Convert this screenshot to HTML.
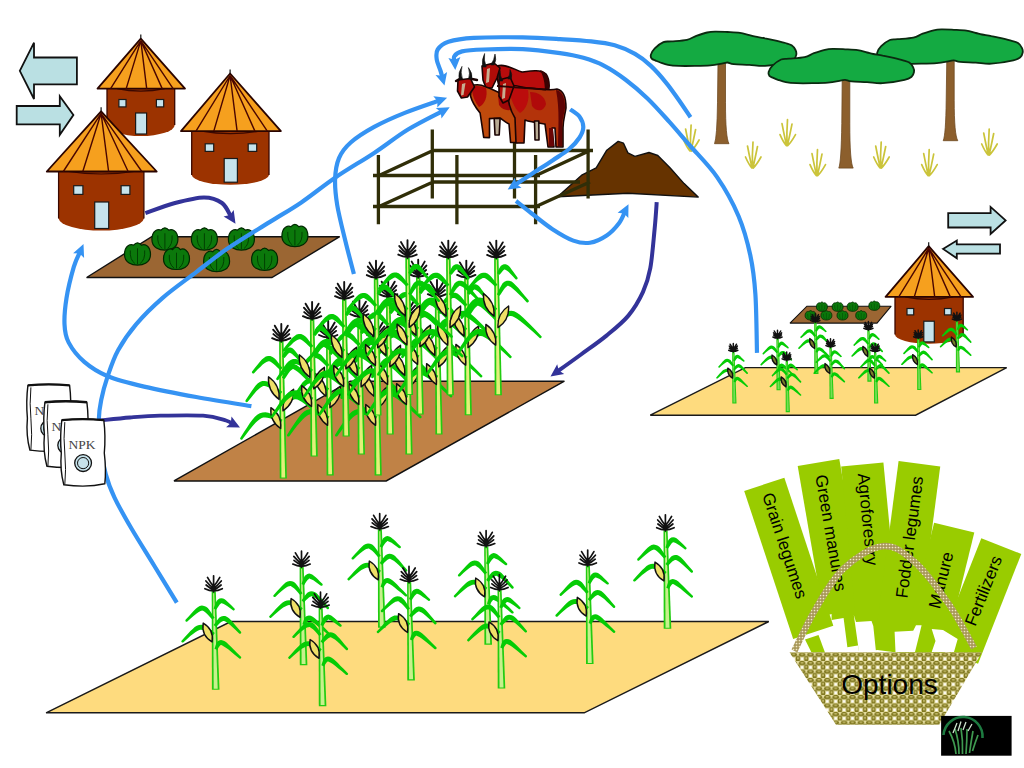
<!DOCTYPE html>
<html><head><meta charset="utf-8"><style>html,body{margin:0;padding:0;background:#fff;overflow:hidden}svg{display:block}</style></head><body>
<svg width="1024" height="768" viewBox="0 0 1024 768">
<defs><pattern id="weave" x="789.5" y="652.5" width="8.4" height="8.5" patternUnits="userSpaceOnUse"><rect width="8.4" height="8.5" fill="#e4dc9e"/><rect x="3" y="5.1" width="2.4" height="2.4" fill="#ffffff"/><ellipse cx="4.2" cy="2.1" rx="3.3" ry="2.2" fill="#807820"/><ellipse cx="4.2" cy="1.7" rx="1.7" ry="0.8" fill="#c4ba6a"/><ellipse cx="0" cy="6.35" rx="2.2" ry="3.0" fill="#807820"/><ellipse cx="8.4" cy="6.35" rx="2.2" ry="3.0" fill="#807820"/><ellipse cx="0" cy="5.8" rx="0.9" ry="1.4" fill="#c4ba6a"/><ellipse cx="8.4" cy="5.8" rx="0.9" ry="1.4" fill="#c4ba6a"/></pattern><pattern id="weave2" width="3" height="3" patternUnits="userSpaceOnUse"><rect width="3" height="3" fill="#a8985a"/><circle cx="1.5" cy="1.5" r="0.85" fill="#f0e8c4"/></pattern></defs>
<rect width="1024" height="768" fill="#ffffff"/>
<polygon points="19.8,70.8 34,42.7 34,57.5 76.9,57.5 76.9,84.4 34,84.4 34,99" fill="#bae0e3" stroke="#111" stroke-width="1.8" stroke-linejoin="miter"/>
<polygon points="73.4,115 59.8,96.2 59.8,106 16.7,106 16.7,124.4 59.8,124.4 59.8,134.8" fill="#bae0e3" stroke="#111" stroke-width="1.8" stroke-linejoin="miter"/>
<polygon points="1005.6,220.4 990.6,206.9 990.6,213.2 948.2,213.2 948.2,227.5 990.6,227.5 990.6,233.9" fill="#bae0e3" stroke="#111" stroke-width="1.8" stroke-linejoin="miter"/>
<polygon points="943,248.9 956.8,240.6 956.8,244.4 1000,244.4 1000,253.7 956.8,253.7 956.8,258.2" fill="#bae0e3" stroke="#111" stroke-width="1.8" stroke-linejoin="miter"/>
<path d="M107,86.6 L107,125 A33.8,11 0 0 0 174.7,125 L174.7,86.6 Z" fill="#9c3300"/>
<path d="M107,88.6 L107,125 M174.7,88.6 L174.7,125" stroke="#3a0800" stroke-width="1.3" fill="none"/>
<path d="M117,88.6 Q140.8,93.6 164.7,88.6" stroke="#3a0800" stroke-width="1.2" fill="none"/>
<rect x="118.9" y="99.5" width="7.1" height="7.4" fill="#c6e3ec" stroke="#1a1a1a" stroke-width="1.2"/>
<rect x="156.4" y="99.5" width="7.3" height="7.4" fill="#c6e3ec" stroke="#1a1a1a" stroke-width="1.2"/>
<rect x="135.6" y="113" width="11" height="21" fill="#c6e3ec" stroke="#1a1a1a" stroke-width="1.2"/>
<polygon points="140.8,38.6 97.5,88.6 185,88.6" fill="#f6a01e" stroke="#2a0400" stroke-width="1.8" stroke-linejoin="round"/>
<path d="M140.8,40.6 L110.6,88.6 M140.8,40.6 L126.2,88.6 M140.8,40.6 L146.7,88.6 M140.8,40.6 L162.2,88.6 M140.8,40.6 L173.1,88.6 " stroke="#4a0600" stroke-width="1.4" fill="none"/>
<path d="M140.8,38.6 L140.8,34.6" stroke="#111" stroke-width="1.2"/>
<path d="M191.7,129.1 L191.7,175 A38.7,10.3 0 0 0 269,175 L269,129.1 Z" fill="#9c3300"/>
<path d="M191.7,131.1 L191.7,175 M269,131.1 L269,175" stroke="#3a0800" stroke-width="1.3" fill="none"/>
<path d="M201.7,131.1 Q230.3,136.1 259,131.1" stroke="#3a0800" stroke-width="1.2" fill="none"/>
<rect x="205.2" y="143.8" width="8.5" height="7.6" fill="#c6e3ec" stroke="#1a1a1a" stroke-width="1.2"/>
<rect x="248.2" y="143.8" width="8.5" height="7.6" fill="#c6e3ec" stroke="#1a1a1a" stroke-width="1.2"/>
<rect x="224.2" y="158.5" width="13.2" height="23.7" fill="#c6e3ec" stroke="#1a1a1a" stroke-width="1.2"/>
<polygon points="230.1,73.5 181,131.1 280.9,131.1" fill="#f6a01e" stroke="#2a0400" stroke-width="1.8" stroke-linejoin="round"/>
<path d="M230.1,75.5 L196,131.1 M230.1,75.5 L213.8,131.1 M230.1,75.5 L237.1,131.1 M230.1,75.5 L254.9,131.1 M230.1,75.5 L267.3,131.1 " stroke="#4a0600" stroke-width="1.4" fill="none"/>
<path d="M230.1,73.5 L230.1,69.5" stroke="#111" stroke-width="1.2"/>
<path d="M58.6,169.5 L58.6,218.5 A42.7,12.7 0 0 0 143.9,218.5 L143.9,169.5 Z" fill="#9c3300"/>
<path d="M58.6,171.5 L58.6,218.5 M143.9,171.5 L143.9,218.5" stroke="#3a0800" stroke-width="1.3" fill="none"/>
<path d="M68.6,171.5 Q101.2,176.5 133.9,171.5" stroke="#3a0800" stroke-width="1.2" fill="none"/>
<rect x="73.7" y="185.7" width="9.2" height="8.7" fill="#c6e3ec" stroke="#1a1a1a" stroke-width="1.2"/>
<rect x="121.1" y="185.7" width="8.8" height="8.7" fill="#c6e3ec" stroke="#1a1a1a" stroke-width="1.2"/>
<rect x="94.7" y="202" width="14" height="26.5" fill="#c6e3ec" stroke="#1a1a1a" stroke-width="1.2"/>
<polygon points="101.1,111.3 46.8,171.5 156.7,171.5" fill="#f6a01e" stroke="#2a0400" stroke-width="1.8" stroke-linejoin="round"/>
<path d="M101.1,113.3 L63.3,171.5 M101.1,113.3 L82.8,171.5 M101.1,113.3 L108.6,171.5 M101.1,113.3 L128.1,171.5 M101.1,113.3 L141.8,171.5 " stroke="#4a0600" stroke-width="1.4" fill="none"/>
<path d="M101.1,111.3 L101.1,107.3" stroke="#111" stroke-width="1.2"/>
<polygon points="151.7,236.7 339.7,236.7 271.9,277.5 86.6,277.5" fill="#9b6633" stroke-miterlimit="1.5" stroke="#111" stroke-width="1.4"/>
<path d="M151.9,239.6 C151.9,230.2 158.4,228.6 161,230.2 C163.6,227 166.2,227 168.8,230.2 C171.4,228.6 177.9,230.2 177.9,239.6 C177.9,248 170.1,250.1 164.9,250.1 C159.7,250.1 151.9,248 151.9,239.6 Z" fill="#0b780b" stroke="#002800" stroke-width="1.2"/>
<path d="M164.9,233.3 L164.9,249 M157.8,235.4 Q157.1,244.8 162.3,248.5 M172.1,235.4 Q172.7,244.8 167.5,248.5" fill="none" stroke="#003a00" stroke-width="0.9"/>
<path d="M191.4,239.6 C191.4,230.2 197.9,228.6 200.5,230.2 C203.1,227 205.7,227 208.3,230.2 C210.9,228.6 217.4,230.2 217.4,239.6 C217.4,248 209.6,250.1 204.4,250.1 C199.2,250.1 191.4,248 191.4,239.6 Z" fill="#0b780b" stroke="#002800" stroke-width="1.2"/>
<path d="M204.4,233.3 L204.4,249 M197.2,235.4 Q196.6,244.8 201.8,248.5 M211.6,235.4 Q212.2,244.8 207,248.5" fill="none" stroke="#003a00" stroke-width="0.9"/>
<path d="M228.4,239.6 C228.4,230.2 234.9,228.6 237.5,230.2 C240.1,227 242.7,227 245.3,230.2 C247.9,228.6 254.4,230.2 254.4,239.6 C254.4,248 246.6,250.1 241.4,250.1 C236.2,250.1 228.4,248 228.4,239.6 Z" fill="#0b780b" stroke="#002800" stroke-width="1.2"/>
<path d="M241.4,233.3 L241.4,249 M234.2,235.4 Q233.6,244.8 238.8,248.5 M248.6,235.4 Q249.2,244.8 244,248.5" fill="none" stroke="#003a00" stroke-width="0.9"/>
<path d="M281.9,236.1 C281.9,226.7 288.4,225.1 291,226.7 C293.6,223.5 296.2,223.5 298.8,226.7 C301.4,225.1 307.9,226.7 307.9,236.1 C307.9,244.5 300.1,246.6 294.9,246.6 C289.7,246.6 281.9,244.5 281.9,236.1 Z" fill="#0b780b" stroke="#002800" stroke-width="1.2"/>
<path d="M294.9,229.8 L294.9,245.5 M287.8,231.9 Q287.1,241.3 292.3,245 M302,231.9 Q302.7,241.3 297.5,245" fill="none" stroke="#003a00" stroke-width="0.9"/>
<path d="M124.5,254.6 C124.5,245.2 131,243.6 133.6,245.2 C136.2,242 138.8,242 141.4,245.2 C144,243.6 150.5,245.2 150.5,254.6 C150.5,263 142.7,265.1 137.5,265.1 C132.3,265.1 124.5,263 124.5,254.6 Z" fill="#0b780b" stroke="#002800" stroke-width="1.2"/>
<path d="M137.5,248.3 L137.5,264.1 M130.3,250.4 Q129.7,259.9 134.9,263.5 M144.7,250.4 Q145.3,259.9 140.1,263.5" fill="none" stroke="#003a00" stroke-width="0.9"/>
<path d="M163.5,259 C163.5,249.6 170,248 172.6,249.6 C175.2,246.4 177.8,246.4 180.4,249.6 C183,248 189.5,249.6 189.5,259 C189.5,267.4 181.7,269.5 176.5,269.5 C171.3,269.5 163.5,267.4 163.5,259 Z" fill="#0b780b" stroke="#002800" stroke-width="1.2"/>
<path d="M176.5,252.7 L176.5,268.4 M169.3,254.8 Q168.7,264.2 173.9,267.9 M183.7,254.8 Q184.3,264.2 179.1,267.9" fill="none" stroke="#003a00" stroke-width="0.9"/>
<path d="M203.6,261.2 C203.6,251.8 210.1,250.2 212.7,251.8 C215.3,248.6 217.9,248.6 220.5,251.8 C223.1,250.2 229.6,251.8 229.6,261.2 C229.6,269.6 221.8,271.7 216.6,271.7 C211.4,271.7 203.6,269.6 203.6,261.2 Z" fill="#0b780b" stroke="#002800" stroke-width="1.2"/>
<path d="M216.6,254.9 L216.6,270.6 M209.4,257 Q208.8,266.4 214,270.1 M223.8,257 Q224.4,266.4 219.2,270.1" fill="none" stroke="#003a00" stroke-width="0.9"/>
<path d="M251.6,259.9 C251.6,250.4 258.1,248.9 260.7,250.4 C263.3,247.3 265.9,247.3 268.5,250.4 C271.1,248.9 277.6,250.4 277.6,259.9 C277.6,268.3 269.8,270.4 264.6,270.4 C259.4,270.4 251.6,268.3 251.6,259.9 Z" fill="#0b780b" stroke="#002800" stroke-width="1.2"/>
<path d="M264.6,253.6 L264.6,269.3 M257.5,255.7 Q256.8,265.1 262,268.8 M271.8,255.7 Q272.4,265.1 267.2,268.8" fill="none" stroke="#003a00" stroke-width="0.9"/>
<path d="M690,151 Q687.1,148 683.6,140 M690.2,151 Q688.1,142 685.6,129 M690.6,151 Q690.1,139 691.1,125 M691,151 Q693.1,142 695.6,129.5 M691.3,151 Q694.6,148 699.1,140 " stroke="#cbc43a" stroke-width="1.7" fill="none" stroke-linecap="round"/>
<path d="M751.9,168 Q749,165 745.5,157 M752.1,168 Q750,159 747.5,146 M752.5,168 Q752,156 753,142 M752.9,168 Q755,159 757.5,146.5 M753.2,168 Q756.5,165 761,157 " stroke="#cbc43a" stroke-width="1.7" fill="none" stroke-linecap="round"/>
<path d="M786.4,145.6 Q783.5,142.6 780,134.6 M786.6,145.6 Q784.5,136.6 782,123.6 M787,145.6 Q786.5,133.6 787.5,119.6 M787.4,145.6 Q789.5,136.6 792,124.1 M787.7,145.6 Q791,142.6 795.5,134.6 " stroke="#cbc43a" stroke-width="1.7" fill="none" stroke-linecap="round"/>
<path d="M816.4,175.6 Q813.5,172.6 810,164.6 M816.6,175.6 Q814.5,166.6 812,153.6 M817,175.6 Q816.5,163.6 817.5,149.6 M817.4,175.6 Q819.5,166.6 822,154.1 M817.7,175.6 Q821,172.6 825.5,164.6 " stroke="#cbc43a" stroke-width="1.7" fill="none" stroke-linecap="round"/>
<path d="M880.1,168 Q877.2,165 873.7,157 M880.3,168 Q878.2,159 875.7,146 M880.7,168 Q880.2,156 881.2,142 M881.1,168 Q883.2,159 885.7,146.5 M881.4,168 Q884.7,165 889.2,157 " stroke="#cbc43a" stroke-width="1.7" fill="none" stroke-linecap="round"/>
<path d="M928.1,175.6 Q925.2,172.6 921.7,164.6 M928.3,175.6 Q926.2,166.6 923.7,153.6 M928.7,175.6 Q928.2,163.6 929.2,149.6 M929.1,175.6 Q931.2,166.6 933.7,154.1 M929.4,175.6 Q932.7,172.6 937.2,164.6 " stroke="#cbc43a" stroke-width="1.7" fill="none" stroke-linecap="round"/>
<path d="M988.1,155 Q985.2,152 981.7,144 M988.3,155 Q986.2,146 983.7,133 M988.7,155 Q988.2,143 989.2,129 M989.1,155 Q991.2,146 993.7,133.5 M989.4,155 Q992.7,152 997.2,144 " stroke="#cbc43a" stroke-width="1.7" fill="none" stroke-linecap="round"/>
<path d="M718,62 L717.5,102.8 Q717,137.7 714.5,143.7 L729,143.7 Q725.5,137.7 725.5,102.8 L725.5,62 Z" fill="#8c5f2d" stroke="#6f4a22" stroke-width="0.8"/>
<path d="M650.9,54.7 C651.4,53 652.7,50.5 654.8,48.4 C656.9,46.3 660.6,43.4 663.4,42.2 C666.1,41 667.4,41.8 671.3,41.4 C675.2,41 682.7,40.7 686.9,39.8 C691.1,38.9 692.9,37.1 696.3,35.9 C699.7,34.7 704.1,33.2 707.2,32.5 C710.3,31.8 711.6,31.7 715,31.6 C718.4,31.5 723.3,31.8 727.5,32 C731.7,32.2 736.4,32.3 740,32.8 C743.6,33.3 746.8,34.6 749.4,35.2 C752,35.9 753,36.2 755.6,36.7 C758.2,37.2 761.6,37.6 765,38.3 C768.4,38.9 772.5,39.8 775.9,40.6 C779.3,41.4 782.7,42.2 785.3,43 C787.9,43.8 789.9,44.1 791.6,45.3 C793.3,46.5 794.7,48.4 795.5,50 C796.3,51.6 796.6,53.1 796.3,54.7 C796,56.3 795.5,58.1 793.9,59.4 C792.3,60.7 791.7,61.4 786.9,62.5 C782.1,63.6 771.2,65.5 765,65.9 C758.8,66.3 754.6,65.1 749.4,64.8 C744.2,64.5 737.4,64.5 733.8,64.1 C730.1,63.7 729.3,62.6 727.5,62.5 C725.7,62.4 725.7,62.8 722.8,63.3 C719.9,63.8 715,64.9 710.3,65.3 C705.6,65.7 699.9,65.8 694.7,65.9 C689.5,66 683.5,66.1 679.1,65.9 C674.7,65.7 671.2,65.4 668.1,64.8 C665,64.2 662.4,63.2 660.3,62.5 C658.2,61.8 657,61.2 655.6,60.6 C654.2,60 652.5,59.6 651.7,58.6 C650.9,57.6 650.4,56.4 650.9,54.7 Z" fill="#14aa42" stroke="#0b2a10" stroke-width="1.8"/>
<path d="M946.8,59.8 L946.2,100.2 Q945.8,134.7 943.2,140.7 L957.8,140.7 Q954.2,134.7 954.2,100.2 L954.2,59.8 Z" fill="#8c5f2d" stroke="#6f4a22" stroke-width="0.8"/>
<path d="M877.3,52.5 C877.8,50.8 879.1,48.3 881.2,46.2 C883.3,44.1 887,41.2 889.8,40 C892.5,38.8 893.8,39.6 897.7,39.2 C901.6,38.8 909.1,38.5 913.3,37.6 C917.5,36.7 919.3,34.9 922.7,33.7 C926.1,32.5 930.5,31 933.6,30.3 C936.7,29.6 938,29.5 941.4,29.4 C944.8,29.3 949.7,29.6 953.9,29.8 C958.1,30 962.8,30.1 966.4,30.6 C970,31.1 973.2,32.4 975.8,33 C978.4,33.6 979.4,34 982,34.5 C984.6,35 988,35.4 991.4,36.1 C994.8,36.7 998.9,37.6 1002.3,38.4 C1005.7,39.2 1009.1,40 1011.7,40.8 C1014.3,41.6 1016.3,41.9 1018,43.1 C1019.7,44.3 1021.1,46.2 1021.9,47.8 C1022.7,49.4 1023,50.9 1022.7,52.5 C1022.4,54.1 1021.9,55.9 1020.3,57.2 C1018.7,58.5 1018.1,59.2 1013.3,60.3 C1008.5,61.4 997.6,63.3 991.4,63.7 C985.1,64.1 981,62.9 975.8,62.6 C970.6,62.3 963.8,62.3 960.2,61.9 C956.5,61.5 955.7,60.4 953.9,60.3 C952.1,60.2 952.1,60.6 949.2,61.1 C946.3,61.6 941.4,62.7 936.7,63.1 C932,63.5 926.3,63.6 921.1,63.7 C915.9,63.8 909.9,63.9 905.5,63.7 C901.1,63.5 897.6,63.2 894.5,62.6 C891.4,62 888.8,61 886.7,60.3 C884.6,59.6 883.4,59 882,58.4 C880.6,57.8 878.9,57.4 878.1,56.4 C877.3,55.4 876.8,54.2 877.3,52.5 Z" fill="#14aa42" stroke="#0b2a10" stroke-width="1.8"/>
<path d="M842.2,79.3 L841.8,123.7 Q841.2,162.1 838.8,168.1 L853.2,168.1 Q849.8,162.1 849.8,123.7 L849.8,79.3 Z" fill="#8c5f2d" stroke="#6f4a22" stroke-width="0.8"/>
<path d="M768.6,72 C769.1,70.3 770.4,67.8 772.5,65.7 C774.6,63.6 778.4,60.7 781.1,59.5 C783.9,58.3 785.1,59.1 789,58.7 C792.9,58.3 800.4,58 804.6,57.1 C808.8,56.2 810.6,54.4 814,53.2 C817.4,52 821.8,50.5 824.9,49.8 C828,49.1 829.3,49 832.7,48.9 C836.1,48.8 841,49.1 845.2,49.3 C849.4,49.5 854.1,49.6 857.7,50.1 C861.4,50.6 864.5,51.9 867.1,52.5 C869.7,53.1 870.7,53.5 873.3,54 C875.9,54.5 879.3,54.9 882.7,55.6 C886.1,56.2 890.2,57.1 893.6,57.9 C897,58.7 900.4,59.5 903,60.3 C905.6,61.1 907.6,61.4 909.3,62.6 C911,63.8 912.4,65.7 913.2,67.3 C914,68.9 914.3,70.4 914,72 C913.7,73.6 913.2,75.4 911.6,76.7 C910,78 909.4,78.7 904.6,79.8 C899.8,80.9 889,82.8 882.7,83.2 C876.5,83.6 872.3,82.4 867.1,82.1 C861.9,81.8 855.1,81.8 851.5,81.4 C847.9,81 847,79.9 845.2,79.8 C843.4,79.7 843.4,80.1 840.5,80.6 C837.6,81.1 832.7,82.2 828,82.6 C823.3,83 817.6,83.1 812.4,83.2 C807.2,83.3 801.2,83.4 796.8,83.2 C792.4,83 788.9,82.7 785.8,82.1 C782.7,81.5 780.1,80.5 778,79.8 C775.9,79.1 774.7,78.6 773.3,77.9 C771.9,77.2 770.2,76.9 769.4,75.9 C768.6,74.9 768.1,73.7 768.6,72 Z" fill="#14aa42" stroke="#0b2a10" stroke-width="1.8"/>
<polygon points="745.3,367.6 1006.7,367.6 915.6,415.2 650.3,415.2" fill="#fedb7e" stroke-miterlimit="1.5" stroke="#1a1a1a" stroke-width="1.4"/>
<polygon points="806.9,306.2 891.2,306.2 877,323.1 790,323.1" fill="#9b6633" stroke-miterlimit="1.5" stroke="#111" stroke-width="1.1"/>
<path d="M816.4,307 C816.4,303 819.2,302.4 820.3,303 C821.4,301.7 822.4,301.7 823.5,303 C824.6,302.4 827.4,303 827.4,307 C827.4,310.5 824.1,311.4 821.9,311.4 C819.7,311.4 816.4,310.5 816.4,307 Z" fill="#0b780b" stroke="#002800" stroke-width="0.8"/>
<path d="M821.9,304.4 L821.9,311 M818.9,305.2 Q818.6,309.2 820.8,310.7 M824.9,305.2 Q825.2,309.2 823,310.7" fill="none" stroke="#003a00" stroke-width="0.4"/>
<path d="M832.1,307 C832.1,303 834.9,302.4 836,303 C837.1,301.7 838.1,301.7 839.2,303 C840.3,302.4 843.1,303 843.1,307 C843.1,310.5 839.8,311.4 837.6,311.4 C835.4,311.4 832.1,310.5 832.1,307 Z" fill="#0b780b" stroke="#002800" stroke-width="0.8"/>
<path d="M837.6,304.4 L837.6,311 M834.6,305.2 Q834.3,309.2 836.5,310.7 M840.6,305.2 Q840.9,309.2 838.7,310.7" fill="none" stroke="#003a00" stroke-width="0.4"/>
<path d="M847.1,307 C847.1,303 849.9,302.4 851,303 C852.1,301.7 853.1,301.7 854.2,303 C855.3,302.4 858.1,303 858.1,307 C858.1,310.5 854.8,311.4 852.6,311.4 C850.4,311.4 847.1,310.5 847.1,307 Z" fill="#0b780b" stroke="#002800" stroke-width="0.8"/>
<path d="M852.6,304.4 L852.6,311 M849.6,305.2 Q849.3,309.2 851.5,310.7 M855.6,305.2 Q855.9,309.2 853.7,310.7" fill="none" stroke="#003a00" stroke-width="0.4"/>
<path d="M868.8,306 C868.8,302 871.6,301.4 872.7,302 C873.8,300.7 874.8,300.7 875.9,302 C877,301.4 879.8,302 879.8,306 C879.8,309.5 876.5,310.4 874.3,310.4 C872.1,310.4 868.8,309.5 868.8,306 Z" fill="#0b780b" stroke="#002800" stroke-width="0.8"/>
<path d="M874.3,303.4 L874.3,310 M871.3,304.2 Q871,308.2 873.2,309.7 M877.3,304.2 Q877.6,308.2 875.4,309.7" fill="none" stroke="#003a00" stroke-width="0.4"/>
<path d="M805.1,315.6 C805.1,311.6 807.9,311 809,311.6 C810.1,310.3 811.1,310.3 812.2,311.6 C813.3,311 816.1,311.6 816.1,315.6 C816.1,319.1 812.8,320 810.6,320 C808.4,320 805.1,319.1 805.1,315.6 Z" fill="#0b780b" stroke="#002800" stroke-width="0.8"/>
<path d="M810.6,313 L810.6,319.6 M807.6,313.8 Q807.3,317.8 809.5,319.3 M813.6,313.8 Q813.9,317.8 811.7,319.3" fill="none" stroke="#003a00" stroke-width="0.4"/>
<path d="M820.9,315.6 C820.9,311.6 823.7,311 824.8,311.6 C825.9,310.3 826.9,310.3 828,311.6 C829.1,311 831.9,311.6 831.9,315.6 C831.9,319.1 828.6,320 826.4,320 C824.2,320 820.9,319.1 820.9,315.6 Z" fill="#0b780b" stroke="#002800" stroke-width="0.8"/>
<path d="M826.4,313 L826.4,319.6 M823.4,313.8 Q823.1,317.8 825.3,319.3 M829.4,313.8 Q829.7,317.8 827.5,319.3" fill="none" stroke="#003a00" stroke-width="0.4"/>
<path d="M837,315.6 C837,311.6 839.8,311 840.9,311.6 C842,310.3 843,310.3 844.1,311.6 C845.2,311 848,311.6 848,315.6 C848,319.1 844.7,320 842.5,320 C840.3,320 837,319.1 837,315.6 Z" fill="#0b780b" stroke="#002800" stroke-width="0.8"/>
<path d="M842.5,313 L842.5,319.6 M839.5,313.8 Q839.2,317.8 841.4,319.3 M845.5,313.8 Q845.8,317.8 843.6,319.3" fill="none" stroke="#003a00" stroke-width="0.4"/>
<path d="M855.7,315.6 C855.7,311.6 858.5,311 859.6,311.6 C860.7,310.3 861.7,310.3 862.8,311.6 C863.9,311 866.7,311.6 866.7,315.6 C866.7,319.1 863.4,320 861.2,320 C859,320 855.7,319.1 855.7,315.6 Z" fill="#0b780b" stroke="#002800" stroke-width="0.8"/>
<path d="M861.2,313 L861.2,319.6 M858.2,313.8 Q857.9,317.8 860.1,319.3 M864.2,313.8 Q864.5,317.8 862.3,319.3" fill="none" stroke="#003a00" stroke-width="0.4"/>
<path d="M895,294.9 L895,334.4 A34.1,9.3 0 0 0 963.2,334.4 L963.2,294.9 Z" fill="#9c3300"/>
<path d="M895,296.9 L895,334.4 M963.2,296.9 L963.2,334.4" stroke="#3a0800" stroke-width="1.3" fill="none"/>
<path d="M905,296.9 Q929.1,301.9 953.2,296.9" stroke="#3a0800" stroke-width="1.2" fill="none"/>
<rect x="907" y="308.5" width="6.7" height="6.4" fill="#c6e3ec" stroke="#1a1a1a" stroke-width="1.2"/>
<rect x="944.5" y="308.5" width="6.7" height="6.4" fill="#c6e3ec" stroke="#1a1a1a" stroke-width="1.2"/>
<rect x="923.8" y="321.2" width="10.5" height="20.7" fill="#c6e3ec" stroke="#1a1a1a" stroke-width="1.2"/>
<polygon points="928.7,246.2 885.6,296.9 973,296.9" fill="#f6a01e" stroke="#2a0400" stroke-width="1.8" stroke-linejoin="round"/>
<path d="M928.7,248.2 L898.7,296.9 M928.7,248.2 L914.3,296.9 M928.7,248.2 L934.7,296.9 M928.7,248.2 L950.3,296.9 M928.7,248.2 L961.1,296.9 " stroke="#4a0600" stroke-width="1.4" fill="none"/>
<path d="M928.7,246.2 L928.7,242.2" stroke="#111" stroke-width="1.2"/>
<path d="M955.9,372.4 L955.8,320.4 L958.1,320.4 L960.1,372.4 Z" fill="#22cc11"/>
<path d="M957,371.3 L956.6,322.4 L957.3,322.4 L959,371.3 Z" fill="#77dd55"/>
<polygon points="958.5,330.2 959.2,329.1 959.8,328.2 960.3,327.6 960.8,327.2 961,327 961,327 961,327 961.1,327 961.4,327.1 962.1,327.3 963,327.8 964.1,328.5 965.3,329.3 966.8,330.4 967.1,330.7 967.6,330.6 968,330.4 968.2,329.9 968.1,329.5 967.8,329.2 966.6,327.9 965.5,326.8 964.5,325.8 963.7,325 962.9,324.4 962,323.9 961,323.7 959.9,323.9 959,324.5 958.3,325.2 957.9,326 957.6,327 957.2,328.1 956.7,329.4" fill="#05cc05"/>
<polygon points="957.6,334.2 956.6,332.6 955.7,331.2 954.9,330.1 954.1,329 953.1,328.3 952,327.8 950.7,327.7 949.5,327.9 948.4,328.5 947.4,329.4 946.3,330.5 945.1,331.8 943.8,333.4 942.2,335.1 941.9,335.5 941.9,335.9 942.1,336.3 942.5,336.6 943,336.6 943.3,336.3 945.1,334.7 946.7,333.4 948,332.4 949.1,331.6 950,331.2 950.6,330.9 950.9,330.9 951.1,330.9 951.5,331 952,331.4 952.8,332 953.7,332.8 954.8,334 956,335.4" fill="#05cc05"/>
<polygon points="958.3,339.3 959.4,338.2 960.3,337.4 961,336.8 961.6,336.5 962,336.3 962.1,336.3 962.3,336.3 962.7,336.4 963.3,336.8 964.3,337.4 965.4,338.2 966.7,339.4 968.3,340.9 970.1,342.6 970.4,342.9 970.9,342.9 971.3,342.7 971.5,342.3 971.6,341.9 971.3,341.5 969.7,339.6 968.3,337.9 967.1,336.5 966.1,335.3 965.2,334.3 964.2,333.6 963.1,333.2 961.9,333 960.7,333.3 959.8,333.9 959,334.7 958.4,335.7 957.6,336.8 956.8,338.1" fill="#05cc05"/>
<polygon points="957.6,342.1 956.2,340.9 955,339.9 953.9,339 952.8,338.3 951.7,337.9 950.4,337.7 949.2,337.8 948,338.3 946.8,339 945.7,340 944.6,341.1 943.3,342.5 941.8,344.2 940.1,346.1 939.8,346.4 939.8,346.9 940,347.3 940.4,347.5 940.9,347.5 941.2,347.3 943.1,345.6 944.8,344.1 946.2,343 947.5,342.1 948.5,341.5 949.3,341.2 949.9,341 950.4,340.9 950.9,341 951.6,341.2 952.5,341.5 953.6,342 955,342.8 956.5,343.7" fill="#05cc05"/>
<polygon points="959,351.3 959.6,350.3 960.1,349.6 960.6,349.1 960.9,348.9 960.9,348.9 960.8,349 960.9,349 961.3,349.2 962.1,349.6 963.2,350.3 964.5,351.2 966.1,352.4 968,354 970.1,355.7 970.5,356 971,356 971.3,355.8 971.6,355.4 971.5,354.9 971.2,354.6 969.3,352.6 967.6,350.8 966.2,349.4 965,348.1 963.9,347.1 962.9,346.4 961.9,345.9 960.8,345.7 959.6,346 958.7,346.6 958.2,347.5 957.8,348.4 957.5,349.4 957.2,350.6" fill="#05cc05"/>
<path d="M951.4,337.1 Q950.4,343.7 956.1,347 Q957.2,340.4 951.4,337.1 Z" fill="#7b7d2a" stroke="#111" stroke-width="1.4" stroke-linejoin="round"/>
<path d="M956.9,320.9 L956.9,312.3 M956.9,320.2 Q954.6,320.2 952.3,319.1 M956.9,320.2 Q959.2,320.2 961.5,319.1 M956.9,319.6 Q954.9,318.9 953,317.1 M956.9,319.6 Q958.9,318.9 960.9,317.1 M956.9,318.9 Q954.9,317.5 952.9,315 M956.9,318.9 Q958.9,317.5 961,315 M956.9,317.9 Q955.3,316.1 953.7,313.1 M956.9,317.9 Q958.5,316.1 960.1,313.1 " stroke="#111" stroke-width="1.5" stroke-linecap="round" fill="none"/>
<path d="M814.3,373.9 L814.2,321.9 L816.5,321.9 L818.5,373.9 Z" fill="#22cc11"/>
<path d="M815.4,372.8 L815,323.9 L815.7,323.9 L817.4,372.8 Z" fill="#77dd55"/>
<polygon points="816.9,331.7 817.6,330.6 818.2,329.7 818.7,329.1 819.2,328.7 819.4,328.5 819.4,328.5 819.4,328.5 819.5,328.5 819.8,328.6 820.5,328.8 821.4,329.3 822.5,330 823.7,330.8 825.2,331.9 825.5,332.2 826,332.1 826.4,331.9 826.6,331.4 826.5,331 826.2,330.7 825,329.4 823.9,328.3 822.9,327.3 822.1,326.5 821.3,325.9 820.4,325.4 819.4,325.2 818.3,325.4 817.4,326 816.7,326.7 816.3,327.5 816,328.5 815.6,329.6 815.1,330.9" fill="#05cc05"/>
<polygon points="816,335.7 815,334.1 814.1,332.7 813.3,331.6 812.5,330.5 811.5,329.8 810.4,329.3 809.1,329.2 807.9,329.4 806.8,330 805.8,330.9 804.7,332 803.5,333.3 802.2,334.9 800.6,336.6 800.3,337 800.3,337.4 800.5,337.8 800.9,338.1 801.4,338.1 801.7,337.8 803.5,336.2 805.1,334.9 806.4,333.9 807.5,333.1 808.4,332.7 809,332.4 809.3,332.4 809.5,332.4 809.9,332.5 810.4,332.9 811.2,333.5 812.1,334.3 813.2,335.5 814.4,336.9" fill="#05cc05"/>
<polygon points="816.7,340.8 817.8,339.7 818.7,338.9 819.4,338.3 820,338 820.4,337.8 820.5,337.8 820.7,337.8 821.1,337.9 821.7,338.3 822.7,338.9 823.8,339.7 825.1,340.9 826.7,342.4 828.5,344.1 828.8,344.4 829.3,344.4 829.7,344.2 829.9,343.8 830,343.4 829.7,343 828.1,341.1 826.7,339.4 825.5,338 824.5,336.8 823.6,335.8 822.6,335.1 821.5,334.7 820.3,334.5 819.1,334.8 818.2,335.4 817.4,336.2 816.8,337.2 816,338.3 815.2,339.6" fill="#05cc05"/>
<polygon points="816,343.6 814.6,342.4 813.4,341.4 812.3,340.5 811.2,339.8 810.1,339.4 808.8,339.2 807.6,339.3 806.4,339.8 805.2,340.5 804.1,341.5 803,342.6 801.7,344 800.2,345.7 798.5,347.6 798.2,347.9 798.2,348.4 798.4,348.8 798.8,349 799.3,349 799.6,348.8 801.5,347.1 803.2,345.6 804.6,344.5 805.9,343.6 806.9,343 807.7,342.7 808.3,342.5 808.8,342.4 809.3,342.5 810,342.7 810.9,343 812,343.5 813.4,344.3 814.9,345.2" fill="#05cc05"/>
<polygon points="817.4,352.8 818,351.8 818.5,351.1 819,350.6 819.3,350.4 819.3,350.4 819.2,350.5 819.3,350.5 819.7,350.7 820.5,351.1 821.6,351.8 822.9,352.7 824.5,353.9 826.4,355.5 828.5,357.2 828.9,357.5 829.4,357.5 829.7,357.3 830,356.9 829.9,356.4 829.6,356.1 827.7,354.1 826,352.3 824.6,350.9 823.4,349.6 822.3,348.6 821.3,347.9 820.3,347.4 819.2,347.2 818,347.5 817.1,348.1 816.6,349 816.2,349.9 815.9,350.9 815.6,352.1" fill="#05cc05"/>
<path d="M809.8,338.6 Q808.8,345.2 814.5,348.5 Q815.6,341.9 809.8,338.6 Z" fill="#7b7d2a" stroke="#111" stroke-width="1.4" stroke-linejoin="round"/>
<path d="M815.3,322.4 L815.3,313.8 M815.3,321.7 Q813,321.7 810.7,320.6 M815.3,321.7 Q817.6,321.7 819.9,320.6 M815.3,321.1 Q813.3,320.4 811.4,318.6 M815.3,321.1 Q817.3,320.4 819.3,318.6 M815.3,320.4 Q813.3,319 811.3,316.5 M815.3,320.4 Q817.3,319 819.4,316.5 M815.3,319.4 Q813.7,317.6 812.1,314.6 M815.3,319.4 Q816.9,317.6 818.5,314.6 " stroke="#111" stroke-width="1.5" stroke-linecap="round" fill="none"/>
<path d="M867.4,381.7 L867.3,329.7 L869.6,329.7 L871.6,381.7 Z" fill="#22cc11"/>
<path d="M868.5,380.6 L868.1,331.7 L868.8,331.7 L870.5,380.6 Z" fill="#77dd55"/>
<polygon points="870,339.5 870.7,338.4 871.3,337.5 871.8,336.9 872.3,336.5 872.5,336.3 872.5,336.3 872.5,336.3 872.6,336.3 872.9,336.4 873.6,336.6 874.5,337.1 875.6,337.8 876.8,338.6 878.3,339.7 878.6,340 879.1,339.9 879.5,339.7 879.7,339.2 879.6,338.8 879.3,338.5 878.1,337.2 877,336.1 876,335.1 875.2,334.3 874.4,333.7 873.5,333.2 872.5,333 871.4,333.2 870.5,333.8 869.8,334.5 869.4,335.3 869.1,336.3 868.7,337.4 868.2,338.7" fill="#05cc05"/>
<polygon points="869.1,343.5 868.1,341.9 867.2,340.5 866.4,339.4 865.6,338.3 864.6,337.6 863.5,337.1 862.2,337 861,337.2 859.9,337.8 858.9,338.7 857.8,339.8 856.6,341.1 855.3,342.7 853.7,344.4 853.4,344.8 853.4,345.2 853.6,345.6 854,345.9 854.5,345.9 854.8,345.6 856.6,344 858.2,342.7 859.5,341.7 860.6,340.9 861.5,340.5 862.1,340.2 862.4,340.2 862.6,340.2 863,340.3 863.5,340.7 864.3,341.3 865.2,342.1 866.3,343.3 867.5,344.7" fill="#05cc05"/>
<polygon points="869.8,348.6 870.9,347.5 871.8,346.7 872.5,346.1 873.1,345.8 873.5,345.6 873.6,345.6 873.8,345.6 874.2,345.7 874.8,346.1 875.8,346.7 876.9,347.5 878.2,348.7 879.8,350.2 881.6,351.9 881.9,352.2 882.4,352.2 882.8,352 883,351.6 883.1,351.2 882.8,350.8 881.2,348.9 879.8,347.2 878.6,345.8 877.6,344.6 876.7,343.6 875.7,342.9 874.6,342.5 873.4,342.3 872.2,342.6 871.3,343.2 870.5,344 869.9,345 869.1,346.1 868.3,347.4" fill="#05cc05"/>
<polygon points="869.1,351.4 867.7,350.2 866.5,349.2 865.4,348.3 864.3,347.6 863.2,347.2 861.9,347 860.7,347.1 859.5,347.6 858.3,348.3 857.2,349.3 856.1,350.4 854.8,351.8 853.3,353.5 851.6,355.4 851.3,355.7 851.3,356.2 851.5,356.6 851.9,356.8 852.4,356.8 852.7,356.6 854.6,354.9 856.3,353.4 857.7,352.3 859,351.4 860,350.8 860.8,350.5 861.4,350.3 861.9,350.2 862.4,350.3 863.1,350.5 864,350.8 865.1,351.3 866.5,352.1 868,353" fill="#05cc05"/>
<polygon points="870.5,360.6 871.1,359.6 871.6,358.9 872.1,358.4 872.4,358.2 872.4,358.2 872.3,358.3 872.4,358.3 872.8,358.5 873.6,358.9 874.7,359.6 876,360.5 877.6,361.7 879.5,363.3 881.6,365 882,365.3 882.5,365.3 882.8,365.1 883.1,364.7 883,364.2 882.7,363.9 880.8,361.9 879.1,360.1 877.7,358.7 876.5,357.4 875.4,356.4 874.4,355.7 873.4,355.2 872.3,355 871.1,355.3 870.2,355.9 869.7,356.8 869.3,357.7 869,358.7 868.7,359.9" fill="#05cc05"/>
<path d="M862.9,346.4 Q861.9,353 867.6,356.3 Q868.7,349.7 862.9,346.4 Z" fill="#7b7d2a" stroke="#111" stroke-width="1.4" stroke-linejoin="round"/>
<path d="M868.4,330.2 L868.4,321.6 M868.4,329.5 Q866.1,329.5 863.8,328.4 M868.4,329.5 Q870.7,329.5 873,328.4 M868.4,328.9 Q866.4,328.2 864.5,326.4 M868.4,328.9 Q870.4,328.2 872.4,326.4 M868.4,328.2 Q866.4,326.8 864.4,324.3 M868.4,328.2 Q870.4,326.8 872.5,324.3 M868.4,327.2 Q866.8,325.4 865.2,322.4 M868.4,327.2 Q870,325.4 871.6,322.4 " stroke="#111" stroke-width="1.5" stroke-linecap="round" fill="none"/>
<path d="M917.2,390 L917.1,338 L919.4,338 L921.4,390 Z" fill="#22cc11"/>
<path d="M918.3,388.9 L917.9,340 L918.6,340 L920.3,388.9 Z" fill="#77dd55"/>
<polygon points="919.8,347.8 920.5,346.7 921.1,345.8 921.6,345.2 922.1,344.8 922.3,344.6 922.3,344.6 922.3,344.6 922.4,344.6 922.7,344.7 923.4,344.9 924.3,345.4 925.4,346.1 926.6,346.9 928.1,348 928.4,348.3 928.9,348.2 929.3,348 929.5,347.5 929.4,347.1 929.1,346.8 927.9,345.5 926.8,344.4 925.8,343.4 925,342.6 924.2,342 923.3,341.5 922.3,341.3 921.2,341.5 920.3,342.1 919.6,342.8 919.2,343.6 918.9,344.6 918.5,345.7 918,347" fill="#05cc05"/>
<polygon points="918.9,351.8 917.9,350.2 917,348.8 916.2,347.7 915.4,346.6 914.4,345.9 913.3,345.4 912,345.3 910.8,345.5 909.7,346.1 908.7,347 907.6,348.1 906.4,349.4 905.1,351 903.5,352.7 903.2,353.1 903.2,353.5 903.4,353.9 903.8,354.2 904.3,354.2 904.6,353.9 906.4,352.3 908,351 909.3,350 910.4,349.2 911.3,348.8 911.9,348.5 912.2,348.5 912.4,348.5 912.8,348.6 913.3,349 914.1,349.6 915,350.4 916.1,351.6 917.3,353" fill="#05cc05"/>
<polygon points="919.6,356.9 920.7,355.8 921.6,355 922.3,354.4 922.9,354.1 923.3,353.9 923.4,353.9 923.6,353.9 924,354 924.6,354.4 925.6,355 926.7,355.8 928,357 929.6,358.5 931.4,360.2 931.7,360.5 932.2,360.5 932.6,360.3 932.8,359.9 932.9,359.5 932.6,359.1 931,357.2 929.6,355.5 928.4,354.1 927.4,352.9 926.5,351.9 925.5,351.2 924.4,350.8 923.2,350.6 922,350.9 921.1,351.5 920.3,352.3 919.7,353.3 918.9,354.4 918.1,355.7" fill="#05cc05"/>
<polygon points="918.9,359.7 917.5,358.5 916.3,357.5 915.2,356.6 914.1,355.9 913,355.5 911.7,355.3 910.5,355.4 909.3,355.9 908.1,356.6 907,357.6 905.9,358.7 904.6,360.1 903.1,361.8 901.4,363.7 901.1,364 901.1,364.5 901.3,364.9 901.7,365.1 902.2,365.1 902.5,364.9 904.4,363.2 906.1,361.7 907.5,360.6 908.8,359.7 909.8,359.1 910.6,358.8 911.2,358.6 911.7,358.5 912.2,358.6 912.9,358.8 913.8,359.1 914.9,359.6 916.3,360.4 917.8,361.3" fill="#05cc05"/>
<polygon points="920.3,368.9 920.9,367.9 921.4,367.2 921.9,366.7 922.2,366.5 922.2,366.5 922.1,366.6 922.2,366.6 922.6,366.8 923.4,367.2 924.5,367.9 925.8,368.8 927.4,370 929.3,371.6 931.4,373.3 931.8,373.6 932.3,373.6 932.6,373.4 932.9,373 932.8,372.5 932.5,372.2 930.6,370.2 928.9,368.4 927.5,367 926.3,365.7 925.2,364.7 924.2,364 923.2,363.5 922.1,363.3 920.9,363.6 920,364.2 919.5,365.1 919.1,366 918.8,367 918.5,368.2" fill="#05cc05"/>
<path d="M912.7,354.7 Q911.7,361.3 917.4,364.6 Q918.5,358 912.7,354.7 Z" fill="#7b7d2a" stroke="#111" stroke-width="1.4" stroke-linejoin="round"/>
<path d="M918.2,338.5 L918.2,329.9 M918.2,337.8 Q915.9,337.8 913.6,336.7 M918.2,337.8 Q920.5,337.8 922.8,336.7 M918.2,337.2 Q916.2,336.5 914.3,334.7 M918.2,337.2 Q920.2,336.5 922.2,334.7 M918.2,336.5 Q916.2,335.1 914.2,332.6 M918.2,336.5 Q920.2,335.1 922.3,332.6 M918.2,335.5 Q916.6,333.7 915,330.7 M918.2,335.5 Q919.8,333.7 921.4,330.7 " stroke="#111" stroke-width="1.5" stroke-linecap="round" fill="none"/>
<path d="M776.5,390.3 L776.4,338.3 L778.7,338.3 L780.7,390.3 Z" fill="#22cc11"/>
<path d="M777.6,389.2 L777.2,340.3 L777.9,340.3 L779.6,389.2 Z" fill="#77dd55"/>
<polygon points="779.1,348.1 779.8,347 780.4,346.1 780.9,345.5 781.4,345.1 781.6,344.9 781.6,344.9 781.6,344.9 781.7,344.9 782,345 782.7,345.2 783.6,345.7 784.7,346.4 785.9,347.2 787.4,348.3 787.7,348.6 788.2,348.5 788.6,348.3 788.8,347.8 788.7,347.4 788.4,347.1 787.2,345.8 786.1,344.7 785.1,343.7 784.3,342.9 783.5,342.3 782.6,341.8 781.6,341.6 780.5,341.8 779.6,342.4 778.9,343.1 778.5,343.9 778.2,344.9 777.8,346 777.3,347.3" fill="#05cc05"/>
<polygon points="778.2,352.1 777.2,350.5 776.3,349.1 775.5,348 774.7,346.9 773.7,346.2 772.6,345.7 771.3,345.6 770.1,345.8 769,346.4 768,347.3 766.9,348.4 765.7,349.7 764.4,351.3 762.8,353 762.5,353.4 762.5,353.8 762.7,354.2 763.1,354.5 763.6,354.5 763.9,354.2 765.7,352.6 767.3,351.3 768.6,350.3 769.7,349.5 770.6,349.1 771.2,348.8 771.5,348.8 771.7,348.8 772.1,348.9 772.6,349.3 773.4,349.9 774.3,350.7 775.4,351.9 776.6,353.3" fill="#05cc05"/>
<polygon points="778.9,357.2 780,356.1 780.9,355.3 781.6,354.7 782.2,354.4 782.6,354.2 782.7,354.2 782.9,354.2 783.3,354.3 783.9,354.7 784.9,355.3 786,356.1 787.3,357.3 788.9,358.8 790.7,360.5 791,360.8 791.5,360.8 791.9,360.6 792.1,360.2 792.2,359.8 791.9,359.4 790.3,357.5 788.9,355.8 787.7,354.4 786.7,353.2 785.8,352.2 784.8,351.5 783.7,351.1 782.5,350.9 781.3,351.2 780.4,351.8 779.6,352.6 779,353.6 778.2,354.7 777.4,356" fill="#05cc05"/>
<polygon points="778.2,360 776.8,358.8 775.6,357.8 774.5,356.9 773.4,356.2 772.3,355.8 771,355.6 769.8,355.7 768.6,356.2 767.4,356.9 766.3,357.9 765.2,359 763.9,360.4 762.4,362.1 760.7,364 760.4,364.3 760.4,364.8 760.6,365.2 761,365.4 761.5,365.4 761.8,365.2 763.7,363.5 765.4,362 766.8,360.9 768.1,360 769.1,359.4 769.9,359.1 770.5,358.9 771,358.8 771.5,358.9 772.2,359.1 773.1,359.4 774.2,359.9 775.6,360.7 777.1,361.6" fill="#05cc05"/>
<polygon points="779.6,369.2 780.2,368.2 780.7,367.5 781.2,367 781.5,366.8 781.5,366.8 781.4,366.9 781.5,366.9 781.9,367.1 782.7,367.5 783.8,368.2 785.1,369.1 786.7,370.3 788.6,371.9 790.7,373.6 791.1,373.9 791.6,373.9 791.9,373.7 792.2,373.3 792.1,372.8 791.8,372.5 789.9,370.5 788.2,368.7 786.8,367.3 785.6,366 784.5,365 783.5,364.3 782.5,363.8 781.4,363.6 780.2,363.9 779.3,364.5 778.8,365.4 778.4,366.3 778.1,367.3 777.8,368.5" fill="#05cc05"/>
<path d="M772,355 Q771,361.6 776.7,364.9 Q777.8,358.3 772,355 Z" fill="#7b7d2a" stroke="#111" stroke-width="1.4" stroke-linejoin="round"/>
<path d="M777.5,338.8 L777.5,330.2 M777.5,338.1 Q775.2,338.1 772.9,337 M777.5,338.1 Q779.8,338.1 782.1,337 M777.5,337.5 Q775.5,336.8 773.6,335 M777.5,337.5 Q779.5,336.8 781.5,335 M777.5,336.8 Q775.5,335.4 773.5,332.9 M777.5,336.8 Q779.5,335.4 781.6,332.9 M777.5,335.8 Q775.9,334 774.3,331 M777.5,335.8 Q779.1,334 780.7,331 " stroke="#111" stroke-width="1.5" stroke-linecap="round" fill="none"/>
<path d="M829.5,398.9 L829.4,346.9 L831.7,346.9 L833.7,398.9 Z" fill="#22cc11"/>
<path d="M830.6,397.8 L830.2,348.9 L830.9,348.9 L832.6,397.8 Z" fill="#77dd55"/>
<polygon points="832.1,356.7 832.8,355.6 833.4,354.7 833.9,354.1 834.4,353.7 834.6,353.5 834.6,353.5 834.6,353.5 834.7,353.5 835,353.6 835.7,353.8 836.6,354.3 837.7,355 838.9,355.8 840.4,356.9 840.7,357.2 841.2,357.1 841.6,356.9 841.8,356.4 841.7,356 841.4,355.7 840.2,354.4 839.1,353.3 838.1,352.3 837.3,351.5 836.5,350.9 835.6,350.4 834.6,350.2 833.5,350.4 832.6,351 831.9,351.7 831.5,352.5 831.2,353.5 830.8,354.6 830.3,355.9" fill="#05cc05"/>
<polygon points="831.2,360.7 830.2,359.1 829.3,357.7 828.5,356.6 827.7,355.5 826.7,354.8 825.6,354.3 824.3,354.2 823.1,354.4 822,355 821,355.9 819.9,357 818.7,358.3 817.4,359.9 815.8,361.6 815.5,362 815.5,362.4 815.7,362.8 816.1,363.1 816.6,363.1 816.9,362.8 818.7,361.2 820.3,359.9 821.6,358.9 822.7,358.1 823.6,357.7 824.2,357.4 824.5,357.4 824.7,357.4 825.1,357.5 825.6,357.9 826.4,358.5 827.3,359.3 828.4,360.5 829.6,361.9" fill="#05cc05"/>
<polygon points="831.9,365.8 833,364.7 833.9,363.9 834.6,363.3 835.2,363 835.6,362.8 835.7,362.8 835.9,362.8 836.3,362.9 836.9,363.3 837.9,363.9 839,364.7 840.3,365.9 841.9,367.4 843.7,369.1 844,369.4 844.5,369.4 844.9,369.2 845.1,368.8 845.2,368.4 844.9,368 843.3,366.1 841.9,364.4 840.7,363 839.7,361.8 838.8,360.8 837.8,360.1 836.7,359.7 835.5,359.5 834.3,359.8 833.4,360.4 832.6,361.2 832,362.2 831.2,363.3 830.4,364.6" fill="#05cc05"/>
<polygon points="831.2,368.6 829.8,367.4 828.6,366.4 827.5,365.5 826.4,364.8 825.3,364.4 824,364.2 822.8,364.3 821.6,364.8 820.4,365.5 819.3,366.5 818.2,367.6 816.9,369 815.4,370.7 813.7,372.6 813.4,372.9 813.4,373.4 813.6,373.8 814,374 814.5,374 814.8,373.8 816.7,372.1 818.4,370.6 819.8,369.5 821.1,368.6 822.1,368 822.9,367.7 823.5,367.5 824,367.4 824.5,367.5 825.2,367.7 826.1,368 827.2,368.5 828.6,369.3 830.1,370.2" fill="#05cc05"/>
<polygon points="832.6,377.8 833.2,376.8 833.7,376.1 834.2,375.6 834.5,375.4 834.5,375.4 834.4,375.5 834.5,375.5 834.9,375.7 835.7,376.1 836.8,376.8 838.1,377.7 839.7,378.9 841.6,380.5 843.7,382.2 844.1,382.5 844.6,382.5 844.9,382.3 845.2,381.9 845.1,381.4 844.8,381.1 842.9,379.1 841.2,377.3 839.8,375.9 838.6,374.6 837.5,373.6 836.5,372.9 835.5,372.4 834.4,372.2 833.2,372.5 832.3,373.1 831.8,374 831.4,374.9 831.1,375.9 830.8,377.1" fill="#05cc05"/>
<path d="M825,363.6 Q824,370.2 829.7,373.5 Q830.8,366.9 825,363.6 Z" fill="#7b7d2a" stroke="#111" stroke-width="1.4" stroke-linejoin="round"/>
<path d="M830.5,347.4 L830.5,338.8 M830.5,346.7 Q828.2,346.7 825.9,345.6 M830.5,346.7 Q832.8,346.7 835.1,345.6 M830.5,346.1 Q828.5,345.4 826.6,343.6 M830.5,346.1 Q832.5,345.4 834.5,343.6 M830.5,345.4 Q828.5,344 826.5,341.5 M830.5,345.4 Q832.5,344 834.6,341.5 M830.5,344.4 Q828.9,342.6 827.3,339.6 M830.5,344.4 Q832.1,342.6 833.7,339.6 " stroke="#111" stroke-width="1.5" stroke-linecap="round" fill="none"/>
<path d="M732.3,403.5 L732.2,351.5 L734.5,351.5 L736.5,403.5 Z" fill="#22cc11"/>
<path d="M733.4,402.4 L733,353.5 L733.7,353.5 L735.4,402.4 Z" fill="#77dd55"/>
<polygon points="734.9,361.3 735.6,360.2 736.2,359.3 736.7,358.7 737.2,358.3 737.4,358.1 737.4,358.1 737.4,358.1 737.5,358.1 737.8,358.2 738.5,358.4 739.4,358.9 740.5,359.6 741.7,360.4 743.2,361.5 743.5,361.8 744,361.7 744.4,361.5 744.6,361 744.5,360.6 744.2,360.3 743,359 741.9,357.9 740.9,356.9 740.1,356.1 739.3,355.5 738.4,355 737.4,354.8 736.3,355 735.4,355.6 734.7,356.3 734.3,357.1 734,358.1 733.6,359.2 733.1,360.5" fill="#05cc05"/>
<polygon points="734,365.3 733,363.7 732.1,362.3 731.3,361.2 730.5,360.1 729.5,359.4 728.4,358.9 727.1,358.8 725.9,359 724.8,359.6 723.8,360.5 722.7,361.6 721.5,362.9 720.2,364.5 718.6,366.2 718.3,366.6 718.3,367 718.5,367.4 718.9,367.7 719.4,367.7 719.7,367.4 721.5,365.8 723.1,364.5 724.4,363.5 725.5,362.7 726.4,362.3 727,362 727.3,362 727.5,362 727.9,362.1 728.4,362.5 729.2,363.1 730.1,363.9 731.2,365.1 732.4,366.5" fill="#05cc05"/>
<polygon points="734.7,370.4 735.8,369.3 736.7,368.5 737.4,367.9 738,367.6 738.4,367.4 738.5,367.4 738.7,367.4 739.1,367.5 739.7,367.9 740.7,368.5 741.8,369.3 743.1,370.5 744.7,372 746.5,373.7 746.8,374 747.3,374 747.7,373.8 747.9,373.4 748,373 747.7,372.6 746.1,370.7 744.7,369 743.5,367.6 742.5,366.4 741.6,365.4 740.6,364.7 739.5,364.3 738.3,364.1 737.1,364.4 736.2,365 735.4,365.8 734.8,366.8 734,367.9 733.2,369.2" fill="#05cc05"/>
<polygon points="734,373.2 732.6,372 731.4,371 730.3,370.1 729.2,369.4 728.1,369 726.8,368.8 725.6,368.9 724.4,369.4 723.2,370.1 722.1,371.1 721,372.2 719.7,373.6 718.2,375.3 716.5,377.2 716.2,377.5 716.2,378 716.4,378.4 716.8,378.6 717.3,378.6 717.6,378.4 719.5,376.7 721.2,375.2 722.6,374.1 723.9,373.2 724.9,372.6 725.7,372.3 726.3,372.1 726.8,372 727.3,372.1 728,372.3 728.9,372.6 730,373.1 731.4,373.9 732.9,374.8" fill="#05cc05"/>
<polygon points="735.4,382.4 736,381.4 736.5,380.7 737,380.2 737.3,380 737.3,380 737.2,380.1 737.3,380.1 737.7,380.3 738.5,380.7 739.6,381.4 740.9,382.3 742.5,383.5 744.4,385.1 746.5,386.8 746.9,387.1 747.4,387.1 747.7,386.9 748,386.5 747.9,386 747.6,385.7 745.7,383.7 744,381.9 742.6,380.5 741.4,379.2 740.3,378.2 739.3,377.5 738.3,377 737.2,376.8 736,377.1 735.1,377.7 734.6,378.6 734.2,379.5 733.9,380.5 733.6,381.7" fill="#05cc05"/>
<path d="M727.8,368.2 Q726.8,374.8 732.5,378.1 Q733.6,371.5 727.8,368.2 Z" fill="#7b7d2a" stroke="#111" stroke-width="1.4" stroke-linejoin="round"/>
<path d="M733.3,352 L733.3,343.4 M733.3,351.3 Q731,351.3 728.7,350.2 M733.3,351.3 Q735.6,351.3 737.9,350.2 M733.3,350.7 Q731.3,350 729.4,348.2 M733.3,350.7 Q735.3,350 737.3,348.2 M733.3,350 Q731.3,348.6 729.3,346.1 M733.3,350 Q735.3,348.6 737.4,346.1 M733.3,349 Q731.7,347.2 730.1,344.2 M733.3,349 Q734.9,347.2 736.5,344.2 " stroke="#111" stroke-width="1.5" stroke-linecap="round" fill="none"/>
<path d="M874.1,403.5 L874,351.5 L876.3,351.5 L878.3,403.5 Z" fill="#22cc11"/>
<path d="M875.2,402.4 L874.8,353.5 L875.5,353.5 L877.2,402.4 Z" fill="#77dd55"/>
<polygon points="876.7,361.3 877.4,360.2 878,359.3 878.5,358.7 879,358.3 879.2,358.1 879.2,358.1 879.2,358.1 879.3,358.1 879.6,358.2 880.3,358.4 881.2,358.9 882.3,359.6 883.5,360.4 885,361.5 885.3,361.8 885.8,361.7 886.2,361.5 886.4,361 886.3,360.6 886,360.3 884.8,359 883.7,357.9 882.7,356.9 881.9,356.1 881.1,355.5 880.2,355 879.2,354.8 878.1,355 877.2,355.6 876.5,356.3 876.1,357.1 875.8,358.1 875.4,359.2 874.9,360.5" fill="#05cc05"/>
<polygon points="875.8,365.3 874.8,363.7 873.9,362.3 873.1,361.2 872.3,360.1 871.3,359.4 870.2,358.9 868.9,358.8 867.7,359 866.6,359.6 865.6,360.5 864.5,361.6 863.3,362.9 862,364.5 860.4,366.2 860.1,366.6 860.1,367 860.3,367.4 860.7,367.7 861.2,367.7 861.5,367.4 863.3,365.8 864.9,364.5 866.2,363.5 867.3,362.7 868.2,362.3 868.8,362 869.1,362 869.3,362 869.7,362.1 870.2,362.5 871,363.1 871.9,363.9 873,365.1 874.2,366.5" fill="#05cc05"/>
<polygon points="876.5,370.4 877.6,369.3 878.5,368.5 879.2,367.9 879.8,367.6 880.2,367.4 880.3,367.4 880.5,367.4 880.9,367.5 881.5,367.9 882.5,368.5 883.6,369.3 884.9,370.5 886.5,372 888.3,373.7 888.6,374 889.1,374 889.5,373.8 889.7,373.4 889.8,373 889.5,372.6 887.9,370.7 886.5,369 885.3,367.6 884.3,366.4 883.4,365.4 882.4,364.7 881.3,364.3 880.1,364.1 878.9,364.4 878,365 877.2,365.8 876.6,366.8 875.8,367.9 875,369.2" fill="#05cc05"/>
<polygon points="875.8,373.2 874.4,372 873.2,371 872.1,370.1 871,369.4 869.9,369 868.6,368.8 867.4,368.9 866.2,369.4 865,370.1 863.9,371.1 862.8,372.2 861.5,373.6 860,375.3 858.3,377.2 858,377.5 858,378 858.2,378.4 858.6,378.6 859.1,378.6 859.4,378.4 861.3,376.7 863,375.2 864.4,374.1 865.7,373.2 866.7,372.6 867.5,372.3 868.1,372.1 868.6,372 869.1,372.1 869.8,372.3 870.7,372.6 871.8,373.1 873.2,373.9 874.7,374.8" fill="#05cc05"/>
<polygon points="877.2,382.4 877.8,381.4 878.3,380.7 878.8,380.2 879.1,380 879.1,380 879,380.1 879.1,380.1 879.5,380.3 880.3,380.7 881.4,381.4 882.7,382.3 884.3,383.5 886.2,385.1 888.3,386.8 888.7,387.1 889.2,387.1 889.5,386.9 889.8,386.5 889.7,386 889.4,385.7 887.5,383.7 885.8,381.9 884.4,380.5 883.2,379.2 882.1,378.2 881.1,377.5 880.1,377 879,376.8 877.8,377.1 876.9,377.7 876.4,378.6 876,379.5 875.7,380.5 875.4,381.7" fill="#05cc05"/>
<path d="M869.6,368.2 Q868.6,374.8 874.3,378.1 Q875.4,371.5 869.6,368.2 Z" fill="#7b7d2a" stroke="#111" stroke-width="1.4" stroke-linejoin="round"/>
<path d="M875.1,352 L875.1,343.4 M875.1,351.3 Q872.8,351.3 870.5,350.2 M875.1,351.3 Q877.4,351.3 879.7,350.2 M875.1,350.7 Q873.1,350 871.2,348.2 M875.1,350.7 Q877.1,350 879.1,348.2 M875.1,350 Q873.1,348.6 871.1,346.1 M875.1,350 Q877.1,348.6 879.2,346.1 M875.1,349 Q873.5,347.2 871.9,344.2 M875.1,349 Q876.7,347.2 878.3,344.2 " stroke="#111" stroke-width="1.5" stroke-linecap="round" fill="none"/>
<path d="M785.7,412.2 L785.6,360.2 L787.9,360.2 L789.9,412.2 Z" fill="#22cc11"/>
<path d="M786.8,411.1 L786.4,362.2 L787.1,362.2 L788.8,411.1 Z" fill="#77dd55"/>
<polygon points="788.3,370 789,368.9 789.6,368 790.1,367.4 790.6,367 790.8,366.8 790.8,366.8 790.8,366.8 790.9,366.8 791.2,366.9 791.9,367.1 792.8,367.6 793.9,368.3 795.1,369.1 796.6,370.2 796.9,370.5 797.4,370.4 797.8,370.2 798,369.7 797.9,369.3 797.6,369 796.4,367.7 795.3,366.6 794.3,365.6 793.5,364.8 792.7,364.2 791.8,363.7 790.8,363.5 789.7,363.7 788.8,364.3 788.1,365 787.7,365.8 787.4,366.8 787,367.9 786.5,369.2" fill="#05cc05"/>
<polygon points="787.4,374 786.4,372.4 785.5,371 784.7,369.9 783.9,368.8 782.9,368.1 781.8,367.6 780.5,367.5 779.3,367.7 778.2,368.3 777.2,369.2 776.1,370.3 774.9,371.6 773.6,373.2 772,374.9 771.7,375.3 771.7,375.7 771.9,376.1 772.3,376.4 772.8,376.4 773.1,376.1 774.9,374.5 776.5,373.2 777.8,372.2 778.9,371.4 779.8,371 780.4,370.7 780.7,370.7 780.9,370.7 781.3,370.8 781.8,371.2 782.6,371.8 783.5,372.6 784.6,373.8 785.8,375.2" fill="#05cc05"/>
<polygon points="788.1,379.1 789.2,378 790.1,377.2 790.8,376.6 791.4,376.3 791.8,376.1 791.9,376.1 792.1,376.1 792.5,376.2 793.1,376.6 794.1,377.2 795.2,378 796.5,379.2 798.1,380.7 799.9,382.4 800.2,382.7 800.7,382.7 801.1,382.5 801.3,382.1 801.4,381.7 801.1,381.3 799.5,379.4 798.1,377.7 796.9,376.3 795.9,375.1 795,374.1 794,373.4 792.9,373 791.7,372.8 790.5,373.1 789.6,373.7 788.8,374.5 788.2,375.5 787.4,376.6 786.6,377.9" fill="#05cc05"/>
<polygon points="787.4,381.9 786,380.7 784.8,379.7 783.7,378.8 782.6,378.1 781.5,377.7 780.2,377.5 779,377.6 777.8,378.1 776.6,378.8 775.5,379.8 774.4,380.9 773.1,382.3 771.6,384 769.9,385.9 769.6,386.2 769.6,386.7 769.8,387.1 770.2,387.3 770.7,387.3 771,387.1 772.9,385.4 774.6,383.9 776,382.8 777.3,381.9 778.3,381.3 779.1,381 779.7,380.8 780.2,380.7 780.7,380.8 781.4,381 782.3,381.3 783.4,381.8 784.8,382.6 786.3,383.5" fill="#05cc05"/>
<polygon points="788.8,391.1 789.4,390.1 789.9,389.4 790.4,388.9 790.7,388.7 790.7,388.7 790.6,388.8 790.7,388.8 791.1,389 791.9,389.4 793,390.1 794.3,391 795.9,392.2 797.8,393.8 799.9,395.5 800.3,395.8 800.8,395.8 801.1,395.6 801.4,395.2 801.3,394.7 801,394.4 799.1,392.4 797.4,390.6 796,389.2 794.8,387.9 793.7,386.9 792.7,386.2 791.7,385.7 790.6,385.5 789.4,385.8 788.5,386.4 788,387.3 787.6,388.2 787.3,389.2 787,390.4" fill="#05cc05"/>
<path d="M781.2,376.9 Q780.2,383.5 785.9,386.8 Q787,380.2 781.2,376.9 Z" fill="#7b7d2a" stroke="#111" stroke-width="1.4" stroke-linejoin="round"/>
<path d="M786.7,360.7 L786.7,352.1 M786.7,360 Q784.4,360 782.1,358.9 M786.7,360 Q789,360 791.3,358.9 M786.7,359.4 Q784.7,358.7 782.8,356.9 M786.7,359.4 Q788.7,358.7 790.7,356.9 M786.7,358.7 Q784.7,357.3 782.7,354.8 M786.7,358.7 Q788.7,357.3 790.8,354.8 M786.7,357.7 Q785.1,355.9 783.5,352.9 M786.7,357.7 Q788.3,355.9 789.9,352.9 " stroke="#111" stroke-width="1.5" stroke-linecap="round" fill="none"/>
<polygon points="230.9,621.5 768.8,621.5 584.2,712.8 46.1,712.8" fill="#fedb7e" stroke-miterlimit="1.5" stroke="#1a1a1a" stroke-width="1.5"/>
<path d="M378,627.7 L377.8,529.2 L381.9,529.2 L385.6,627.7 Z" fill="#22cc11"/>
<path d="M379.8,626.6 L379.3,531.2 L380.3,531.2 L383.8,626.6 Z" fill="#c8f08c"/>
<polygon points="382.3,547.7 383.6,545.6 384.8,543.8 385.8,542.5 386.7,541.7 387.2,541.2 387.4,541.1 387.4,541.1 387.8,541.1 388.6,541.4 389.9,541.9 391.6,542.8 393.6,544.2 396,545.9 398.7,547.9 399.3,548.3 400,548.3 400.6,547.9 400.9,547.3 400.8,546.6 400.3,546.1 397.9,543.7 395.8,541.6 393.9,539.8 392.3,538.4 390.8,537.2 389.2,536.4 387.4,536.1 385.6,536.5 384.1,537.4 382.9,538.6 382.1,540.2 381.4,542 380.6,544 379.7,546.4" fill="#05cc05"/>
<polygon points="380.7,555.7 378.7,552.7 377,550.1 375.5,547.9 373.9,546 372.2,544.6 370.2,543.8 368,543.5 365.8,544 363.8,545.1 361.9,546.7 359.9,548.7 357.6,551.2 355,554.1 351.9,557.4 351.5,557.9 351.5,558.6 351.8,559.3 352.4,559.6 353.1,559.6 353.7,559.2 357,556.1 359.9,553.6 362.4,551.6 364.5,550.1 366.2,549.1 367.5,548.7 368.3,548.5 368.9,548.6 369.6,548.9 370.7,549.7 372.2,550.8 374,552.6 376,554.8 378.3,557.5" fill="#05cc05"/>
<polygon points="382.2,564.9 384.1,562.8 385.8,561.2 387.2,560 388.4,559.3 389.1,558.9 389.6,558.8 390.1,558.8 390.9,559.2 392.3,559.9 394.1,561.1 396.2,562.8 398.7,565.1 401.7,567.9 405,571.2 405.6,571.7 406.3,571.7 406.9,571.4 407.3,570.8 407.3,570.1 406.9,569.5 403.8,565.9 401.2,562.8 398.9,560.1 396.9,557.9 395.1,556.1 393.3,554.8 391.3,554 389.3,553.8 387.3,554.3 385.5,555.3 384.2,556.8 382.8,558.6 381.4,560.6 379.8,563" fill="#05cc05"/>
<polygon points="380.9,570.8 378.2,568.6 375.9,566.7 373.8,565.1 371.7,563.7 369.6,563 367.4,562.7 365.1,562.9 362.9,563.7 360.8,565 358.8,566.8 356.5,569 354,571.6 351.2,574.7 347.9,578.3 347.4,578.8 347.4,579.5 347.8,580.1 348.4,580.5 349.1,580.5 349.6,580.1 353.2,576.8 356.4,574 359.1,571.8 361.4,570.1 363.4,568.9 365,568.2 366.2,567.7 367.3,567.6 368.4,567.8 369.8,568.2 371.6,568.9 373.7,569.9 376.2,571.4 379.2,573.2" fill="#05cc05"/>
<polygon points="383.4,587.9 384.4,586 385.4,584.5 386.2,583.5 386.9,583 387,582.9 387,582.9 387.4,583 388.4,583.5 390,584.3 392,585.6 394.6,587.5 397.5,589.9 401.1,592.8 405.1,596.2 405.7,596.6 406.4,596.6 407,596.2 407.3,595.6 407.3,594.9 406.8,594.4 403,590.6 399.8,587.4 397.1,584.6 394.7,582.3 392.7,580.5 390.9,579.2 389,578.3 387.1,578 385.1,578.4 383.5,579.5 382.6,581 381.9,582.7 381.3,584.6 380.6,586.7" fill="#05cc05"/>
<path d="M369.3,561 Q367.3,573.4 378.2,579.8 Q380.2,567.3 369.3,561 Z" fill="#efdf68" stroke="#111" stroke-width="1.4" stroke-linejoin="round"/>
<path d="M379.7,529.7 L379.7,513.7 M379.7,528.8 Q375.4,528.7 371,526.6 M379.7,528.8 Q384.1,528.7 388.4,526.6 M379.7,527.6 Q376,526.2 372.2,522.9 M379.7,527.6 Q383.5,526.2 387.2,522.9 M379.7,526.2 Q375.9,523.5 372,518.9 M379.7,526.2 Q383.6,523.5 387.4,518.9 M379.7,524.4 Q376.7,520.9 373.6,515.3 M379.7,524.4 Q382.8,520.9 385.9,515.3 " stroke="#111" stroke-width="1.7" stroke-linecap="round" fill="none"/>
<path d="M663.7,628.8 L663.5,530.3 L667.6,530.3 L671.3,628.8 Z" fill="#22cc11"/>
<path d="M665.5,627.7 L665,532.3 L666,532.3 L669.5,627.7 Z" fill="#c8f08c"/>
<polygon points="668,548.8 669.3,546.7 670.5,544.9 671.5,543.6 672.4,542.8 672.9,542.3 673.1,542.2 673.1,542.2 673.5,542.2 674.3,542.5 675.6,543 677.3,543.9 679.3,545.3 681.7,547 684.4,549 685,549.4 685.7,549.4 686.3,549 686.6,548.4 686.5,547.7 686,547.2 683.6,544.8 681.5,542.7 679.6,540.9 678,539.5 676.5,538.3 674.9,537.5 673.1,537.2 671.3,537.6 669.8,538.5 668.6,539.7 667.8,541.3 667.1,543.1 666.3,545.1 665.4,547.5" fill="#05cc05"/>
<polygon points="666.4,556.8 664.4,553.8 662.7,551.2 661.2,549 659.6,547.1 657.9,545.7 655.9,544.9 653.7,544.6 651.5,545.1 649.5,546.2 647.6,547.8 645.6,549.8 643.3,552.3 640.7,555.2 637.6,558.5 637.2,559 637.2,559.7 637.5,560.4 638.1,560.7 638.8,560.7 639.4,560.3 642.7,557.2 645.6,554.7 648.1,552.7 650.2,551.2 651.9,550.2 653.2,549.8 654,549.6 654.6,549.7 655.3,550 656.4,550.8 657.9,551.9 659.7,553.7 661.7,555.9 664,558.6" fill="#05cc05"/>
<polygon points="667.9,566 669.8,563.9 671.5,562.3 672.9,561.1 674.1,560.4 674.8,560 675.3,559.9 675.8,559.9 676.6,560.3 678,561 679.8,562.2 681.9,563.9 684.4,566.2 687.4,569 690.7,572.3 691.3,572.8 692,572.8 692.6,572.5 693,571.9 693,571.2 692.6,570.6 689.5,567 686.9,563.9 684.6,561.2 682.6,559 680.8,557.2 679,555.9 677,555.1 675,554.9 673,555.4 671.2,556.4 669.9,557.9 668.5,559.7 667.1,561.7 665.5,564.1" fill="#05cc05"/>
<polygon points="666.6,571.9 663.9,569.7 661.6,567.8 659.5,566.2 657.4,564.8 655.3,564.1 653.1,563.8 650.8,564 648.6,564.8 646.5,566.1 644.5,567.9 642.2,570.1 639.7,572.7 636.9,575.8 633.6,579.4 633.1,579.9 633.1,580.6 633.5,581.2 634.1,581.6 634.8,581.6 635.3,581.2 638.9,577.9 642.1,575.1 644.8,572.9 647.1,571.2 649.1,570 650.7,569.3 651.9,568.8 653,568.7 654.1,568.9 655.5,569.3 657.3,570 659.4,571 661.9,572.5 664.9,574.3" fill="#05cc05"/>
<polygon points="669.1,589 670.1,587.1 671.1,585.6 671.9,584.6 672.6,584.1 672.7,584 672.7,584 673.1,584.1 674.1,584.6 675.7,585.4 677.7,586.7 680.3,588.6 683.2,591 686.8,593.9 690.8,597.3 691.4,597.7 692.1,597.7 692.7,597.3 693,596.7 693,596 692.5,595.5 688.7,591.7 685.5,588.5 682.8,585.7 680.4,583.4 678.4,581.6 676.6,580.3 674.7,579.4 672.8,579.1 670.8,579.5 669.2,580.6 668.3,582.1 667.6,583.8 667,585.7 666.3,587.8" fill="#05cc05"/>
<path d="M655,562.1 Q653,574.5 663.9,580.9 Q665.9,568.4 655,562.1 Z" fill="#efdf68" stroke="#111" stroke-width="1.4" stroke-linejoin="round"/>
<path d="M665.4,530.8 L665.4,514.8 M665.4,529.9 Q661.1,529.8 656.7,527.7 M665.4,529.9 Q669.8,529.8 674.1,527.7 M665.4,528.7 Q661.7,527.3 657.9,524 M665.4,528.7 Q669.2,527.3 672.9,524 M665.4,527.3 Q661.6,524.6 657.7,520 M665.4,527.3 Q669.3,524.6 673.1,520 M665.4,525.5 Q662.4,522 659.3,516.4 M665.4,525.5 Q668.5,522 671.6,516.4 " stroke="#111" stroke-width="1.7" stroke-linecap="round" fill="none"/>
<path d="M484.4,644.7 L484.2,546.2 L488.3,546.2 L492,644.7 Z" fill="#22cc11"/>
<path d="M486.2,643.6 L485.7,548.2 L486.7,548.2 L490.2,643.6 Z" fill="#c8f08c"/>
<polygon points="488.7,564.7 490,562.6 491.2,560.8 492.2,559.5 493.1,558.7 493.6,558.2 493.8,558.1 493.8,558.1 494.2,558.1 495,558.4 496.3,558.9 498,559.8 500,561.2 502.4,562.9 505.1,564.9 505.7,565.3 506.4,565.3 507,564.9 507.3,564.3 507.2,563.6 506.7,563.1 504.3,560.7 502.2,558.6 500.3,556.8 498.7,555.4 497.2,554.2 495.6,553.4 493.8,553.1 492,553.5 490.5,554.4 489.3,555.6 488.5,557.2 487.8,559 487,561 486.1,563.4" fill="#05cc05"/>
<polygon points="487.1,572.7 485.1,569.7 483.4,567.1 481.9,564.9 480.3,563 478.6,561.6 476.6,560.8 474.4,560.5 472.2,561 470.2,562.1 468.3,563.7 466.3,565.7 464,568.2 461.4,571.1 458.3,574.4 457.9,574.9 457.9,575.6 458.2,576.3 458.8,576.6 459.5,576.6 460.1,576.2 463.4,573.1 466.3,570.6 468.8,568.6 470.9,567.1 472.6,566.1 473.9,565.7 474.7,565.5 475.3,565.6 476,565.9 477.1,566.7 478.6,567.8 480.4,569.6 482.4,571.8 484.7,574.5" fill="#05cc05"/>
<polygon points="488.6,581.9 490.5,579.8 492.2,578.2 493.6,577 494.8,576.3 495.5,575.9 496,575.8 496.5,575.8 497.3,576.2 498.7,576.9 500.5,578.1 502.6,579.8 505.1,582.1 508.1,584.9 511.4,588.2 512,588.7 512.7,588.7 513.3,588.4 513.7,587.8 513.7,587.1 513.3,586.5 510.2,582.9 507.6,579.8 505.3,577.1 503.3,574.9 501.5,573.1 499.7,571.8 497.7,571 495.7,570.8 493.7,571.3 491.9,572.3 490.6,573.8 489.2,575.6 487.8,577.6 486.2,580" fill="#05cc05"/>
<polygon points="487.3,587.8 484.6,585.6 482.3,583.7 480.2,582.1 478.1,580.7 476,580 473.8,579.7 471.5,579.9 469.3,580.7 467.2,582 465.2,583.8 462.9,586 460.4,588.6 457.6,591.7 454.3,595.3 453.8,595.8 453.8,596.5 454.2,597.1 454.8,597.5 455.5,597.5 456,597.1 459.6,593.8 462.8,591 465.5,588.8 467.8,587.1 469.8,585.9 471.4,585.2 472.6,584.7 473.7,584.6 474.8,584.8 476.2,585.2 478,585.9 480.1,586.9 482.6,588.4 485.6,590.2" fill="#05cc05"/>
<polygon points="489.8,604.9 490.8,603 491.8,601.5 492.6,600.5 493.3,600 493.4,599.9 493.4,599.9 493.8,600 494.8,600.5 496.4,601.3 498.4,602.6 501,604.5 503.9,606.9 507.5,609.8 511.5,613.2 512.1,613.6 512.8,613.6 513.4,613.2 513.7,612.6 513.7,611.9 513.2,611.4 509.4,607.6 506.2,604.4 503.5,601.6 501.1,599.3 499.1,597.5 497.3,596.2 495.4,595.3 493.5,595 491.5,595.4 489.9,596.5 489,598 488.3,599.7 487.7,601.6 487,603.7" fill="#05cc05"/>
<path d="M475.7,578 Q473.7,590.4 484.6,596.8 Q486.6,584.3 475.7,578 Z" fill="#efdf68" stroke="#111" stroke-width="1.4" stroke-linejoin="round"/>
<path d="M486.1,546.7 L486.1,530.7 M486.1,545.8 Q481.8,545.7 477.4,543.6 M486.1,545.8 Q490.5,545.7 494.8,543.6 M486.1,544.6 Q482.4,543.2 478.6,539.9 M486.1,544.6 Q489.9,543.2 493.6,539.9 M486.1,543.2 Q482.3,540.5 478.4,535.9 M486.1,543.2 Q490,540.5 493.8,535.9 M486.1,541.4 Q483.1,537.9 480,532.3 M486.1,541.4 Q489.2,537.9 492.3,532.3 " stroke="#111" stroke-width="1.7" stroke-linecap="round" fill="none"/>
<path d="M586,664 L585.8,565.5 L589.9,565.5 L593.6,664 Z" fill="#22cc11"/>
<path d="M587.8,662.9 L587.3,567.5 L588.3,567.5 L591.8,662.9 Z" fill="#c8f08c"/>
<polygon points="590.3,584 591.6,581.9 592.8,580.1 593.8,578.8 594.7,578 595.2,577.5 595.4,577.4 595.4,577.4 595.8,577.4 596.6,577.7 597.9,578.2 599.6,579.1 601.6,580.5 604,582.2 606.7,584.2 607.3,584.6 608,584.6 608.6,584.2 608.9,583.6 608.8,582.9 608.3,582.4 605.9,580 603.8,577.9 601.9,576.1 600.3,574.7 598.8,573.5 597.2,572.7 595.4,572.4 593.6,572.8 592.1,573.7 590.9,574.9 590.1,576.5 589.4,578.3 588.6,580.3 587.7,582.7" fill="#05cc05"/>
<polygon points="588.7,592 586.7,589 585,586.4 583.5,584.2 581.9,582.3 580.2,580.9 578.2,580.1 576,579.8 573.8,580.3 571.8,581.4 569.9,583 567.9,585 565.6,587.5 563,590.4 559.9,593.7 559.5,594.2 559.5,594.9 559.8,595.6 560.4,595.9 561.1,595.9 561.7,595.5 565,592.4 567.9,589.9 570.4,587.9 572.5,586.4 574.2,585.4 575.5,585 576.3,584.8 576.9,584.9 577.6,585.2 578.7,586 580.2,587.1 582,588.9 584,591.1 586.3,593.8" fill="#05cc05"/>
<polygon points="590.2,601.2 592.1,599.1 593.8,597.5 595.2,596.3 596.4,595.6 597.1,595.2 597.6,595.1 598.1,595.1 598.9,595.5 600.3,596.2 602.1,597.4 604.2,599.1 606.7,601.4 609.7,604.2 613,607.5 613.6,608 614.3,608 614.9,607.7 615.3,607.1 615.3,606.4 614.9,605.8 611.8,602.2 609.2,599.1 606.9,596.4 604.9,594.2 603.1,592.4 601.3,591.1 599.3,590.3 597.3,590.1 595.3,590.6 593.5,591.6 592.2,593.1 590.8,594.9 589.4,596.9 587.8,599.3" fill="#05cc05"/>
<polygon points="588.9,607.1 586.2,604.9 583.9,603 581.8,601.4 579.7,600 577.6,599.3 575.4,599 573.1,599.2 570.9,600 568.8,601.3 566.8,603.1 564.5,605.3 562,607.9 559.2,611 555.9,614.6 555.4,615.1 555.4,615.8 555.8,616.4 556.4,616.8 557.1,616.8 557.6,616.4 561.2,613.1 564.4,610.3 567.1,608.1 569.4,606.4 571.4,605.2 573,604.5 574.2,604 575.3,603.9 576.4,604.1 577.8,604.5 579.6,605.2 581.7,606.2 584.2,607.7 587.2,609.5" fill="#05cc05"/>
<polygon points="591.4,624.2 592.4,622.3 593.4,620.8 594.2,619.8 594.9,619.3 595,619.2 595,619.2 595.4,619.3 596.4,619.8 598,620.6 600,621.9 602.6,623.8 605.5,626.2 609.1,629.1 613.1,632.5 613.7,632.9 614.4,632.9 615,632.5 615.3,631.9 615.3,631.2 614.8,630.7 611,626.9 607.8,623.7 605.1,620.9 602.7,618.6 600.7,616.8 598.9,615.5 597,614.6 595.1,614.3 593.1,614.7 591.5,615.8 590.6,617.3 589.9,619 589.3,620.9 588.6,623" fill="#05cc05"/>
<path d="M577.3,597.3 Q575.3,609.7 586.2,616.1 Q588.2,603.6 577.3,597.3 Z" fill="#efdf68" stroke="#111" stroke-width="1.4" stroke-linejoin="round"/>
<path d="M587.7,566 L587.7,550 M587.7,565.1 Q583.4,565 579,562.9 M587.7,565.1 Q592.1,565 596.4,562.9 M587.7,563.9 Q584,562.5 580.2,559.2 M587.7,563.9 Q591.5,562.5 595.2,559.2 M587.7,562.5 Q583.9,559.8 580,555.2 M587.7,562.5 Q591.6,559.8 595.4,555.2 M587.7,560.7 Q584.7,557.2 581.6,551.6 M587.7,560.7 Q590.8,557.2 593.9,551.6 " stroke="#111" stroke-width="1.7" stroke-linecap="round" fill="none"/>
<path d="M299.8,665.2 L299.6,566.7 L303.7,566.7 L307.4,665.2 Z" fill="#22cc11"/>
<path d="M301.6,664.1 L301.1,568.7 L302.1,568.7 L305.6,664.1 Z" fill="#c8f08c"/>
<polygon points="304.1,585.2 305.4,583.1 306.6,581.3 307.6,580 308.5,579.2 309,578.7 309.2,578.6 309.2,578.6 309.6,578.6 310.4,578.9 311.7,579.4 313.4,580.3 315.4,581.7 317.8,583.4 320.5,585.4 321.1,585.8 321.8,585.8 322.4,585.4 322.7,584.8 322.6,584.1 322.1,583.6 319.7,581.2 317.6,579.1 315.7,577.3 314.1,575.9 312.6,574.7 311,573.9 309.2,573.6 307.4,574 305.9,574.9 304.7,576.1 303.9,577.7 303.2,579.5 302.4,581.5 301.5,583.9" fill="#05cc05"/>
<polygon points="302.5,593.2 300.5,590.2 298.8,587.6 297.3,585.4 295.7,583.5 294,582.1 292,581.3 289.8,581 287.6,581.5 285.6,582.6 283.7,584.2 281.7,586.2 279.4,588.7 276.8,591.6 273.7,594.9 273.3,595.4 273.3,596.1 273.6,596.8 274.2,597.1 274.9,597.1 275.5,596.7 278.8,593.6 281.7,591.1 284.2,589.1 286.3,587.6 288,586.6 289.3,586.2 290.1,586 290.7,586.1 291.4,586.4 292.5,587.2 294,588.3 295.8,590.1 297.8,592.3 300.1,595" fill="#05cc05"/>
<polygon points="304,602.4 305.9,600.3 307.6,598.7 309,597.5 310.2,596.8 310.9,596.4 311.4,596.3 311.9,596.3 312.7,596.7 314.1,597.4 315.9,598.6 318,600.3 320.5,602.6 323.5,605.4 326.8,608.7 327.4,609.2 328.1,609.2 328.7,608.9 329.1,608.3 329.1,607.6 328.7,607 325.6,603.4 323,600.3 320.7,597.6 318.7,595.4 316.9,593.6 315.1,592.3 313.1,591.5 311.1,591.3 309.1,591.8 307.3,592.8 306,594.3 304.6,596.1 303.2,598.1 301.6,600.5" fill="#05cc05"/>
<polygon points="302.7,608.3 300,606.1 297.7,604.2 295.6,602.6 293.5,601.2 291.4,600.5 289.2,600.2 286.9,600.4 284.7,601.2 282.6,602.5 280.6,604.3 278.3,606.5 275.8,609.1 273,612.2 269.7,615.8 269.2,616.3 269.2,617 269.6,617.6 270.2,618 270.9,618 271.4,617.6 275,614.3 278.2,611.5 280.9,609.3 283.2,607.6 285.2,606.4 286.8,605.7 288,605.2 289.1,605.1 290.2,605.3 291.6,605.7 293.4,606.4 295.5,607.4 298,608.9 301,610.7" fill="#05cc05"/>
<polygon points="305.2,625.4 306.2,623.5 307.2,622 308,621 308.7,620.5 308.8,620.4 308.8,620.4 309.2,620.5 310.2,621 311.8,621.8 313.8,623.1 316.4,625 319.3,627.4 322.9,630.3 326.9,633.7 327.5,634.1 328.2,634.1 328.8,633.7 329.1,633.1 329.1,632.4 328.6,631.9 324.8,628.1 321.6,624.9 318.9,622.1 316.5,619.8 314.5,618 312.7,616.7 310.8,615.8 308.9,615.5 306.9,615.9 305.3,617 304.4,618.5 303.7,620.2 303.1,622.1 302.4,624.2" fill="#05cc05"/>
<path d="M291.1,598.5 Q289.1,610.9 300,617.3 Q302,604.8 291.1,598.5 Z" fill="#efdf68" stroke="#111" stroke-width="1.4" stroke-linejoin="round"/>
<path d="M301.5,567.2 L301.5,551.2 M301.5,566.3 Q297.2,566.2 292.8,564.1 M301.5,566.3 Q305.9,566.2 310.2,564.1 M301.5,565.1 Q297.8,563.7 294,560.4 M301.5,565.1 Q305.3,563.7 309,560.4 M301.5,563.7 Q297.7,561 293.8,556.4 M301.5,563.7 Q305.4,561 309.2,556.4 M301.5,561.9 Q298.5,558.4 295.4,552.8 M301.5,561.9 Q304.6,558.4 307.7,552.8 " stroke="#111" stroke-width="1.7" stroke-linecap="round" fill="none"/>
<path d="M407.3,680.4 L407.1,581.9 L411.2,581.9 L414.9,680.4 Z" fill="#22cc11"/>
<path d="M409.1,679.3 L408.6,583.9 L409.6,583.9 L413.1,679.3 Z" fill="#c8f08c"/>
<polygon points="411.6,600.4 412.9,598.3 414.1,596.5 415.1,595.2 416,594.4 416.5,593.9 416.7,593.8 416.7,593.8 417.1,593.8 417.9,594.1 419.2,594.6 420.9,595.5 422.9,596.9 425.3,598.6 428,600.6 428.6,601 429.3,601 429.9,600.6 430.2,600 430.1,599.3 429.6,598.8 427.2,596.4 425.1,594.3 423.2,592.5 421.6,591.1 420.1,589.9 418.5,589.1 416.7,588.8 414.9,589.2 413.4,590.1 412.2,591.3 411.4,592.9 410.7,594.7 409.9,596.7 409,599.1" fill="#05cc05"/>
<polygon points="410,608.4 408,605.4 406.3,602.8 404.8,600.6 403.2,598.7 401.5,597.3 399.5,596.5 397.3,596.2 395.1,596.7 393.1,597.8 391.2,599.4 389.2,601.4 386.9,603.9 384.3,606.8 381.2,610.1 380.8,610.6 380.8,611.3 381.1,612 381.7,612.3 382.4,612.3 383,611.9 386.3,608.8 389.2,606.3 391.7,604.3 393.8,602.8 395.5,601.8 396.8,601.4 397.6,601.2 398.2,601.3 398.9,601.6 400,602.4 401.5,603.5 403.3,605.3 405.3,607.5 407.6,610.2" fill="#05cc05"/>
<polygon points="411.5,617.6 413.4,615.5 415.1,613.9 416.5,612.7 417.7,612 418.4,611.6 418.9,611.5 419.4,611.5 420.2,611.9 421.6,612.6 423.4,613.8 425.5,615.5 428,617.8 431,620.6 434.3,623.9 434.9,624.4 435.6,624.4 436.2,624.1 436.6,623.5 436.6,622.8 436.2,622.2 433.1,618.6 430.5,615.5 428.2,612.8 426.2,610.6 424.4,608.8 422.6,607.5 420.6,606.7 418.6,606.5 416.6,607 414.8,608 413.5,609.5 412.1,611.3 410.7,613.3 409.1,615.7" fill="#05cc05"/>
<polygon points="410.2,623.5 407.5,621.3 405.2,619.4 403.1,617.8 401,616.4 398.9,615.7 396.7,615.4 394.4,615.6 392.2,616.4 390.1,617.7 388.1,619.5 385.8,621.7 383.3,624.3 380.5,627.4 377.2,631 376.7,631.5 376.7,632.2 377.1,632.8 377.7,633.2 378.4,633.2 378.9,632.8 382.5,629.5 385.7,626.7 388.4,624.5 390.7,622.8 392.7,621.6 394.3,620.9 395.5,620.4 396.6,620.3 397.7,620.5 399.1,620.9 400.9,621.6 403,622.6 405.5,624.1 408.5,625.9" fill="#05cc05"/>
<polygon points="412.7,640.6 413.7,638.7 414.7,637.2 415.5,636.2 416.2,635.7 416.3,635.6 416.3,635.6 416.7,635.7 417.7,636.2 419.3,637 421.3,638.3 423.9,640.2 426.8,642.6 430.4,645.5 434.4,648.9 435,649.3 435.7,649.3 436.3,648.9 436.6,648.3 436.6,647.6 436.1,647.1 432.3,643.3 429.1,640.1 426.4,637.3 424,635 422,633.2 420.2,631.9 418.3,631 416.4,630.7 414.4,631.1 412.8,632.2 411.9,633.7 411.2,635.4 410.6,637.3 409.9,639.4" fill="#05cc05"/>
<path d="M398.6,613.7 Q396.6,626.1 407.5,632.5 Q409.5,620 398.6,613.7 Z" fill="#efdf68" stroke="#111" stroke-width="1.4" stroke-linejoin="round"/>
<path d="M409,582.4 L409,566.4 M409,581.5 Q404.7,581.4 400.3,579.3 M409,581.5 Q413.4,581.4 417.7,579.3 M409,580.3 Q405.3,578.9 401.5,575.6 M409,580.3 Q412.8,578.9 416.5,575.6 M409,578.9 Q405.2,576.2 401.3,571.6 M409,578.9 Q412.9,576.2 416.7,571.6 M409,577.1 Q406,573.6 402.9,568 M409,577.1 Q412.1,573.6 415.2,568 " stroke="#111" stroke-width="1.7" stroke-linecap="round" fill="none"/>
<path d="M497.7,688.6 L497.5,590.1 L501.6,590.1 L505.3,688.6 Z" fill="#22cc11"/>
<path d="M499.5,687.5 L499,592.1 L500,592.1 L503.5,687.5 Z" fill="#c8f08c"/>
<polygon points="502,608.6 503.3,606.5 504.5,604.7 505.5,603.4 506.4,602.6 506.9,602.1 507.1,602 507.1,602 507.5,602 508.3,602.3 509.6,602.8 511.3,603.7 513.3,605.1 515.7,606.8 518.4,608.8 519,609.2 519.7,609.2 520.3,608.8 520.6,608.2 520.5,607.5 520,607 517.6,604.6 515.5,602.5 513.6,600.7 512,599.3 510.5,598.1 508.9,597.3 507.1,597 505.3,597.4 503.8,598.3 502.6,599.5 501.8,601.1 501.1,602.9 500.3,604.9 499.4,607.3" fill="#05cc05"/>
<polygon points="500.4,616.6 498.4,613.6 496.7,611 495.2,608.8 493.6,606.9 491.9,605.5 489.9,604.7 487.7,604.4 485.5,604.9 483.5,606 481.6,607.6 479.6,609.6 477.3,612.1 474.7,615 471.6,618.3 471.2,618.8 471.2,619.5 471.5,620.2 472.1,620.5 472.8,620.5 473.4,620.1 476.7,617 479.6,614.5 482.1,612.5 484.2,611 485.9,610 487.2,609.6 488,609.4 488.6,609.5 489.3,609.8 490.4,610.6 491.9,611.7 493.7,613.5 495.7,615.7 498,618.4" fill="#05cc05"/>
<polygon points="501.9,625.8 503.8,623.7 505.5,622.1 506.9,620.9 508.1,620.2 508.8,619.8 509.3,619.7 509.8,619.7 510.6,620.1 512,620.8 513.8,622 515.9,623.7 518.4,626 521.4,628.8 524.7,632.1 525.3,632.6 526,632.6 526.6,632.3 527,631.7 527,631 526.6,630.4 523.5,626.8 520.9,623.7 518.6,621 516.6,618.8 514.8,617 513,615.7 511,614.9 509,614.7 507,615.2 505.2,616.2 503.9,617.7 502.5,619.5 501.1,621.5 499.5,623.9" fill="#05cc05"/>
<polygon points="500.6,631.7 497.9,629.5 495.6,627.6 493.5,626 491.4,624.6 489.3,623.9 487.1,623.6 484.8,623.8 482.6,624.6 480.5,625.9 478.5,627.7 476.2,629.9 473.7,632.5 470.9,635.6 467.6,639.2 467.1,639.7 467.1,640.4 467.5,641 468.1,641.4 468.8,641.4 469.3,641 472.9,637.7 476.1,634.9 478.8,632.7 481.1,631 483.1,629.8 484.7,629.1 485.9,628.6 487,628.5 488.1,628.7 489.5,629.1 491.3,629.8 493.4,630.8 495.9,632.3 498.9,634.1" fill="#05cc05"/>
<polygon points="503.1,648.8 504.1,646.9 505.1,645.4 505.9,644.4 506.6,643.9 506.7,643.8 506.7,643.8 507.1,643.9 508.1,644.4 509.7,645.2 511.7,646.5 514.3,648.4 517.2,650.8 520.8,653.7 524.8,657.1 525.4,657.5 526.1,657.5 526.7,657.1 527,656.5 527,655.8 526.5,655.3 522.7,651.5 519.5,648.3 516.8,645.5 514.4,643.2 512.4,641.4 510.6,640.1 508.7,639.2 506.8,638.9 504.8,639.3 503.2,640.4 502.3,641.9 501.6,643.6 501,645.5 500.3,647.6" fill="#05cc05"/>
<path d="M489,621.9 Q487,634.3 497.9,640.7 Q499.9,628.2 489,621.9 Z" fill="#efdf68" stroke="#111" stroke-width="1.4" stroke-linejoin="round"/>
<path d="M499.4,590.6 L499.4,574.6 M499.4,589.7 Q495.1,589.6 490.7,587.5 M499.4,589.7 Q503.8,589.6 508.1,587.5 M499.4,588.5 Q495.7,587.1 491.9,583.8 M499.4,588.5 Q503.2,587.1 506.9,583.8 M499.4,587.1 Q495.6,584.4 491.7,579.8 M499.4,587.1 Q503.3,584.4 507.1,579.8 M499.4,585.3 Q496.4,581.8 493.3,576.2 M499.4,585.3 Q502.5,581.8 505.6,576.2 " stroke="#111" stroke-width="1.7" stroke-linecap="round" fill="none"/>
<path d="M211.9,689.8 L211.7,591.3 L215.8,591.3 L219.5,689.8 Z" fill="#22cc11"/>
<path d="M213.7,688.7 L213.2,593.3 L214.2,593.3 L217.7,688.7 Z" fill="#c8f08c"/>
<polygon points="216.2,609.8 217.5,607.7 218.7,605.9 219.7,604.6 220.6,603.8 221.1,603.3 221.3,603.2 221.3,603.2 221.7,603.2 222.5,603.5 223.8,604 225.5,604.9 227.5,606.3 229.9,608 232.6,610 233.2,610.4 233.9,610.4 234.5,610 234.8,609.4 234.7,608.7 234.2,608.2 231.8,605.8 229.7,603.7 227.8,601.9 226.2,600.5 224.7,599.3 223.1,598.5 221.3,598.2 219.5,598.6 218,599.5 216.8,600.7 216,602.3 215.3,604.1 214.5,606.1 213.6,608.5" fill="#05cc05"/>
<polygon points="214.6,617.8 212.6,614.8 210.9,612.2 209.4,610 207.8,608.1 206.1,606.7 204.1,605.9 201.9,605.6 199.7,606.1 197.7,607.2 195.8,608.8 193.8,610.8 191.5,613.3 188.9,616.2 185.8,619.5 185.4,620 185.4,620.7 185.7,621.4 186.3,621.7 187,621.7 187.6,621.3 190.9,618.2 193.8,615.7 196.3,613.7 198.4,612.2 200.1,611.2 201.4,610.8 202.2,610.6 202.8,610.7 203.5,611 204.6,611.8 206.1,612.9 207.9,614.7 209.9,616.9 212.2,619.6" fill="#05cc05"/>
<polygon points="216.1,627 218,624.9 219.7,623.3 221.1,622.1 222.3,621.4 223,621 223.5,620.9 224,620.9 224.8,621.3 226.2,622 228,623.2 230.1,624.9 232.6,627.2 235.6,630 238.9,633.3 239.5,633.8 240.2,633.8 240.8,633.5 241.2,632.9 241.2,632.2 240.8,631.6 237.7,628 235.1,624.9 232.8,622.2 230.8,620 229,618.2 227.2,616.9 225.2,616.1 223.2,615.9 221.2,616.4 219.4,617.4 218.1,618.9 216.7,620.7 215.3,622.7 213.7,625.1" fill="#05cc05"/>
<polygon points="214.8,632.9 212.1,630.7 209.8,628.8 207.7,627.2 205.6,625.8 203.5,625.1 201.3,624.8 199,625 196.8,625.8 194.7,627.1 192.7,628.9 190.4,631.1 187.9,633.7 185.1,636.8 181.8,640.4 181.3,640.9 181.3,641.6 181.7,642.2 182.3,642.6 183,642.6 183.5,642.2 187.1,638.9 190.3,636.1 193,633.9 195.3,632.2 197.3,631 198.9,630.3 200.1,629.8 201.2,629.7 202.3,629.9 203.7,630.3 205.5,631 207.6,632 210.1,633.5 213.1,635.3" fill="#05cc05"/>
<polygon points="217.3,650 218.3,648.1 219.3,646.6 220.1,645.6 220.8,645.1 220.9,645 220.9,645 221.3,645.1 222.3,645.6 223.9,646.4 225.9,647.7 228.5,649.6 231.4,652 235,654.9 239,658.3 239.6,658.7 240.3,658.7 240.9,658.3 241.2,657.7 241.2,657 240.7,656.5 236.9,652.7 233.7,649.5 231,646.7 228.6,644.4 226.6,642.6 224.8,641.3 222.9,640.4 221,640.1 219,640.5 217.4,641.6 216.5,643.1 215.8,644.8 215.2,646.7 214.5,648.8" fill="#05cc05"/>
<path d="M203.2,623.1 Q201.2,635.5 212.1,641.9 Q214.1,629.4 203.2,623.1 Z" fill="#efdf68" stroke="#111" stroke-width="1.4" stroke-linejoin="round"/>
<path d="M213.6,591.8 L213.6,575.8 M213.6,590.9 Q209.3,590.8 204.9,588.7 M213.6,590.9 Q218,590.8 222.3,588.7 M213.6,589.7 Q209.9,588.3 206.1,585 M213.6,589.7 Q217.4,588.3 221.1,585 M213.6,588.3 Q209.8,585.6 205.9,581 M213.6,588.3 Q217.5,585.6 221.3,581 M213.6,586.5 Q210.6,583 207.5,577.4 M213.6,586.5 Q216.7,583 219.8,577.4 " stroke="#111" stroke-width="1.7" stroke-linecap="round" fill="none"/>
<path d="M318.8,706.2 L318.6,607.7 L322.7,607.7 L326.4,706.2 Z" fill="#22cc11"/>
<path d="M320.6,705.1 L320.1,609.7 L321.1,609.7 L324.6,705.1 Z" fill="#c8f08c"/>
<polygon points="323.1,626.2 324.4,624.1 325.6,622.3 326.6,621 327.5,620.2 328,619.7 328.2,619.6 328.2,619.6 328.6,619.6 329.4,619.9 330.7,620.4 332.4,621.3 334.4,622.7 336.8,624.4 339.5,626.4 340.1,626.8 340.8,626.8 341.4,626.4 341.7,625.8 341.6,625.1 341.1,624.6 338.7,622.2 336.6,620.1 334.7,618.3 333.1,616.9 331.6,615.7 330,614.9 328.2,614.6 326.4,615 324.9,615.9 323.7,617.1 322.9,618.7 322.2,620.5 321.4,622.5 320.5,624.9" fill="#05cc05"/>
<polygon points="321.5,634.2 319.5,631.2 317.8,628.6 316.3,626.4 314.7,624.5 313,623.1 311,622.3 308.8,622 306.6,622.5 304.6,623.6 302.7,625.2 300.7,627.2 298.4,629.7 295.8,632.6 292.7,635.9 292.3,636.4 292.3,637.1 292.6,637.8 293.2,638.1 293.9,638.1 294.5,637.7 297.8,634.6 300.7,632.1 303.2,630.1 305.3,628.6 307,627.6 308.3,627.2 309.1,627 309.7,627.1 310.4,627.4 311.5,628.2 313,629.3 314.8,631.1 316.8,633.3 319.1,636" fill="#05cc05"/>
<polygon points="323,643.4 324.9,641.3 326.6,639.7 328,638.5 329.2,637.8 329.9,637.4 330.4,637.3 330.9,637.3 331.7,637.7 333.1,638.4 334.9,639.6 337,641.3 339.5,643.6 342.5,646.4 345.8,649.7 346.4,650.2 347.1,650.2 347.7,649.9 348.1,649.3 348.1,648.6 347.7,648 344.6,644.4 342,641.3 339.7,638.6 337.7,636.4 335.9,634.6 334.1,633.3 332.1,632.5 330.1,632.3 328.1,632.8 326.3,633.8 325,635.3 323.6,637.1 322.2,639.1 320.6,641.5" fill="#05cc05"/>
<polygon points="321.7,649.3 319,647.1 316.7,645.2 314.6,643.6 312.5,642.2 310.4,641.5 308.2,641.2 305.9,641.4 303.7,642.2 301.6,643.5 299.6,645.3 297.3,647.5 294.8,650.1 292,653.2 288.7,656.8 288.2,657.3 288.2,658 288.6,658.6 289.2,659 289.9,659 290.4,658.6 294,655.3 297.2,652.5 299.9,650.3 302.2,648.6 304.2,647.4 305.8,646.7 307,646.2 308.1,646.1 309.2,646.3 310.6,646.7 312.4,647.4 314.5,648.4 317,649.9 320,651.7" fill="#05cc05"/>
<polygon points="324.2,666.4 325.2,664.5 326.2,663 327,662 327.7,661.5 327.8,661.4 327.8,661.4 328.2,661.5 329.2,662 330.8,662.8 332.8,664.1 335.4,666 338.3,668.4 341.9,671.3 345.9,674.7 346.5,675.1 347.2,675.1 347.8,674.7 348.1,674.1 348.1,673.4 347.6,672.9 343.8,669.1 340.6,665.9 337.9,663.1 335.5,660.8 333.5,659 331.7,657.7 329.8,656.8 327.9,656.5 325.9,656.9 324.3,658 323.4,659.5 322.7,661.2 322.1,663.1 321.4,665.2" fill="#05cc05"/>
<path d="M310.1,639.5 Q308.1,651.9 319,658.3 Q321,645.8 310.1,639.5 Z" fill="#efdf68" stroke="#111" stroke-width="1.4" stroke-linejoin="round"/>
<path d="M320.5,608.2 L320.5,592.2 M320.5,607.3 Q316.2,607.2 311.8,605.1 M320.5,607.3 Q324.9,607.2 329.2,605.1 M320.5,606.1 Q316.8,604.7 313,601.4 M320.5,606.1 Q324.3,604.7 328,601.4 M320.5,604.7 Q316.7,602 312.8,597.4 M320.5,604.7 Q324.4,602 328.2,597.4 M320.5,602.9 Q317.5,599.4 314.4,593.8 M320.5,602.9 Q323.6,599.4 326.7,593.8 " stroke="#111" stroke-width="1.7" stroke-linecap="round" fill="none"/>
<polygon points="350.2,381.2 564.4,381.2 386.2,480.9 174,480.9" fill="#c08246" stroke-miterlimit="1.5" stroke="#111" stroke-width="1.5"/>
<path d="M279.7,478.6 L279.1,341.1 L283.5,341.1 L286.9,478.6 Z" fill="#22cc11"/>
<path d="M281.4,477.5 L280.8,343.1 L281.8,343.1 L285.2,477.5 Z" fill="#e2f07a"/>
<polygon points="284.6,358.1 286.1,356.2 287.3,354.7 288.4,353.6 289.3,352.9 289.7,352.6 289.7,352.6 289.6,352.6 289.9,352.8 290.8,353.2 292.1,354.1 293.7,355.4 295.6,357.2 297.8,359.5 300.3,362.2 300.8,362.7 301.5,362.8 302.2,362.5 302.6,361.9 302.7,361.2 302.3,360.6 300.1,357.6 298.3,355 296.6,352.8 295.2,350.9 293.9,349.4 292.5,348.2 290.8,347.6 288.8,347.5 287.1,348.2 285.7,349.3 284.8,350.7 283.9,352.4 283,354.3 282,356.5" fill="#05cc05"/>
<polygon points="282.5,368.1 280.1,365 278.1,362.4 276.2,360.1 274.4,358.3 272.5,356.9 270.3,356.1 268,356 265.8,356.6 263.8,357.9 261.9,359.6 259.9,361.8 257.7,364.5 255.2,367.6 252.3,371.2 251.9,371.8 251.9,372.6 252.4,373.2 253,373.5 253.8,373.5 254.3,373 257.5,369.6 260.3,366.9 262.7,364.6 264.8,363 266.5,362 267.8,361.4 268.6,361.2 269.2,361.2 270.1,361.6 271.3,362.3 273,363.5 275.1,365.2 277.4,367.4 280.1,370.1" fill="#05cc05"/>
<polygon points="284.7,379.1 286.7,376 288.5,373.3 290,371.3 291.4,370.1 292.2,369.4 292.7,369.1 293.2,369.1 294.1,369.5 295.8,370.4 297.9,372 300.5,374.2 303.6,377.2 307.3,380.8 311.4,385.2 312,385.7 312.7,385.7 313.4,385.4 313.8,384.7 313.8,384 313.4,383.4 309.5,378.8 306.2,374.8 303.4,371.4 300.9,368.7 298.7,366.5 296.6,364.9 294.2,364.1 291.7,364 289.4,365 287.6,366.6 286.3,368.7 284.9,371.2 283.5,374.2 281.9,377.7" fill="#05cc05"/>
<polygon points="282.2,391.8 278.6,388.9 275.4,386.3 272.6,384.2 270,382.4 267.5,381.4 264.8,380.9 262.2,381.1 259.8,382 257.6,383.6 255.5,385.8 253.5,388.5 251.2,391.8 248.7,395.6 245.7,400 245.4,400.7 245.5,401.4 246,402 246.7,402.2 247.4,402.1 247.9,401.6 251.2,397.4 254,393.9 256.5,391.1 258.8,388.9 260.6,387.5 262.2,386.6 263.4,386.1 264.5,386.1 265.9,386.3 267.8,387 270.2,388.1 273.1,389.7 276.5,391.8 280.4,394.4" fill="#05cc05"/>
<polygon points="284.4,406.4 287.2,403.9 289.6,401.9 291.6,400.5 293.4,399.7 294.7,399.3 295.9,399.2 297.4,399.6 299.4,400.5 302,402 305.1,404.2 308.9,407.2 313.3,411 318.5,415.6 324.4,421 325,421.5 325.7,421.5 326.3,421.1 326.7,420.4 326.7,419.7 326.2,419.2 320.6,413.4 315.7,408.4 311.6,404.2 308,400.8 304.9,398 302,396 299.2,394.6 296.4,394 293.6,394.2 291.1,395.2 288.9,396.8 286.8,398.9 284.6,401.4 282.2,404.2" fill="#05cc05"/>
<polygon points="282.5,419.7 278.3,417.4 274.7,415.5 271.4,413.9 268.4,412.8 265.5,412.3 262.6,412.4 259.8,413.2 257.2,414.7 254.7,416.9 252.4,419.7 249.9,423.1 247.2,427.2 244,432 240.4,437.7 240.1,438.3 240.2,439 240.7,439.6 241.4,439.8 242.1,439.7 242.6,439.1 246.6,433.8 250,429.3 253.1,425.6 255.8,422.6 258.1,420.4 260.1,419 261.8,418 263.4,417.5 265.1,417.4 267.2,417.7 269.9,418.3 273.1,419.3 276.8,420.7 281.1,422.5" fill="#05cc05"/>
<path d="M268.5,376.8 Q267.4,391.1 279.1,399.4 Q280.2,385.1 268.5,376.8 Z" fill="#efdf68" stroke="#111" stroke-width="1.4" stroke-linejoin="round"/>
<path d="M283,410.9 Q294.6,403.2 293.6,389.3 Q282,397 283,410.9 Z" fill="#efdf68" stroke="#111" stroke-width="1.4" stroke-linejoin="round"/>
<path d="M270.9,407.7 Q269.6,421 280.7,428.5 Q282,415.2 270.9,407.7 Z" fill="#efdf68" stroke="#111" stroke-width="1.4" stroke-linejoin="round"/>
<path d="M281.3,341.6 L281.3,323.9 M281.3,340.7 Q276.7,340.6 272.1,338.2 M281.3,340.7 Q285.9,340.6 290.5,338.2 M281.3,339.3 Q277.3,337.8 273.4,334.1 M281.3,339.3 Q285.3,337.8 289.2,334.1 M281.3,337.8 Q277.2,334.8 273.1,329.7 M281.3,337.8 Q285.4,334.8 289.5,329.7 M281.3,335.8 Q278.1,331.9 274.8,325.7 M281.3,335.8 Q284.5,331.9 287.8,325.7 " stroke="#111" stroke-width="1.9" stroke-linecap="round" fill="none"/>
<path d="M326.6,475.4 L326,337.9 L330.4,337.9 L333.8,475.4 Z" fill="#22cc11"/>
<path d="M328.3,474.3 L327.7,339.9 L328.7,339.9 L332.1,474.3 Z" fill="#e2f07a"/>
<polygon points="331.5,354.9 333,353 334.2,351.5 335.3,350.4 336.2,349.7 336.6,349.4 336.6,349.4 336.5,349.4 336.8,349.6 337.7,350 339,350.9 340.6,352.2 342.5,354 344.7,356.3 347.2,359 347.7,359.5 348.4,359.6 349.1,359.3 349.5,358.7 349.6,358 349.2,357.4 347,354.4 345.2,351.8 343.5,349.6 342.1,347.7 340.8,346.2 339.4,345 337.7,344.4 335.7,344.3 334,345 332.6,346.1 331.7,347.5 330.8,349.2 329.9,351.1 328.9,353.3" fill="#05cc05"/>
<polygon points="329.4,364.9 327,361.8 325,359.2 323.1,356.9 321.3,355.1 319.4,353.7 317.2,352.9 314.9,352.8 312.7,353.4 310.7,354.7 308.8,356.4 306.8,358.6 304.6,361.3 302.1,364.4 299.2,368 298.8,368.6 298.8,369.4 299.3,370 299.9,370.3 300.7,370.3 301.2,369.8 304.4,366.4 307.2,363.7 309.6,361.4 311.7,359.8 313.4,358.8 314.7,358.2 315.5,358 316.1,358 317,358.4 318.2,359.1 319.9,360.3 322,362 324.3,364.2 327,366.9" fill="#05cc05"/>
<polygon points="331.6,375.9 333.6,372.8 335.4,370.1 336.9,368.1 338.3,366.9 339.1,366.2 339.6,365.9 340.1,365.9 341,366.3 342.7,367.2 344.8,368.8 347.4,371 350.5,374 354.2,377.6 358.3,382 358.9,382.5 359.6,382.5 360.3,382.2 360.7,381.5 360.7,380.8 360.3,380.2 356.4,375.6 353.1,371.6 350.3,368.2 347.8,365.5 345.6,363.3 343.5,361.7 341.1,360.9 338.6,360.8 336.3,361.8 334.5,363.4 333.2,365.5 331.8,368 330.4,371 328.8,374.5" fill="#05cc05"/>
<polygon points="329.1,388.6 325.5,385.7 322.3,383.1 319.5,381 316.9,379.2 314.4,378.2 311.7,377.7 309.1,377.9 306.7,378.8 304.5,380.4 302.4,382.6 300.4,385.3 298.1,388.6 295.6,392.4 292.6,396.8 292.3,397.5 292.4,398.2 292.9,398.8 293.6,399 294.3,398.9 294.8,398.4 298.1,394.2 300.9,390.7 303.4,387.9 305.7,385.7 307.5,384.3 309.1,383.4 310.3,382.9 311.4,382.9 312.8,383.1 314.7,383.8 317.1,384.9 320,386.5 323.4,388.6 327.3,391.2" fill="#05cc05"/>
<polygon points="331.3,403.2 334.1,400.7 336.5,398.7 338.5,397.3 340.3,396.5 341.6,396.1 342.8,396 344.3,396.4 346.3,397.3 348.9,398.8 352,401 355.8,404 360.2,407.8 365.4,412.4 371.3,417.8 371.9,418.3 372.6,418.3 373.2,417.9 373.6,417.2 373.6,416.5 373.1,416 367.5,410.2 362.6,405.2 358.5,401 354.9,397.6 351.8,394.8 348.9,392.8 346.1,391.4 343.3,390.8 340.5,391 338,392 335.8,393.6 333.7,395.7 331.5,398.2 329.1,401" fill="#05cc05"/>
<polygon points="329.4,416.5 325.2,414.2 321.6,412.3 318.3,410.7 315.3,409.6 312.4,409.1 309.5,409.2 306.7,410 304.1,411.5 301.6,413.7 299.3,416.5 296.8,419.9 294.1,424 290.9,428.8 287.3,434.5 287,435.1 287.1,435.8 287.6,436.4 288.3,436.6 289,436.5 289.5,435.9 293.5,430.6 296.9,426.1 300,422.4 302.7,419.4 305,417.2 307,415.8 308.7,414.8 310.3,414.3 312,414.2 314.1,414.5 316.8,415.1 320,416.1 323.7,417.5 328,419.3" fill="#05cc05"/>
<path d="M315.4,373.6 Q314.3,387.9 326,396.2 Q327.1,381.9 315.4,373.6 Z" fill="#efdf68" stroke="#111" stroke-width="1.4" stroke-linejoin="round"/>
<path d="M329.9,407.7 Q341.5,400 340.5,386.1 Q328.9,393.8 329.9,407.7 Z" fill="#efdf68" stroke="#111" stroke-width="1.4" stroke-linejoin="round"/>
<path d="M317.8,404.5 Q316.5,417.8 327.6,425.3 Q328.9,412 317.8,404.5 Z" fill="#efdf68" stroke="#111" stroke-width="1.4" stroke-linejoin="round"/>
<path d="M328.2,338.4 L328.2,320.7 M328.2,337.5 Q323.6,337.4 319,335 M328.2,337.5 Q332.8,337.4 337.4,335 M328.2,336.1 Q324.2,334.6 320.3,330.9 M328.2,336.1 Q332.2,334.6 336.1,330.9 M328.2,334.6 Q324.1,331.6 320,326.5 M328.2,334.6 Q332.3,331.6 336.4,326.5 M328.2,332.6 Q325,328.7 321.7,322.5 M328.2,332.6 Q331.4,328.7 334.7,322.5 " stroke="#111" stroke-width="1.9" stroke-linecap="round" fill="none"/>
<path d="M374.6,475.4 L374,337.9 L378.4,337.9 L381.8,475.4 Z" fill="#22cc11"/>
<path d="M376.3,474.3 L375.7,339.9 L376.7,339.9 L380.1,474.3 Z" fill="#e2f07a"/>
<polygon points="379.5,354.9 381,353 382.2,351.5 383.3,350.4 384.2,349.7 384.6,349.4 384.6,349.4 384.5,349.4 384.8,349.6 385.7,350 387,350.9 388.6,352.2 390.5,354 392.7,356.3 395.2,359 395.7,359.5 396.4,359.6 397.1,359.3 397.5,358.7 397.6,358 397.2,357.4 395,354.4 393.2,351.8 391.5,349.6 390.1,347.7 388.8,346.2 387.4,345 385.7,344.4 383.7,344.3 382,345 380.6,346.1 379.7,347.5 378.8,349.2 377.9,351.1 376.9,353.3" fill="#05cc05"/>
<polygon points="377.4,364.9 375,361.8 373,359.2 371.1,356.9 369.3,355.1 367.4,353.7 365.2,352.9 362.9,352.8 360.7,353.4 358.7,354.7 356.8,356.4 354.8,358.6 352.6,361.3 350.1,364.4 347.2,368 346.8,368.6 346.8,369.4 347.3,370 347.9,370.3 348.7,370.3 349.2,369.8 352.4,366.4 355.2,363.7 357.6,361.4 359.7,359.8 361.4,358.8 362.7,358.2 363.5,358 364.1,358 365,358.4 366.2,359.1 367.9,360.3 370,362 372.3,364.2 375,366.9" fill="#05cc05"/>
<polygon points="379.6,375.9 381.6,372.8 383.4,370.1 384.9,368.1 386.3,366.9 387.1,366.2 387.6,365.9 388.1,365.9 389,366.3 390.7,367.2 392.8,368.8 395.4,371 398.5,374 402.2,377.6 406.3,382 406.9,382.5 407.6,382.5 408.3,382.2 408.7,381.5 408.7,380.8 408.3,380.2 404.4,375.6 401.1,371.6 398.3,368.2 395.8,365.5 393.6,363.3 391.5,361.7 389.1,360.9 386.6,360.8 384.3,361.8 382.5,363.4 381.2,365.5 379.8,368 378.4,371 376.8,374.5" fill="#05cc05"/>
<polygon points="377.1,388.6 373.5,385.7 370.3,383.1 367.5,381 364.9,379.2 362.4,378.2 359.7,377.7 357.1,377.9 354.7,378.8 352.5,380.4 350.4,382.6 348.4,385.3 346.1,388.6 343.6,392.4 340.6,396.8 340.3,397.5 340.4,398.2 340.9,398.8 341.6,399 342.3,398.9 342.8,398.4 346.1,394.2 348.9,390.7 351.4,387.9 353.7,385.7 355.5,384.3 357.1,383.4 358.3,382.9 359.4,382.9 360.8,383.1 362.7,383.8 365.1,384.9 368,386.5 371.4,388.6 375.3,391.2" fill="#05cc05"/>
<polygon points="379.3,403.2 382.1,400.7 384.5,398.7 386.5,397.3 388.3,396.5 389.6,396.1 390.8,396 392.3,396.4 394.3,397.3 396.9,398.8 400,401 403.8,404 408.2,407.8 413.4,412.4 419.3,417.8 419.9,418.3 420.6,418.3 421.2,417.9 421.6,417.2 421.6,416.5 421.1,416 415.5,410.2 410.6,405.2 406.5,401 402.9,397.6 399.8,394.8 396.9,392.8 394.1,391.4 391.3,390.8 388.5,391 386,392 383.8,393.6 381.7,395.7 379.5,398.2 377.1,401" fill="#05cc05"/>
<polygon points="377.4,416.5 373.2,414.2 369.6,412.3 366.3,410.7 363.3,409.6 360.4,409.1 357.5,409.2 354.7,410 352.1,411.5 349.6,413.7 347.3,416.5 344.8,419.9 342.1,424 338.9,428.8 335.3,434.5 335,435.1 335.1,435.8 335.6,436.4 336.3,436.6 337,436.5 337.5,435.9 341.5,430.6 344.9,426.1 348,422.4 350.7,419.4 353,417.2 355,415.8 356.7,414.8 358.3,414.3 360,414.2 362.1,414.5 364.8,415.1 368,416.1 371.7,417.5 376,419.3" fill="#05cc05"/>
<path d="M363.4,373.6 Q362.3,387.9 374,396.2 Q375.1,381.9 363.4,373.6 Z" fill="#efdf68" stroke="#111" stroke-width="1.4" stroke-linejoin="round"/>
<path d="M377.9,407.7 Q389.5,400 388.5,386.1 Q376.9,393.8 377.9,407.7 Z" fill="#efdf68" stroke="#111" stroke-width="1.4" stroke-linejoin="round"/>
<path d="M365.8,404.5 Q364.5,417.8 375.6,425.3 Q376.9,412 365.8,404.5 Z" fill="#efdf68" stroke="#111" stroke-width="1.4" stroke-linejoin="round"/>
<path d="M376.2,338.4 L376.2,320.7 M376.2,337.5 Q371.6,337.4 367,335 M376.2,337.5 Q380.8,337.4 385.4,335 M376.2,336.1 Q372.2,334.6 368.3,330.9 M376.2,336.1 Q380.2,334.6 384.1,330.9 M376.2,334.6 Q372.1,331.6 368,326.5 M376.2,334.6 Q380.3,331.6 384.4,326.5 M376.2,332.6 Q373,328.7 369.7,322.5 M376.2,332.6 Q379.4,328.7 382.7,322.5 " stroke="#111" stroke-width="1.9" stroke-linecap="round" fill="none"/>
<path d="M310.5,456.6 L309.9,319.1 L314.3,319.1 L317.8,456.6 Z" fill="#22cc11"/>
<path d="M312.2,455.5 L311.6,321.1 L312.6,321.1 L316,455.5 Z" fill="#e2f07a"/>
<polygon points="315.4,336.1 316.9,334.2 318.1,332.7 319.2,331.6 320.1,330.9 320.5,330.6 320.5,330.6 320.4,330.6 320.7,330.8 321.6,331.2 322.9,332.1 324.5,333.4 326.4,335.2 328.6,337.5 331.1,340.2 331.6,340.7 332.3,340.8 333,340.5 333.4,339.9 333.5,339.2 333.1,338.6 330.9,335.6 329.1,333 327.4,330.8 326,328.9 324.7,327.4 323.3,326.2 321.6,325.6 319.6,325.5 317.9,326.2 316.5,327.3 315.6,328.7 314.7,330.4 313.8,332.3 312.8,334.5" fill="#05cc05"/>
<polygon points="313.3,346.1 310.9,343 308.9,340.4 307,338.1 305.2,336.3 303.3,334.9 301.1,334.1 298.8,334 296.6,334.6 294.6,335.9 292.7,337.6 290.7,339.8 288.5,342.5 286,345.6 283.1,349.2 282.7,349.8 282.7,350.6 283.2,351.2 283.8,351.5 284.6,351.5 285.1,351 288.3,347.6 291.1,344.9 293.5,342.6 295.6,341 297.3,340 298.6,339.4 299.4,339.2 300,339.2 300.9,339.6 302.1,340.3 303.8,341.5 305.9,343.2 308.2,345.4 310.9,348.1" fill="#05cc05"/>
<polygon points="315.5,357.1 317.5,354 319.3,351.3 320.8,349.3 322.2,348.1 323,347.4 323.5,347.1 324,347.1 324.9,347.5 326.6,348.4 328.7,350 331.3,352.2 334.4,355.2 338.1,358.8 342.2,363.2 342.8,363.7 343.5,363.7 344.2,363.4 344.6,362.7 344.6,362 344.2,361.4 340.3,356.8 337,352.8 334.2,349.4 331.7,346.7 329.5,344.5 327.4,342.9 325,342.1 322.5,342 320.2,343 318.4,344.6 317.1,346.7 315.7,349.2 314.3,352.2 312.7,355.7" fill="#05cc05"/>
<polygon points="313,369.8 309.4,366.9 306.2,364.3 303.4,362.2 300.8,360.4 298.3,359.4 295.6,358.9 293,359.1 290.6,360 288.4,361.6 286.3,363.8 284.3,366.5 282,369.8 279.5,373.6 276.5,378 276.2,378.7 276.3,379.4 276.8,380 277.5,380.2 278.2,380.1 278.7,379.6 282,375.4 284.8,371.9 287.3,369.1 289.6,366.9 291.4,365.5 293,364.6 294.2,364.1 295.3,364.1 296.7,364.3 298.6,365 301,366.1 303.9,367.7 307.3,369.8 311.2,372.4" fill="#05cc05"/>
<polygon points="315.2,384.4 318,381.9 320.4,379.9 322.4,378.5 324.2,377.7 325.5,377.3 326.7,377.2 328.2,377.6 330.2,378.5 332.8,380 335.9,382.2 339.7,385.2 344.1,389 349.3,393.6 355.2,399 355.8,399.5 356.5,399.5 357.1,399.1 357.5,398.4 357.5,397.7 357,397.2 351.4,391.4 346.5,386.4 342.4,382.2 338.8,378.8 335.7,376 332.8,374 330,372.6 327.2,372 324.4,372.2 321.9,373.2 319.7,374.8 317.6,376.9 315.4,379.4 313,382.2" fill="#05cc05"/>
<polygon points="313.3,397.7 309.1,395.4 305.5,393.5 302.2,391.9 299.2,390.8 296.3,390.3 293.4,390.4 290.6,391.2 288,392.7 285.5,394.9 283.2,397.7 280.7,401.1 278,405.2 274.8,410 271.2,415.7 270.9,416.3 271,417 271.5,417.6 272.2,417.8 272.9,417.7 273.4,417.1 277.4,411.8 280.8,407.3 283.9,403.6 286.6,400.6 288.9,398.4 290.9,397 292.6,396 294.2,395.5 295.9,395.4 298,395.7 300.7,396.3 303.9,397.3 307.6,398.7 311.9,400.5" fill="#05cc05"/>
<path d="M299.3,354.8 Q298.2,369.1 309.9,377.4 Q311,363.1 299.3,354.8 Z" fill="#efdf68" stroke="#111" stroke-width="1.4" stroke-linejoin="round"/>
<path d="M313.8,388.9 Q325.4,381.2 324.4,367.3 Q312.8,375 313.8,388.9 Z" fill="#efdf68" stroke="#111" stroke-width="1.4" stroke-linejoin="round"/>
<path d="M301.7,385.7 Q300.4,399 311.5,406.5 Q312.8,393.2 301.7,385.7 Z" fill="#efdf68" stroke="#111" stroke-width="1.4" stroke-linejoin="round"/>
<path d="M312.1,319.6 L312.1,301.9 M312.1,318.7 Q307.5,318.6 302.9,316.2 M312.1,318.7 Q316.7,318.6 321.3,316.2 M312.1,317.3 Q308.1,315.8 304.2,312.1 M312.1,317.3 Q316.1,315.8 320,312.1 M312.1,315.8 Q308,312.8 303.9,307.7 M312.1,315.8 Q316.2,312.8 320.3,307.7 M312.1,313.8 Q308.9,309.9 305.6,303.7 M312.1,313.8 Q315.3,309.9 318.6,303.7 " stroke="#111" stroke-width="1.9" stroke-linecap="round" fill="none"/>
<path d="M357.8,454.6 L357.2,317.1 L361.6,317.1 L365,454.6 Z" fill="#22cc11"/>
<path d="M359.5,453.5 L358.9,319.1 L359.9,319.1 L363.3,453.5 Z" fill="#e2f07a"/>
<polygon points="362.7,334.1 364.2,332.2 365.4,330.7 366.5,329.6 367.4,328.9 367.8,328.6 367.8,328.6 367.7,328.6 368,328.8 368.9,329.2 370.2,330.1 371.8,331.4 373.7,333.2 375.9,335.5 378.4,338.2 378.9,338.7 379.6,338.8 380.3,338.5 380.7,337.9 380.8,337.2 380.4,336.6 378.2,333.6 376.4,331 374.7,328.8 373.3,326.9 372,325.4 370.6,324.2 368.9,323.6 366.9,323.5 365.2,324.2 363.8,325.3 362.9,326.7 362,328.4 361.1,330.3 360.1,332.5" fill="#05cc05"/>
<polygon points="360.6,344.1 358.2,341 356.2,338.4 354.3,336.1 352.5,334.3 350.6,332.9 348.4,332.1 346.1,332 343.9,332.6 341.9,333.9 340,335.6 338,337.8 335.8,340.5 333.3,343.6 330.4,347.2 330,347.8 330,348.6 330.5,349.2 331.1,349.5 331.9,349.5 332.4,349 335.6,345.6 338.4,342.9 340.8,340.6 342.9,339 344.6,338 345.9,337.4 346.7,337.2 347.3,337.2 348.2,337.6 349.4,338.3 351.1,339.5 353.2,341.2 355.5,343.4 358.2,346.1" fill="#05cc05"/>
<polygon points="362.8,355.1 364.8,352 366.6,349.3 368.1,347.3 369.5,346.1 370.3,345.4 370.8,345.1 371.3,345.1 372.2,345.5 373.9,346.4 376,348 378.6,350.2 381.7,353.2 385.4,356.8 389.5,361.2 390.1,361.7 390.8,361.7 391.5,361.4 391.9,360.7 391.9,360 391.5,359.4 387.6,354.8 384.3,350.8 381.5,347.4 379,344.7 376.8,342.5 374.7,340.9 372.3,340.1 369.8,340 367.5,341 365.7,342.6 364.4,344.7 363,347.2 361.6,350.2 360,353.7" fill="#05cc05"/>
<polygon points="360.3,367.8 356.7,364.9 353.5,362.3 350.7,360.2 348.1,358.4 345.6,357.4 342.9,356.9 340.3,357.1 337.9,358 335.7,359.6 333.6,361.8 331.6,364.5 329.3,367.8 326.8,371.6 323.8,376 323.5,376.7 323.6,377.4 324.1,378 324.8,378.2 325.5,378.1 326,377.6 329.3,373.4 332.1,369.9 334.6,367.1 336.9,364.9 338.7,363.5 340.3,362.6 341.5,362.1 342.6,362.1 344,362.3 345.9,363 348.3,364.1 351.2,365.7 354.6,367.8 358.5,370.4" fill="#05cc05"/>
<polygon points="362.5,382.4 365.3,379.9 367.7,377.9 369.7,376.5 371.5,375.7 372.8,375.3 374,375.2 375.5,375.6 377.5,376.5 380.1,378 383.2,380.2 387,383.2 391.4,387 396.6,391.6 402.5,397 403.1,397.5 403.8,397.5 404.4,397.1 404.8,396.4 404.8,395.7 404.3,395.2 398.7,389.4 393.8,384.4 389.7,380.2 386.1,376.8 383,374 380.1,372 377.3,370.6 374.5,370 371.7,370.2 369.2,371.2 367,372.8 364.9,374.9 362.7,377.4 360.3,380.2" fill="#05cc05"/>
<polygon points="360.6,395.7 356.4,393.4 352.8,391.5 349.5,389.9 346.5,388.8 343.6,388.3 340.7,388.4 337.9,389.2 335.3,390.7 332.8,392.9 330.5,395.7 328,399.1 325.3,403.2 322.1,408 318.5,413.7 318.2,414.3 318.3,415 318.8,415.6 319.5,415.8 320.2,415.7 320.7,415.1 324.7,409.8 328.1,405.3 331.2,401.6 333.9,398.6 336.2,396.4 338.2,395 339.9,394 341.5,393.5 343.2,393.4 345.3,393.7 348,394.3 351.2,395.3 354.9,396.7 359.2,398.5" fill="#05cc05"/>
<path d="M346.6,352.8 Q345.5,367.1 357.2,375.4 Q358.3,361.1 346.6,352.8 Z" fill="#efdf68" stroke="#111" stroke-width="1.4" stroke-linejoin="round"/>
<path d="M361.1,386.9 Q372.7,379.2 371.7,365.3 Q360.1,373 361.1,386.9 Z" fill="#efdf68" stroke="#111" stroke-width="1.4" stroke-linejoin="round"/>
<path d="M349,383.7 Q347.7,397 358.8,404.5 Q360.1,391.2 349,383.7 Z" fill="#efdf68" stroke="#111" stroke-width="1.4" stroke-linejoin="round"/>
<path d="M359.4,317.6 L359.4,299.9 M359.4,316.7 Q354.8,316.6 350.2,314.2 M359.4,316.7 Q364,316.6 368.6,314.2 M359.4,315.3 Q355.4,313.8 351.5,310.1 M359.4,315.3 Q363.4,313.8 367.3,310.1 M359.4,313.8 Q355.3,310.8 351.2,305.7 M359.4,313.8 Q363.5,310.8 367.6,305.7 M359.4,311.8 Q356.2,307.9 352.9,301.7 M359.4,311.8 Q362.6,307.9 365.9,301.7 " stroke="#111" stroke-width="1.9" stroke-linecap="round" fill="none"/>
<path d="M405.4,454.6 L404.8,317.1 L409.2,317.1 L412.6,454.6 Z" fill="#22cc11"/>
<path d="M407.1,453.5 L406.5,319.1 L407.5,319.1 L410.9,453.5 Z" fill="#e2f07a"/>
<polygon points="410.3,334.1 411.8,332.2 413,330.7 414.1,329.6 415,328.9 415.4,328.6 415.4,328.6 415.3,328.6 415.6,328.8 416.5,329.2 417.8,330.1 419.4,331.4 421.3,333.2 423.5,335.5 426,338.2 426.5,338.7 427.2,338.8 427.9,338.5 428.3,337.9 428.4,337.2 428,336.6 425.8,333.6 424,331 422.3,328.8 420.9,326.9 419.6,325.4 418.2,324.2 416.5,323.6 414.5,323.5 412.8,324.2 411.4,325.3 410.5,326.7 409.6,328.4 408.7,330.3 407.7,332.5" fill="#05cc05"/>
<polygon points="408.2,344.1 405.8,341 403.8,338.4 401.9,336.1 400.1,334.3 398.2,332.9 396,332.1 393.7,332 391.5,332.6 389.5,333.9 387.6,335.6 385.6,337.8 383.4,340.5 380.9,343.6 378,347.2 377.6,347.8 377.6,348.6 378.1,349.2 378.7,349.5 379.5,349.5 380,349 383.2,345.6 386,342.9 388.4,340.6 390.5,339 392.2,338 393.5,337.4 394.3,337.2 394.9,337.2 395.8,337.6 397,338.3 398.7,339.5 400.8,341.2 403.1,343.4 405.8,346.1" fill="#05cc05"/>
<polygon points="410.4,355.1 412.4,352 414.2,349.3 415.7,347.3 417.1,346.1 417.9,345.4 418.4,345.1 418.9,345.1 419.8,345.5 421.5,346.4 423.6,348 426.2,350.2 429.3,353.2 433,356.8 437.1,361.2 437.7,361.7 438.4,361.7 439.1,361.4 439.5,360.7 439.5,360 439.1,359.4 435.2,354.8 431.9,350.8 429.1,347.4 426.6,344.7 424.4,342.5 422.3,340.9 419.9,340.1 417.4,340 415.1,341 413.3,342.6 412,344.7 410.6,347.2 409.2,350.2 407.6,353.7" fill="#05cc05"/>
<polygon points="407.9,367.8 404.3,364.9 401.1,362.3 398.3,360.2 395.7,358.4 393.2,357.4 390.5,356.9 387.9,357.1 385.5,358 383.3,359.6 381.2,361.8 379.2,364.5 376.9,367.8 374.4,371.6 371.4,376 371.1,376.7 371.2,377.4 371.7,378 372.4,378.2 373.1,378.1 373.6,377.6 376.9,373.4 379.7,369.9 382.2,367.1 384.5,364.9 386.3,363.5 387.9,362.6 389.1,362.1 390.2,362.1 391.6,362.3 393.5,363 395.9,364.1 398.8,365.7 402.2,367.8 406.1,370.4" fill="#05cc05"/>
<polygon points="410.1,382.4 412.9,379.9 415.3,377.9 417.3,376.5 419.1,375.7 420.4,375.3 421.6,375.2 423.1,375.6 425.1,376.5 427.7,378 430.8,380.2 434.6,383.2 439,387 444.2,391.6 450.1,397 450.7,397.5 451.4,397.5 452,397.1 452.4,396.4 452.4,395.7 451.9,395.2 446.3,389.4 441.4,384.4 437.3,380.2 433.7,376.8 430.6,374 427.7,372 424.9,370.6 422.1,370 419.3,370.2 416.8,371.2 414.6,372.8 412.5,374.9 410.3,377.4 407.9,380.2" fill="#05cc05"/>
<polygon points="408.2,395.7 404,393.4 400.4,391.5 397.1,389.9 394.1,388.8 391.2,388.3 388.3,388.4 385.5,389.2 382.9,390.7 380.4,392.9 378.1,395.7 375.6,399.1 372.9,403.2 369.7,408 366.1,413.7 365.8,414.3 365.9,415 366.4,415.6 367.1,415.8 367.8,415.7 368.3,415.1 372.3,409.8 375.7,405.3 378.8,401.6 381.5,398.6 383.8,396.4 385.8,395 387.5,394 389.1,393.5 390.8,393.4 392.9,393.7 395.6,394.3 398.8,395.3 402.5,396.7 406.8,398.5" fill="#05cc05"/>
<path d="M394.2,352.8 Q393.1,367.1 404.8,375.4 Q405.9,361.1 394.2,352.8 Z" fill="#efdf68" stroke="#111" stroke-width="1.4" stroke-linejoin="round"/>
<path d="M408.7,386.9 Q420.3,379.2 419.3,365.3 Q407.7,373 408.7,386.9 Z" fill="#efdf68" stroke="#111" stroke-width="1.4" stroke-linejoin="round"/>
<path d="M396.6,383.7 Q395.3,397 406.4,404.5 Q407.7,391.2 396.6,383.7 Z" fill="#efdf68" stroke="#111" stroke-width="1.4" stroke-linejoin="round"/>
<path d="M407,317.6 L407,299.9 M407,316.7 Q402.4,316.6 397.8,314.2 M407,316.7 Q411.6,316.6 416.2,314.2 M407,315.3 Q403,313.8 399.1,310.1 M407,315.3 Q411,313.8 414.9,310.1 M407,313.8 Q402.9,310.8 398.8,305.7 M407,313.8 Q411.1,310.8 415.2,305.7 M407,311.8 Q403.8,307.9 400.5,301.7 M407,311.8 Q410.2,307.9 413.5,301.7 " stroke="#111" stroke-width="1.9" stroke-linecap="round" fill="none"/>
<path d="M342.6,436.6 L342,299.1 L346.4,299.1 L349.8,436.6 Z" fill="#22cc11"/>
<path d="M344.3,435.5 L343.7,301.1 L344.7,301.1 L348.1,435.5 Z" fill="#e2f07a"/>
<polygon points="347.5,316.1 349,314.2 350.2,312.7 351.3,311.6 352.2,310.9 352.6,310.6 352.6,310.6 352.5,310.6 352.8,310.8 353.7,311.2 355,312.1 356.6,313.4 358.5,315.2 360.7,317.5 363.2,320.2 363.7,320.7 364.4,320.8 365.1,320.5 365.5,319.9 365.6,319.2 365.2,318.6 363,315.6 361.2,313 359.5,310.8 358.1,308.9 356.8,307.4 355.4,306.2 353.7,305.6 351.7,305.5 350,306.2 348.6,307.3 347.7,308.7 346.8,310.4 345.9,312.3 344.9,314.5" fill="#05cc05"/>
<polygon points="345.4,326.1 343,323 341,320.4 339.1,318.1 337.3,316.3 335.4,314.9 333.2,314.1 330.9,314 328.7,314.6 326.7,315.9 324.8,317.6 322.8,319.8 320.6,322.5 318.1,325.6 315.2,329.2 314.8,329.8 314.8,330.6 315.3,331.2 315.9,331.5 316.7,331.5 317.2,331 320.4,327.6 323.2,324.9 325.6,322.6 327.7,321 329.4,320 330.7,319.4 331.5,319.2 332.1,319.2 333,319.6 334.2,320.3 335.9,321.5 338,323.2 340.3,325.4 343,328.1" fill="#05cc05"/>
<polygon points="347.6,337.1 349.6,334 351.4,331.3 352.9,329.3 354.3,328.1 355.1,327.4 355.6,327.1 356.1,327.1 357,327.5 358.7,328.4 360.8,330 363.4,332.2 366.5,335.2 370.2,338.8 374.3,343.2 374.9,343.7 375.6,343.7 376.3,343.4 376.7,342.7 376.7,342 376.3,341.4 372.4,336.8 369.1,332.8 366.3,329.4 363.8,326.7 361.6,324.5 359.5,322.9 357.1,322.1 354.6,322 352.3,323 350.5,324.6 349.2,326.7 347.8,329.2 346.4,332.2 344.8,335.7" fill="#05cc05"/>
<polygon points="345.1,349.8 341.5,346.9 338.3,344.3 335.5,342.2 332.9,340.4 330.4,339.4 327.7,338.9 325.1,339.1 322.7,340 320.5,341.6 318.4,343.8 316.4,346.5 314.1,349.8 311.6,353.6 308.6,358 308.3,358.7 308.4,359.4 308.9,360 309.6,360.2 310.3,360.1 310.8,359.6 314.1,355.4 316.9,351.9 319.4,349.1 321.7,346.9 323.5,345.5 325.1,344.6 326.3,344.1 327.4,344.1 328.8,344.3 330.7,345 333.1,346.1 336,347.7 339.4,349.8 343.3,352.4" fill="#05cc05"/>
<polygon points="347.3,364.4 350.1,361.9 352.5,359.9 354.5,358.5 356.3,357.7 357.6,357.3 358.8,357.2 360.3,357.6 362.3,358.5 364.9,360 368,362.2 371.8,365.2 376.2,369 381.4,373.6 387.3,379 387.9,379.5 388.6,379.5 389.2,379.1 389.6,378.4 389.6,377.7 389.1,377.2 383.5,371.4 378.6,366.4 374.5,362.2 370.9,358.8 367.8,356 364.9,354 362.1,352.6 359.3,352 356.5,352.2 354,353.2 351.8,354.8 349.7,356.9 347.5,359.4 345.1,362.2" fill="#05cc05"/>
<polygon points="345.4,377.7 341.2,375.4 337.6,373.5 334.3,371.9 331.3,370.8 328.4,370.3 325.5,370.4 322.7,371.2 320.1,372.7 317.6,374.9 315.3,377.7 312.8,381.1 310.1,385.2 306.9,390 303.3,395.7 303,396.3 303.1,397 303.6,397.6 304.3,397.8 305,397.7 305.5,397.1 309.5,391.8 312.9,387.3 316,383.6 318.7,380.6 321,378.4 323,377 324.7,376 326.3,375.5 328,375.4 330.1,375.7 332.8,376.3 336,377.3 339.7,378.7 344,380.5" fill="#05cc05"/>
<path d="M331.4,334.8 Q330.3,349.1 342,357.4 Q343.1,343.1 331.4,334.8 Z" fill="#efdf68" stroke="#111" stroke-width="1.4" stroke-linejoin="round"/>
<path d="M345.9,368.9 Q357.5,361.2 356.5,347.3 Q344.9,355 345.9,368.9 Z" fill="#efdf68" stroke="#111" stroke-width="1.4" stroke-linejoin="round"/>
<path d="M333.8,365.7 Q332.5,379 343.6,386.5 Q344.9,373.2 333.8,365.7 Z" fill="#efdf68" stroke="#111" stroke-width="1.4" stroke-linejoin="round"/>
<path d="M344.2,299.6 L344.2,281.9 M344.2,298.7 Q339.6,298.6 335,296.2 M344.2,298.7 Q348.8,298.6 353.4,296.2 M344.2,297.3 Q340.2,295.8 336.3,292.1 M344.2,297.3 Q348.2,295.8 352.1,292.1 M344.2,295.8 Q340.1,292.8 336,287.7 M344.2,295.8 Q348.3,292.8 352.4,287.7 M344.2,293.8 Q341,289.9 337.7,283.7 M344.2,293.8 Q347.4,289.9 350.7,283.7 " stroke="#111" stroke-width="1.9" stroke-linecap="round" fill="none"/>
<path d="M386.6,434.6 L386,297.1 L390.4,297.1 L393.8,434.6 Z" fill="#22cc11"/>
<path d="M388.3,433.5 L387.7,299.1 L388.7,299.1 L392.1,433.5 Z" fill="#e2f07a"/>
<polygon points="391.5,314.1 393,312.2 394.2,310.7 395.3,309.6 396.2,308.9 396.6,308.6 396.6,308.6 396.5,308.6 396.8,308.8 397.7,309.2 399,310.1 400.6,311.4 402.5,313.2 404.7,315.5 407.2,318.2 407.7,318.7 408.4,318.8 409.1,318.5 409.5,317.9 409.6,317.2 409.2,316.6 407,313.6 405.2,311 403.5,308.8 402.1,306.9 400.8,305.4 399.4,304.2 397.7,303.6 395.7,303.5 394,304.2 392.6,305.3 391.7,306.7 390.8,308.4 389.9,310.3 388.9,312.5" fill="#05cc05"/>
<polygon points="389.4,324.1 387,321 385,318.4 383.1,316.1 381.3,314.3 379.4,312.9 377.2,312.1 374.9,312 372.7,312.6 370.7,313.9 368.8,315.6 366.8,317.8 364.6,320.5 362.1,323.6 359.2,327.2 358.8,327.8 358.8,328.6 359.3,329.2 359.9,329.5 360.7,329.5 361.2,329 364.4,325.6 367.2,322.9 369.6,320.6 371.7,319 373.4,318 374.7,317.4 375.5,317.2 376.1,317.2 377,317.6 378.2,318.3 379.9,319.5 382,321.2 384.3,323.4 387,326.1" fill="#05cc05"/>
<polygon points="391.6,335.1 393.6,332 395.4,329.3 396.9,327.3 398.3,326.1 399.1,325.4 399.6,325.1 400.1,325.1 401,325.5 402.7,326.4 404.8,328 407.4,330.2 410.5,333.2 414.2,336.8 418.3,341.2 418.9,341.7 419.6,341.7 420.3,341.4 420.7,340.7 420.7,340 420.3,339.4 416.4,334.8 413.1,330.8 410.3,327.4 407.8,324.7 405.6,322.5 403.5,320.9 401.1,320.1 398.6,320 396.3,321 394.5,322.6 393.2,324.7 391.8,327.2 390.4,330.2 388.8,333.7" fill="#05cc05"/>
<polygon points="389.1,347.8 385.5,344.9 382.3,342.3 379.5,340.2 376.9,338.4 374.4,337.4 371.7,336.9 369.1,337.1 366.7,338 364.5,339.6 362.4,341.8 360.4,344.5 358.1,347.8 355.6,351.6 352.6,356 352.3,356.7 352.4,357.4 352.9,358 353.6,358.2 354.3,358.1 354.8,357.6 358.1,353.4 360.9,349.9 363.4,347.1 365.7,344.9 367.5,343.5 369.1,342.6 370.3,342.1 371.4,342.1 372.8,342.3 374.7,343 377.1,344.1 380,345.7 383.4,347.8 387.3,350.4" fill="#05cc05"/>
<polygon points="391.3,362.4 394.1,359.9 396.5,357.9 398.5,356.5 400.3,355.7 401.6,355.3 402.8,355.2 404.3,355.6 406.3,356.5 408.9,358 412,360.2 415.8,363.2 420.2,367 425.4,371.6 431.3,377 431.9,377.5 432.6,377.5 433.2,377.1 433.6,376.4 433.6,375.7 433.1,375.2 427.5,369.4 422.6,364.4 418.5,360.2 414.9,356.8 411.8,354 408.9,352 406.1,350.6 403.3,350 400.5,350.2 398,351.2 395.8,352.8 393.7,354.9 391.5,357.4 389.1,360.2" fill="#05cc05"/>
<polygon points="389.4,375.7 385.2,373.4 381.6,371.5 378.3,369.9 375.3,368.8 372.4,368.3 369.5,368.4 366.7,369.2 364.1,370.7 361.6,372.9 359.3,375.7 356.8,379.1 354.1,383.2 350.9,388 347.3,393.7 347,394.3 347.1,395 347.6,395.6 348.3,395.8 349,395.7 349.5,395.1 353.5,389.8 356.9,385.3 360,381.6 362.7,378.6 365,376.4 367,375 368.7,374 370.3,373.5 372,373.4 374.1,373.7 376.8,374.3 380,375.3 383.7,376.7 388,378.5" fill="#05cc05"/>
<path d="M375.4,332.8 Q374.3,347.1 386,355.4 Q387.1,341.1 375.4,332.8 Z" fill="#efdf68" stroke="#111" stroke-width="1.4" stroke-linejoin="round"/>
<path d="M389.9,366.9 Q401.5,359.2 400.5,345.3 Q388.9,353 389.9,366.9 Z" fill="#efdf68" stroke="#111" stroke-width="1.4" stroke-linejoin="round"/>
<path d="M377.8,363.7 Q376.5,377 387.6,384.5 Q388.9,371.2 377.8,363.7 Z" fill="#efdf68" stroke="#111" stroke-width="1.4" stroke-linejoin="round"/>
<path d="M388.2,297.6 L388.2,279.9 M388.2,296.7 Q383.6,296.6 379,294.2 M388.2,296.7 Q392.8,296.6 397.4,294.2 M388.2,295.3 Q384.2,293.8 380.3,290.1 M388.2,295.3 Q392.2,293.8 396.1,290.1 M388.2,293.8 Q384.1,290.8 380,285.7 M388.2,293.8 Q392.3,290.8 396.4,285.7 M388.2,291.8 Q385,287.9 381.7,281.7 M388.2,291.8 Q391.4,287.9 394.7,281.7 " stroke="#111" stroke-width="1.9" stroke-linecap="round" fill="none"/>
<path d="M435.4,434.6 L434.8,297.1 L439.2,297.1 L442.6,434.6 Z" fill="#22cc11"/>
<path d="M437.1,433.5 L436.5,299.1 L437.5,299.1 L440.9,433.5 Z" fill="#e2f07a"/>
<polygon points="440.3,314.1 441.8,312.2 443,310.7 444.1,309.6 445,308.9 445.4,308.6 445.4,308.6 445.3,308.6 445.6,308.8 446.5,309.2 447.8,310.1 449.4,311.4 451.3,313.2 453.5,315.5 456,318.2 456.5,318.7 457.2,318.8 457.9,318.5 458.3,317.9 458.4,317.2 458,316.6 455.8,313.6 454,311 452.3,308.8 450.9,306.9 449.6,305.4 448.2,304.2 446.5,303.6 444.5,303.5 442.8,304.2 441.4,305.3 440.5,306.7 439.6,308.4 438.7,310.3 437.7,312.5" fill="#05cc05"/>
<polygon points="438.2,324.1 435.8,321 433.8,318.4 431.9,316.1 430.1,314.3 428.2,312.9 426,312.1 423.7,312 421.5,312.6 419.5,313.9 417.6,315.6 415.6,317.8 413.4,320.5 410.9,323.6 408,327.2 407.6,327.8 407.6,328.6 408.1,329.2 408.7,329.5 409.5,329.5 410,329 413.2,325.6 416,322.9 418.4,320.6 420.5,319 422.2,318 423.5,317.4 424.3,317.2 424.9,317.2 425.8,317.6 427,318.3 428.7,319.5 430.8,321.2 433.1,323.4 435.8,326.1" fill="#05cc05"/>
<polygon points="440.4,335.1 442.4,332 444.2,329.3 445.7,327.3 447.1,326.1 447.9,325.4 448.4,325.1 448.9,325.1 449.8,325.5 451.5,326.4 453.6,328 456.2,330.2 459.3,333.2 463,336.8 467.1,341.2 467.7,341.7 468.4,341.7 469.1,341.4 469.5,340.7 469.5,340 469.1,339.4 465.2,334.8 461.9,330.8 459.1,327.4 456.6,324.7 454.4,322.5 452.3,320.9 449.9,320.1 447.4,320 445.1,321 443.3,322.6 442,324.7 440.6,327.2 439.2,330.2 437.6,333.7" fill="#05cc05"/>
<polygon points="437.9,347.8 434.3,344.9 431.1,342.3 428.3,340.2 425.7,338.4 423.2,337.4 420.5,336.9 417.9,337.1 415.5,338 413.3,339.6 411.2,341.8 409.2,344.5 406.9,347.8 404.4,351.6 401.4,356 401.1,356.7 401.2,357.4 401.7,358 402.4,358.2 403.1,358.1 403.6,357.6 406.9,353.4 409.7,349.9 412.2,347.1 414.5,344.9 416.3,343.5 417.9,342.6 419.1,342.1 420.2,342.1 421.6,342.3 423.5,343 425.9,344.1 428.8,345.7 432.2,347.8 436.1,350.4" fill="#05cc05"/>
<polygon points="440.1,362.4 442.9,359.9 445.3,357.9 447.3,356.5 449.1,355.7 450.4,355.3 451.6,355.2 453.1,355.6 455.1,356.5 457.7,358 460.8,360.2 464.6,363.2 469,367 474.2,371.6 480.1,377 480.7,377.5 481.4,377.5 482,377.1 482.4,376.4 482.4,375.7 481.9,375.2 476.3,369.4 471.4,364.4 467.3,360.2 463.7,356.8 460.6,354 457.7,352 454.9,350.6 452.1,350 449.3,350.2 446.8,351.2 444.6,352.8 442.5,354.9 440.3,357.4 437.9,360.2" fill="#05cc05"/>
<polygon points="438.2,375.7 434,373.4 430.4,371.5 427.1,369.9 424.1,368.8 421.2,368.3 418.3,368.4 415.5,369.2 412.9,370.7 410.4,372.9 408.1,375.7 405.6,379.1 402.9,383.2 399.7,388 396.1,393.7 395.8,394.3 395.9,395 396.4,395.6 397.1,395.8 397.8,395.7 398.3,395.1 402.3,389.8 405.7,385.3 408.8,381.6 411.5,378.6 413.8,376.4 415.8,375 417.5,374 419.1,373.5 420.8,373.4 422.9,373.7 425.6,374.3 428.8,375.3 432.5,376.7 436.8,378.5" fill="#05cc05"/>
<path d="M424.2,332.8 Q423.1,347.1 434.8,355.4 Q435.9,341.1 424.2,332.8 Z" fill="#efdf68" stroke="#111" stroke-width="1.4" stroke-linejoin="round"/>
<path d="M438.7,366.9 Q450.3,359.2 449.3,345.3 Q437.7,353 438.7,366.9 Z" fill="#efdf68" stroke="#111" stroke-width="1.4" stroke-linejoin="round"/>
<path d="M426.6,363.7 Q425.3,377 436.4,384.5 Q437.7,371.2 426.6,363.7 Z" fill="#efdf68" stroke="#111" stroke-width="1.4" stroke-linejoin="round"/>
<path d="M437,297.6 L437,279.9 M437,296.7 Q432.4,296.6 427.8,294.2 M437,296.7 Q441.6,296.6 446.2,294.2 M437,295.3 Q433,293.8 429.1,290.1 M437,295.3 Q441,293.8 444.9,290.1 M437,293.8 Q432.9,290.8 428.8,285.7 M437,293.8 Q441.1,290.8 445.2,285.7 M437,291.8 Q433.8,287.9 430.5,281.7 M437,291.8 Q440.2,287.9 443.5,281.7 " stroke="#111" stroke-width="1.9" stroke-linecap="round" fill="none"/>
<path d="M374.4,415.5 L373.8,278 L378.2,278 L381.6,415.5 Z" fill="#22cc11"/>
<path d="M376.1,414.4 L375.5,280 L376.5,280 L379.9,414.4 Z" fill="#e2f07a"/>
<polygon points="379.3,295 380.8,293.1 382,291.6 383.1,290.5 384,289.8 384.4,289.5 384.4,289.5 384.3,289.5 384.6,289.7 385.5,290.1 386.8,291 388.4,292.3 390.3,294.1 392.5,296.4 395,299.1 395.5,299.6 396.2,299.7 396.9,299.4 397.3,298.8 397.4,298.1 397,297.5 394.8,294.5 393,291.9 391.3,289.7 389.9,287.8 388.6,286.3 387.2,285.1 385.5,284.5 383.5,284.4 381.8,285.1 380.4,286.2 379.5,287.6 378.6,289.3 377.7,291.2 376.7,293.4" fill="#05cc05"/>
<polygon points="377.2,305 374.8,301.9 372.8,299.3 370.9,297 369.1,295.2 367.2,293.8 365,293 362.7,292.9 360.5,293.5 358.5,294.8 356.6,296.5 354.6,298.7 352.4,301.4 349.9,304.5 347,308.1 346.6,308.7 346.6,309.5 347.1,310.1 347.7,310.4 348.5,310.4 349,309.9 352.2,306.5 355,303.8 357.4,301.5 359.5,299.9 361.2,298.9 362.5,298.3 363.3,298.1 363.9,298.1 364.8,298.5 366,299.2 367.7,300.4 369.8,302.1 372.1,304.3 374.8,307" fill="#05cc05"/>
<polygon points="379.4,316 381.4,312.9 383.2,310.2 384.7,308.2 386.1,307 386.9,306.3 387.4,306 387.9,306 388.8,306.4 390.5,307.3 392.6,308.9 395.2,311.1 398.3,314.1 402,317.7 406.1,322.1 406.7,322.6 407.4,322.6 408.1,322.3 408.5,321.6 408.5,320.9 408.1,320.3 404.2,315.7 400.9,311.7 398.1,308.3 395.6,305.6 393.4,303.4 391.3,301.8 388.9,301 386.4,300.9 384.1,301.9 382.3,303.5 381,305.6 379.6,308.1 378.2,311.1 376.6,314.6" fill="#05cc05"/>
<polygon points="376.9,328.7 373.3,325.8 370.1,323.2 367.3,321.1 364.7,319.3 362.2,318.3 359.5,317.8 356.9,318 354.5,318.9 352.3,320.5 350.2,322.7 348.2,325.4 345.9,328.7 343.4,332.5 340.4,336.9 340.1,337.6 340.2,338.3 340.7,338.9 341.4,339.1 342.1,339 342.6,338.5 345.9,334.3 348.7,330.8 351.2,328 353.5,325.8 355.3,324.4 356.9,323.5 358.1,323 359.2,323 360.6,323.2 362.5,323.9 364.9,325 367.8,326.6 371.2,328.7 375.1,331.3" fill="#05cc05"/>
<polygon points="379.1,343.3 381.9,340.8 384.3,338.8 386.3,337.4 388.1,336.6 389.4,336.2 390.6,336.1 392.1,336.5 394.1,337.4 396.7,338.9 399.8,341.1 403.6,344.1 408,347.9 413.2,352.5 419.1,357.9 419.7,358.4 420.4,358.4 421,358 421.4,357.3 421.4,356.6 420.9,356.1 415.3,350.3 410.4,345.3 406.3,341.1 402.7,337.7 399.6,334.9 396.7,332.9 393.9,331.5 391.1,330.9 388.3,331.1 385.8,332.1 383.6,333.7 381.5,335.8 379.3,338.3 376.9,341.1" fill="#05cc05"/>
<polygon points="377.2,356.6 373,354.3 369.4,352.4 366.1,350.8 363.1,349.7 360.2,349.2 357.3,349.3 354.5,350.1 351.9,351.6 349.4,353.8 347.1,356.6 344.6,360 341.9,364.1 338.7,368.9 335.1,374.6 334.8,375.2 334.9,375.9 335.4,376.5 336.1,376.7 336.8,376.6 337.3,376 341.3,370.7 344.7,366.2 347.8,362.5 350.5,359.5 352.8,357.3 354.8,355.9 356.5,354.9 358.1,354.4 359.8,354.3 361.9,354.6 364.6,355.2 367.8,356.2 371.5,357.6 375.8,359.4" fill="#05cc05"/>
<path d="M363.2,313.7 Q362.1,328 373.8,336.3 Q374.9,322 363.2,313.7 Z" fill="#efdf68" stroke="#111" stroke-width="1.4" stroke-linejoin="round"/>
<path d="M377.7,347.8 Q389.3,340.1 388.3,326.2 Q376.7,333.9 377.7,347.8 Z" fill="#efdf68" stroke="#111" stroke-width="1.4" stroke-linejoin="round"/>
<path d="M365.6,344.6 Q364.3,357.9 375.4,365.4 Q376.7,352.1 365.6,344.6 Z" fill="#efdf68" stroke="#111" stroke-width="1.4" stroke-linejoin="round"/>
<path d="M376,278.5 L376,260.8 M376,277.6 Q371.4,277.5 366.8,275.1 M376,277.6 Q380.6,277.5 385.2,275.1 M376,276.2 Q372,274.7 368.1,271 M376,276.2 Q380,274.7 383.9,271 M376,274.7 Q371.9,271.7 367.8,266.6 M376,274.7 Q380.1,271.7 384.2,266.6 M376,272.7 Q372.8,268.8 369.5,262.6 M376,272.7 Q379.2,268.8 382.5,262.6 " stroke="#111" stroke-width="1.9" stroke-linecap="round" fill="none"/>
<path d="M464.7,415.3 L464.1,277.8 L468.5,277.8 L471.9,415.3 Z" fill="#22cc11"/>
<path d="M466.4,414.2 L465.8,279.8 L466.8,279.8 L470.2,414.2 Z" fill="#e2f07a"/>
<polygon points="469.6,294.8 471.1,292.9 472.3,291.4 473.4,290.3 474.3,289.6 474.7,289.3 474.7,289.3 474.6,289.3 474.9,289.5 475.8,289.9 477.1,290.8 478.7,292.1 480.6,293.9 482.8,296.2 485.3,298.9 485.8,299.4 486.5,299.5 487.2,299.2 487.6,298.6 487.7,297.9 487.3,297.3 485.1,294.3 483.3,291.7 481.6,289.5 480.2,287.6 478.9,286.1 477.5,284.9 475.8,284.3 473.8,284.2 472.1,284.9 470.7,286 469.8,287.4 468.9,289.1 468,291 467,293.2" fill="#05cc05"/>
<polygon points="467.5,304.8 465.1,301.7 463.1,299.1 461.2,296.8 459.4,295 457.5,293.6 455.3,292.8 453,292.7 450.8,293.3 448.8,294.6 446.9,296.3 444.9,298.5 442.7,301.2 440.2,304.3 437.3,307.9 436.9,308.5 436.9,309.3 437.4,309.9 438,310.2 438.8,310.2 439.3,309.7 442.5,306.3 445.3,303.6 447.7,301.3 449.8,299.7 451.5,298.7 452.8,298.1 453.6,297.9 454.2,297.9 455.1,298.3 456.3,299 458,300.2 460.1,301.9 462.4,304.1 465.1,306.8" fill="#05cc05"/>
<polygon points="469.7,315.8 471.7,312.7 473.5,310 475,308 476.4,306.8 477.2,306.1 477.7,305.8 478.2,305.8 479.1,306.2 480.8,307.1 482.9,308.7 485.5,310.9 488.6,313.9 492.3,317.5 496.4,321.9 497,322.4 497.7,322.4 498.4,322.1 498.8,321.4 498.8,320.7 498.4,320.1 494.5,315.5 491.2,311.5 488.4,308.1 485.9,305.4 483.7,303.2 481.6,301.6 479.2,300.8 476.7,300.7 474.4,301.7 472.6,303.3 471.3,305.4 469.9,307.9 468.5,310.9 466.9,314.4" fill="#05cc05"/>
<polygon points="467.2,328.5 463.6,325.6 460.4,323 457.6,320.9 455,319.1 452.5,318.1 449.8,317.6 447.2,317.8 444.8,318.7 442.6,320.3 440.5,322.5 438.5,325.2 436.2,328.5 433.7,332.3 430.7,336.7 430.4,337.4 430.5,338.1 431,338.7 431.7,338.9 432.4,338.8 432.9,338.3 436.2,334.1 439,330.6 441.5,327.8 443.8,325.6 445.6,324.2 447.2,323.3 448.4,322.8 449.5,322.8 450.9,323 452.8,323.7 455.2,324.8 458.1,326.4 461.5,328.5 465.4,331.1" fill="#05cc05"/>
<polygon points="469.4,343.1 472.2,340.6 474.6,338.6 476.6,337.2 478.4,336.4 479.7,336 480.9,335.9 482.4,336.3 484.4,337.2 487,338.7 490.1,340.9 493.9,343.9 498.3,347.7 503.5,352.3 509.4,357.7 510,358.2 510.7,358.2 511.3,357.8 511.7,357.1 511.7,356.4 511.2,355.9 505.6,350.1 500.7,345.1 496.6,340.9 493,337.5 489.9,334.7 487,332.7 484.2,331.3 481.4,330.7 478.6,330.9 476.1,331.9 473.9,333.5 471.8,335.6 469.6,338.1 467.2,340.9" fill="#05cc05"/>
<polygon points="467.5,356.4 463.3,354.1 459.7,352.2 456.4,350.6 453.4,349.5 450.5,349 447.6,349.1 444.8,349.9 442.2,351.4 439.7,353.6 437.4,356.4 434.9,359.8 432.2,363.9 429,368.7 425.4,374.4 425.1,375 425.2,375.7 425.7,376.3 426.4,376.5 427.1,376.4 427.6,375.8 431.6,370.5 435,366 438.1,362.3 440.8,359.3 443.1,357.1 445.1,355.7 446.8,354.7 448.4,354.2 450.1,354.1 452.2,354.4 454.9,355 458.1,356 461.8,357.4 466.1,359.2" fill="#05cc05"/>
<path d="M453.5,313.5 Q452.4,327.8 464.1,336.1 Q465.2,321.8 453.5,313.5 Z" fill="#efdf68" stroke="#111" stroke-width="1.4" stroke-linejoin="round"/>
<path d="M468,347.6 Q479.6,339.9 478.6,326 Q467,333.7 468,347.6 Z" fill="#efdf68" stroke="#111" stroke-width="1.4" stroke-linejoin="round"/>
<path d="M455.9,344.4 Q454.6,357.7 465.7,365.2 Q467,351.9 455.9,344.4 Z" fill="#efdf68" stroke="#111" stroke-width="1.4" stroke-linejoin="round"/>
<path d="M466.3,278.3 L466.3,260.6 M466.3,277.4 Q461.7,277.3 457.1,274.9 M466.3,277.4 Q470.9,277.3 475.5,274.9 M466.3,276 Q462.3,274.5 458.4,270.8 M466.3,276 Q470.3,274.5 474.2,270.8 M466.3,274.5 Q462.2,271.5 458.1,266.4 M466.3,274.5 Q470.4,271.5 474.5,266.4 M466.3,272.5 Q463.1,268.6 459.8,262.4 M466.3,272.5 Q469.5,268.6 472.8,262.4 " stroke="#111" stroke-width="1.9" stroke-linecap="round" fill="none"/>
<path d="M416.6,414.5 L416,277 L420.4,277 L423.8,414.5 Z" fill="#22cc11"/>
<path d="M418.3,413.4 L417.7,279 L418.7,279 L422.1,413.4 Z" fill="#e2f07a"/>
<polygon points="421.5,294 423,292.1 424.2,290.6 425.3,289.5 426.2,288.8 426.6,288.5 426.6,288.5 426.5,288.5 426.8,288.7 427.7,289.1 429,290 430.6,291.3 432.5,293.1 434.7,295.4 437.2,298.1 437.7,298.6 438.4,298.7 439.1,298.4 439.5,297.8 439.6,297.1 439.2,296.5 437,293.5 435.2,290.9 433.5,288.7 432.1,286.8 430.8,285.3 429.4,284.1 427.7,283.5 425.7,283.4 424,284.1 422.6,285.2 421.7,286.6 420.8,288.3 419.9,290.2 418.9,292.4" fill="#05cc05"/>
<polygon points="419.4,304 417,300.9 415,298.3 413.1,296 411.3,294.2 409.4,292.8 407.2,292 404.9,291.9 402.7,292.5 400.7,293.8 398.8,295.5 396.8,297.7 394.6,300.4 392.1,303.5 389.2,307.1 388.8,307.7 388.8,308.5 389.3,309.1 389.9,309.4 390.7,309.4 391.2,308.9 394.4,305.5 397.2,302.8 399.6,300.5 401.7,298.9 403.4,297.9 404.7,297.3 405.5,297.1 406.1,297.1 407,297.5 408.2,298.2 409.9,299.4 412,301.1 414.3,303.3 417,306" fill="#05cc05"/>
<polygon points="421.6,315 423.6,311.9 425.4,309.2 426.9,307.2 428.3,306 429.1,305.3 429.6,305 430.1,305 431,305.4 432.7,306.3 434.8,307.9 437.4,310.1 440.5,313.1 444.2,316.7 448.3,321.1 448.9,321.6 449.6,321.6 450.3,321.3 450.7,320.6 450.7,319.9 450.3,319.3 446.4,314.7 443.1,310.7 440.3,307.3 437.8,304.6 435.6,302.4 433.5,300.8 431.1,300 428.6,299.9 426.3,300.9 424.5,302.5 423.2,304.6 421.8,307.1 420.4,310.1 418.8,313.6" fill="#05cc05"/>
<polygon points="419.1,327.7 415.5,324.8 412.3,322.2 409.5,320.1 406.9,318.3 404.4,317.3 401.7,316.8 399.1,317 396.7,317.9 394.5,319.5 392.4,321.7 390.4,324.4 388.1,327.7 385.6,331.5 382.6,335.9 382.3,336.6 382.4,337.3 382.9,337.9 383.6,338.1 384.3,338 384.8,337.5 388.1,333.3 390.9,329.8 393.4,327 395.7,324.8 397.5,323.4 399.1,322.5 400.3,322 401.4,322 402.8,322.2 404.7,322.9 407.1,324 410,325.6 413.4,327.7 417.3,330.3" fill="#05cc05"/>
<polygon points="421.3,342.3 424.1,339.8 426.5,337.8 428.5,336.4 430.3,335.6 431.6,335.2 432.8,335.1 434.3,335.5 436.3,336.4 438.9,337.9 442,340.1 445.8,343.1 450.2,346.9 455.4,351.5 461.3,356.9 461.9,357.4 462.6,357.4 463.2,357 463.6,356.3 463.6,355.6 463.1,355.1 457.5,349.3 452.6,344.3 448.5,340.1 444.9,336.7 441.8,333.9 438.9,331.9 436.1,330.5 433.3,329.9 430.5,330.1 428,331.1 425.8,332.7 423.7,334.8 421.5,337.3 419.1,340.1" fill="#05cc05"/>
<polygon points="419.4,355.6 415.2,353.3 411.6,351.4 408.3,349.8 405.3,348.7 402.4,348.2 399.5,348.3 396.7,349.1 394.1,350.6 391.6,352.8 389.3,355.6 386.8,359 384.1,363.1 380.9,367.9 377.3,373.6 377,374.2 377.1,374.9 377.6,375.5 378.3,375.7 379,375.6 379.5,375 383.5,369.7 386.9,365.2 390,361.5 392.7,358.5 395,356.3 397,354.9 398.7,353.9 400.3,353.4 402,353.3 404.1,353.6 406.8,354.2 410,355.2 413.7,356.6 418,358.4" fill="#05cc05"/>
<path d="M405.4,312.7 Q404.3,327 416,335.3 Q417.1,321 405.4,312.7 Z" fill="#efdf68" stroke="#111" stroke-width="1.4" stroke-linejoin="round"/>
<path d="M419.9,346.8 Q431.5,339.1 430.5,325.2 Q418.9,332.9 419.9,346.8 Z" fill="#efdf68" stroke="#111" stroke-width="1.4" stroke-linejoin="round"/>
<path d="M407.8,343.6 Q406.5,356.9 417.6,364.4 Q418.9,351.1 407.8,343.6 Z" fill="#efdf68" stroke="#111" stroke-width="1.4" stroke-linejoin="round"/>
<path d="M418.2,277.5 L418.2,259.8 M418.2,276.6 Q413.6,276.5 409,274.1 M418.2,276.6 Q422.8,276.5 427.4,274.1 M418.2,275.2 Q414.2,273.7 410.3,270 M418.2,275.2 Q422.2,273.7 426.1,270 M418.2,273.7 Q414.1,270.7 410,265.6 M418.2,273.7 Q422.3,270.7 426.4,265.6 M418.2,271.7 Q415,267.8 411.7,261.6 M418.2,271.7 Q421.4,267.8 424.7,261.6 " stroke="#111" stroke-width="1.9" stroke-linecap="round" fill="none"/>
<path d="M446.7,395.3 L446.1,257.8 L450.5,257.8 L453.9,395.3 Z" fill="#22cc11"/>
<path d="M448.4,394.2 L447.8,259.8 L448.8,259.8 L452.2,394.2 Z" fill="#e2f07a"/>
<polygon points="451.6,274.8 453.1,272.9 454.3,271.4 455.4,270.3 456.3,269.6 456.7,269.3 456.7,269.3 456.6,269.3 456.9,269.5 457.8,269.9 459.1,270.8 460.7,272.1 462.6,273.9 464.8,276.2 467.3,278.9 467.8,279.4 468.5,279.5 469.2,279.2 469.6,278.6 469.7,277.9 469.3,277.3 467.1,274.3 465.3,271.7 463.6,269.5 462.2,267.6 460.9,266.1 459.5,264.9 457.8,264.3 455.8,264.2 454.1,264.9 452.7,266 451.8,267.4 450.9,269.1 450,271 449,273.2" fill="#05cc05"/>
<polygon points="449.5,284.8 447.1,281.7 445.1,279.1 443.2,276.8 441.4,275 439.5,273.6 437.3,272.8 435,272.7 432.8,273.3 430.8,274.6 428.9,276.3 426.9,278.5 424.7,281.2 422.2,284.3 419.3,287.9 418.9,288.5 418.9,289.3 419.4,289.9 420,290.2 420.8,290.2 421.3,289.7 424.5,286.3 427.3,283.6 429.7,281.3 431.8,279.7 433.5,278.7 434.8,278.1 435.6,277.9 436.2,277.9 437.1,278.3 438.3,279 440,280.2 442.1,281.9 444.4,284.1 447.1,286.8" fill="#05cc05"/>
<polygon points="451.7,295.8 453.7,292.7 455.5,290 457,288 458.4,286.8 459.2,286.1 459.7,285.8 460.2,285.8 461.1,286.2 462.8,287.1 464.9,288.7 467.5,290.9 470.6,293.9 474.3,297.5 478.4,301.9 479,302.4 479.7,302.4 480.4,302.1 480.8,301.4 480.8,300.7 480.4,300.1 476.5,295.5 473.2,291.5 470.4,288.1 467.9,285.4 465.7,283.2 463.6,281.6 461.2,280.8 458.7,280.7 456.4,281.7 454.6,283.3 453.3,285.4 451.9,287.9 450.5,290.9 448.9,294.4" fill="#05cc05"/>
<polygon points="449.2,308.5 445.6,305.6 442.4,303 439.6,300.9 437,299.1 434.5,298.1 431.8,297.6 429.2,297.8 426.8,298.7 424.6,300.3 422.5,302.5 420.5,305.2 418.2,308.5 415.7,312.3 412.7,316.7 412.4,317.4 412.5,318.1 413,318.7 413.7,318.9 414.4,318.8 414.9,318.3 418.2,314.1 421,310.6 423.5,307.8 425.8,305.6 427.6,304.2 429.2,303.3 430.4,302.8 431.5,302.8 432.9,303 434.8,303.7 437.2,304.8 440.1,306.4 443.5,308.5 447.4,311.1" fill="#05cc05"/>
<polygon points="451.4,323.1 454.2,320.6 456.6,318.6 458.6,317.2 460.4,316.4 461.7,316 462.9,315.9 464.4,316.3 466.4,317.2 469,318.7 472.1,320.9 475.9,323.9 480.3,327.7 485.5,332.3 491.4,337.7 492,338.2 492.7,338.2 493.3,337.8 493.7,337.1 493.7,336.4 493.2,335.9 487.6,330.1 482.7,325.1 478.6,320.9 475,317.5 471.9,314.7 469,312.7 466.2,311.3 463.4,310.7 460.6,310.9 458.1,311.9 455.9,313.5 453.8,315.6 451.6,318.1 449.2,320.9" fill="#05cc05"/>
<polygon points="449.5,336.4 445.3,334.1 441.7,332.2 438.4,330.6 435.4,329.5 432.5,329 429.6,329.1 426.8,329.9 424.2,331.4 421.7,333.6 419.4,336.4 416.9,339.8 414.2,343.9 411,348.7 407.4,354.4 407.1,355 407.2,355.7 407.7,356.3 408.4,356.5 409.1,356.4 409.6,355.8 413.6,350.5 417,346 420.1,342.3 422.8,339.3 425.1,337.1 427.1,335.7 428.8,334.7 430.4,334.2 432.1,334.1 434.2,334.4 436.9,335 440.1,336 443.8,337.4 448.1,339.2" fill="#05cc05"/>
<path d="M435.5,293.5 Q434.4,307.8 446.1,316.1 Q447.2,301.8 435.5,293.5 Z" fill="#efdf68" stroke="#111" stroke-width="1.4" stroke-linejoin="round"/>
<path d="M450,327.6 Q461.6,319.9 460.6,306 Q449,313.7 450,327.6 Z" fill="#efdf68" stroke="#111" stroke-width="1.4" stroke-linejoin="round"/>
<path d="M437.9,324.4 Q436.6,337.7 447.7,345.2 Q449,331.9 437.9,324.4 Z" fill="#efdf68" stroke="#111" stroke-width="1.4" stroke-linejoin="round"/>
<path d="M448.3,258.3 L448.3,240.6 M448.3,257.4 Q443.7,257.3 439.1,254.9 M448.3,257.4 Q452.9,257.3 457.5,254.9 M448.3,256 Q444.3,254.5 440.4,250.8 M448.3,256 Q452.3,254.5 456.2,250.8 M448.3,254.5 Q444.2,251.5 440.1,246.4 M448.3,254.5 Q452.4,251.5 456.5,246.4 M448.3,252.5 Q445.1,248.6 441.8,242.4 M448.3,252.5 Q451.5,248.6 454.8,242.4 " stroke="#111" stroke-width="1.9" stroke-linecap="round" fill="none"/>
<path d="M494.7,395.3 L494.1,257.8 L498.5,257.8 L501.9,395.3 Z" fill="#22cc11"/>
<path d="M496.4,394.2 L495.8,259.8 L496.8,259.8 L500.2,394.2 Z" fill="#e2f07a"/>
<polygon points="499.6,274.8 501.1,272.9 502.3,271.4 503.4,270.3 504.3,269.6 504.7,269.3 504.7,269.3 504.6,269.3 504.9,269.5 505.8,269.9 507.1,270.8 508.7,272.1 510.6,273.9 512.8,276.2 515.3,278.9 515.8,279.4 516.5,279.5 517.2,279.2 517.6,278.6 517.7,277.9 517.3,277.3 515.1,274.3 513.3,271.7 511.6,269.5 510.2,267.6 508.9,266.1 507.5,264.9 505.8,264.3 503.8,264.2 502.1,264.9 500.7,266 499.8,267.4 498.9,269.1 498,271 497,273.2" fill="#05cc05"/>
<polygon points="497.5,284.8 495.1,281.7 493.1,279.1 491.2,276.8 489.4,275 487.5,273.6 485.3,272.8 483,272.7 480.8,273.3 478.8,274.6 476.9,276.3 474.9,278.5 472.7,281.2 470.2,284.3 467.3,287.9 466.9,288.5 466.9,289.3 467.4,289.9 468,290.2 468.8,290.2 469.3,289.7 472.5,286.3 475.3,283.6 477.7,281.3 479.8,279.7 481.5,278.7 482.8,278.1 483.6,277.9 484.2,277.9 485.1,278.3 486.3,279 488,280.2 490.1,281.9 492.4,284.1 495.1,286.8" fill="#05cc05"/>
<polygon points="499.7,295.8 501.7,292.7 503.5,290 505,288 506.4,286.8 507.2,286.1 507.7,285.8 508.2,285.8 509.1,286.2 510.8,287.1 512.9,288.7 515.5,290.9 518.6,293.9 522.3,297.5 526.4,301.9 527,302.4 527.7,302.4 528.4,302.1 528.8,301.4 528.8,300.7 528.4,300.1 524.5,295.5 521.2,291.5 518.4,288.1 515.9,285.4 513.7,283.2 511.6,281.6 509.2,280.8 506.7,280.7 504.4,281.7 502.6,283.3 501.3,285.4 499.9,287.9 498.5,290.9 496.9,294.4" fill="#05cc05"/>
<polygon points="497.2,308.5 493.6,305.6 490.4,303 487.6,300.9 485,299.1 482.5,298.1 479.8,297.6 477.2,297.8 474.8,298.7 472.6,300.3 470.5,302.5 468.5,305.2 466.2,308.5 463.7,312.3 460.7,316.7 460.4,317.4 460.5,318.1 461,318.7 461.7,318.9 462.4,318.8 462.9,318.3 466.2,314.1 469,310.6 471.5,307.8 473.8,305.6 475.6,304.2 477.2,303.3 478.4,302.8 479.5,302.8 480.9,303 482.8,303.7 485.2,304.8 488.1,306.4 491.5,308.5 495.4,311.1" fill="#05cc05"/>
<polygon points="499.4,323.1 502.2,320.6 504.6,318.6 506.6,317.2 508.4,316.4 509.7,316 510.9,315.9 512.4,316.3 514.4,317.2 517,318.7 520.1,320.9 523.9,323.9 528.3,327.7 533.5,332.3 539.4,337.7 540,338.2 540.7,338.2 541.3,337.8 541.7,337.1 541.7,336.4 541.2,335.9 535.6,330.1 530.7,325.1 526.6,320.9 523,317.5 519.9,314.7 517,312.7 514.2,311.3 511.4,310.7 508.6,310.9 506.1,311.9 503.9,313.5 501.8,315.6 499.6,318.1 497.2,320.9" fill="#05cc05"/>
<polygon points="497.5,336.4 493.3,334.1 489.7,332.2 486.4,330.6 483.4,329.5 480.5,329 477.6,329.1 474.8,329.9 472.2,331.4 469.7,333.6 467.4,336.4 464.9,339.8 462.2,343.9 459,348.7 455.4,354.4 455.1,355 455.2,355.7 455.7,356.3 456.4,356.5 457.1,356.4 457.6,355.8 461.6,350.5 465,346 468.1,342.3 470.8,339.3 473.1,337.1 475.1,335.7 476.8,334.7 478.4,334.2 480.1,334.1 482.2,334.4 484.9,335 488.1,336 491.8,337.4 496.1,339.2" fill="#05cc05"/>
<path d="M483.5,293.5 Q482.4,307.8 494.1,316.1 Q495.2,301.8 483.5,293.5 Z" fill="#efdf68" stroke="#111" stroke-width="1.4" stroke-linejoin="round"/>
<path d="M498,327.6 Q509.6,319.9 508.6,306 Q497,313.7 498,327.6 Z" fill="#efdf68" stroke="#111" stroke-width="1.4" stroke-linejoin="round"/>
<path d="M485.9,324.4 Q484.6,337.7 495.7,345.2 Q497,331.9 485.9,324.4 Z" fill="#efdf68" stroke="#111" stroke-width="1.4" stroke-linejoin="round"/>
<path d="M496.3,258.3 L496.3,240.6 M496.3,257.4 Q491.7,257.3 487.1,254.9 M496.3,257.4 Q500.9,257.3 505.5,254.9 M496.3,256 Q492.3,254.5 488.4,250.8 M496.3,256 Q500.3,254.5 504.2,250.8 M496.3,254.5 Q492.2,251.5 488.1,246.4 M496.3,254.5 Q500.4,251.5 504.5,246.4 M496.3,252.5 Q493.1,248.6 489.8,242.4 M496.3,252.5 Q499.5,248.6 502.8,242.4 " stroke="#111" stroke-width="1.9" stroke-linecap="round" fill="none"/>
<path d="M405.9,395 L405.3,257.5 L409.7,257.5 L413.1,395 Z" fill="#22cc11"/>
<path d="M407.6,393.9 L407,259.5 L408,259.5 L411.4,393.9 Z" fill="#e2f07a"/>
<polygon points="410.8,274.5 412.3,272.6 413.5,271.1 414.6,270 415.5,269.3 415.9,269 415.9,269 415.8,269 416.1,269.2 417,269.6 418.3,270.5 419.9,271.8 421.8,273.6 424,275.9 426.5,278.6 427,279.1 427.7,279.2 428.4,278.9 428.8,278.3 428.9,277.6 428.5,277 426.3,274 424.5,271.4 422.8,269.2 421.4,267.3 420.1,265.8 418.7,264.6 417,264 415,263.9 413.3,264.6 411.9,265.7 411,267.1 410.1,268.8 409.2,270.7 408.2,272.9" fill="#05cc05"/>
<polygon points="408.7,284.5 406.3,281.4 404.3,278.8 402.4,276.5 400.6,274.7 398.7,273.3 396.5,272.5 394.2,272.4 392,273 390,274.3 388.1,276 386.1,278.2 383.9,280.9 381.4,284 378.5,287.6 378.1,288.2 378.1,289 378.6,289.6 379.2,289.9 380,289.9 380.5,289.4 383.7,286 386.5,283.3 388.9,281 391,279.4 392.7,278.4 394,277.8 394.8,277.6 395.4,277.6 396.3,278 397.5,278.7 399.2,279.9 401.3,281.6 403.6,283.8 406.3,286.5" fill="#05cc05"/>
<polygon points="410.9,295.5 412.9,292.4 414.7,289.7 416.2,287.7 417.6,286.5 418.4,285.8 418.9,285.5 419.4,285.5 420.3,285.9 422,286.8 424.1,288.4 426.7,290.6 429.8,293.6 433.5,297.2 437.6,301.6 438.2,302.1 438.9,302.1 439.6,301.8 440,301.1 440,300.4 439.6,299.8 435.7,295.2 432.4,291.2 429.6,287.8 427.1,285.1 424.9,282.9 422.8,281.3 420.4,280.5 417.9,280.4 415.6,281.4 413.8,283 412.5,285.1 411.1,287.6 409.7,290.6 408.1,294.1" fill="#05cc05"/>
<polygon points="408.4,308.2 404.8,305.3 401.6,302.7 398.8,300.6 396.2,298.8 393.7,297.8 391,297.3 388.4,297.5 386,298.4 383.8,300 381.7,302.2 379.7,304.9 377.4,308.2 374.9,312 371.9,316.4 371.6,317.1 371.7,317.8 372.2,318.4 372.9,318.6 373.6,318.5 374.1,318 377.4,313.8 380.2,310.3 382.7,307.5 385,305.3 386.8,303.9 388.4,303 389.6,302.5 390.7,302.5 392.1,302.7 394,303.4 396.4,304.5 399.3,306.1 402.7,308.2 406.6,310.8" fill="#05cc05"/>
<polygon points="410.6,322.8 413.4,320.3 415.8,318.3 417.8,316.9 419.6,316.1 420.9,315.7 422.1,315.6 423.6,316 425.6,316.9 428.2,318.4 431.3,320.6 435.1,323.6 439.5,327.4 444.7,332 450.6,337.4 451.2,337.9 451.9,337.9 452.5,337.5 452.9,336.8 452.9,336.1 452.4,335.6 446.8,329.8 441.9,324.8 437.8,320.6 434.2,317.2 431.1,314.4 428.2,312.4 425.4,311 422.6,310.4 419.8,310.6 417.3,311.6 415.1,313.2 413,315.3 410.8,317.8 408.4,320.6" fill="#05cc05"/>
<polygon points="408.7,336.1 404.5,333.8 400.9,331.9 397.6,330.3 394.6,329.2 391.7,328.7 388.8,328.8 386,329.6 383.4,331.1 380.9,333.3 378.6,336.1 376.1,339.5 373.4,343.6 370.2,348.4 366.6,354.1 366.3,354.7 366.4,355.4 366.9,356 367.6,356.2 368.3,356.1 368.8,355.5 372.8,350.2 376.2,345.7 379.3,342 382,339 384.3,336.8 386.3,335.4 388,334.4 389.6,333.9 391.3,333.8 393.4,334.1 396.1,334.7 399.3,335.7 403,337.1 407.3,338.9" fill="#05cc05"/>
<path d="M394.7,293.2 Q393.6,307.5 405.3,315.8 Q406.4,301.5 394.7,293.2 Z" fill="#efdf68" stroke="#111" stroke-width="1.4" stroke-linejoin="round"/>
<path d="M409.2,327.3 Q420.8,319.6 419.8,305.7 Q408.2,313.4 409.2,327.3 Z" fill="#efdf68" stroke="#111" stroke-width="1.4" stroke-linejoin="round"/>
<path d="M397.1,324.1 Q395.8,337.4 406.9,344.9 Q408.2,331.6 397.1,324.1 Z" fill="#efdf68" stroke="#111" stroke-width="1.4" stroke-linejoin="round"/>
<path d="M407.5,258 L407.5,240.3 M407.5,257.1 Q402.9,256.9 398.3,254.6 M407.5,257.1 Q412.1,256.9 416.7,254.6 M407.5,255.7 Q403.5,254.2 399.6,250.5 M407.5,255.7 Q411.5,254.2 415.4,250.5 M407.5,254.2 Q403.4,251.2 399.3,246.1 M407.5,254.2 Q411.6,251.2 415.7,246.1 M407.5,252.2 Q404.3,248.3 401,242.1 M407.5,252.2 Q410.7,248.3 414,242.1 " stroke="#111" stroke-width="1.9" stroke-linecap="round" fill="none"/>
<polygon points="557.6,196.8 582.2,174.8 596.2,167.8 606.8,150.2 618.2,141.4 623.5,143.2 627.9,152.9 634.9,156.4 649,152.5 657.8,155.5 670,167.8 684.1,183.6 698.2,197.1 627.9,193.3" fill="#663300" stroke="#111" stroke-width="1.4" stroke-linejoin="round"/>
<path d="M432,150.5 L593,150.5 M432,182 L580,182 M379,175.5 L433,150.5 M379,206.5 L433,182 M536,175.5 L590,150.5 M536,206.5 L590,182 M432.3,129.4 L432.3,198.5 M514.5,129.4 L514.5,198.5 M588.1,129.4 L588.1,198.5 " stroke="#302e08" stroke-width="3.3" fill="none"/>
<path d="M497,66 C505,63 515,70 522,72 C530,71 540,69 546,74 C550,80 550,90 547,96 L545,120 L539,120 L537,104 C530,106 515,104 505,100 C500,92 496,80 497,66 Z" fill="#b80c0c" stroke="#1a0303" stroke-width="1.6" stroke-linejoin="round"/>
<path d="M540,70 C548,72 551,82 548,95 L546,112 L543,110 C546,95 546,80 540,70 Z" fill="#3a0202"/>
<path d="M482,66 L494,63 L500,68 L497,78 L492,88 L486,88 L483,80 Z" fill="#b00c08" stroke="#1a0303" stroke-width="1.6" stroke-linejoin="round"/>
<path d="M487,69 L490,68 L489,82 L486,83 Z" fill="#c8ae90"/>
<path d="M482.8,67 Q481.2,60.2 484.6,53.5 Q483.6,60.2 486.2,67 Z" fill="#111" stroke="#111" stroke-width="0.6" stroke-linejoin="round"/>
<path d="M490.8,65 Q494.4,59.5 495,54 Q496.8,59.5 494.2,65 Z" fill="#111" stroke="#111" stroke-width="0.6" stroke-linejoin="round"/>
<path d="M471,86 C476,84 482,85 486,87 C492,89 500,93 506,96 L518,103 C520,110 519,117 517.5,122 L517.6,142.5 L510.6,142.5 L509,124 C505,122 502,119 500,118 L489.5,118.6 L489.5,137.6 L483.7,137.4 L480.1,113 C476,108 472,102 470.5,96 Z" fill="#bf4a0c" stroke="#1a0303" stroke-width="1.6" stroke-linejoin="round"/>
<path d="M471.5,87 C476,85 482,86 486,88 C488,96 485,104 479,107 C475,102 472,95 471.5,87 Z" fill="#b00808"/>
<path d="M498,95 C506,97 512,101 515,107 C511,112 503,111 499,105 Z" fill="#a00808"/>
<path d="M494.2,118.5 L500.1,118.5 L499.2,135 L495,135 Z" fill="#b9ab94" stroke="#1a0303" stroke-width="1.6" stroke-linejoin="round"/>
<path d="M458,80 L470.5,78.5 L474.5,87 L467.5,97 L461.4,98 L457.5,91 Z" fill="#b00c08" stroke="#1a0303" stroke-width="1.6" stroke-linejoin="round"/>
<path d="M462,84 L465.5,83 L463.5,95 L461,95.5 Z" fill="#c8ae90"/>
<path d="M456,81 L459.5,79 M472,79 L477,80" stroke="#1a0303" stroke-width="2.4" stroke-linecap="round"/>
<path d="M459.1,79 Q457.8,72.7 462,66.4 Q460.2,72.7 462.5,79 Z" fill="#111" stroke="#111" stroke-width="0.6" stroke-linejoin="round"/>
<path d="M468.5,79 Q470.5,73.3 468.4,67.6 Q472.9,73.3 471.9,79 Z" fill="#111" stroke="#111" stroke-width="0.6" stroke-linejoin="round"/>
<path d="M508,86 C515,84 522,88 530,88 C540,89 550,91 557,89 C562,90 566,96 566,108 C565,115 563,120 563,128 L563,147 L556,147 L555,128 L552,128 L554,147 L548,147 L545,124 C538,123 530,122 525,120 L524,143 L516,143 L515,118 C510,110 507,98 508,86 Z" fill="#b3330a" stroke="#1a0303" stroke-width="1.6" stroke-linejoin="round"/>
<path d="M509,87 C515,85 522,88 528,90 C530,100 526,110 520,113 C514,108 510,98 509,87 Z" fill="#bb0c0c"/>
<path d="M530,92 C538,92 545,96 546,104 C544,112 536,112 532,106 Z" fill="#b00a0a"/>
<path d="M556,90 C562,91 565,97 565,108 C564,115 562,120 562,128 L562,146 L558,146 C558,130 560,110 556,90 Z" fill="#5e0404"/>
<path d="M549,128 L553,128 L554,146 L549,146 Z" fill="#6a0505"/>
<path d="M534.5,121 L538.8,121 L539,140 L535,140 Z" fill="#b9ab94" stroke="#1a0303" stroke-width="1.6" stroke-linejoin="round"/>
<path d="M499,80 L510,77 L514,86 L509,100 L503,103 L499,96 Z" fill="#b00c08" stroke="#1a0303" stroke-width="1.6" stroke-linejoin="round"/>
<path d="M503,84 L506,83 L505,98 L502,99 Z" fill="#c8ae90"/>
<path d="M499.3,81 Q497.5,75.8 500,70.5 Q499.9,75.8 502.7,81 Z" fill="#111" stroke="#111" stroke-width="0.6" stroke-linejoin="round"/>
<path d="M507.8,79 Q510.4,74.2 510,69.5 Q512.8,74.2 511.2,79 Z" fill="#111" stroke="#111" stroke-width="0.6" stroke-linejoin="round"/>
<path d="M497,86 L546,89.5" stroke="#2a0303" stroke-width="1.8"/>
<path d="M373,175.5 L540,175.5 M373,206.5 L540,206.5 M378.4,155 L378.4,224.3 M456.9,155 L456.9,224.3 M535.6,155 L535.6,224.3 " stroke="#302e08" stroke-width="3.3" fill="none"/>
<path d="M251.4,406.1 C242.2,404.6 214.1,400.2 196.2,397 C178.3,393.8 158.8,390.1 144.1,386.6 C129.3,383.1 117.7,380.3 107.7,376.2 C97.7,372.1 90.8,367.5 84.3,361.9 C77.8,356.3 71.9,348.7 68.6,342.4 C65.3,336.1 64.8,331.5 64.5,324.1 C64.2,316.7 65,307.6 66.5,298.1 C68,288.6 71.5,274.8 73.8,266.9 C76.1,259 79.4,253.6 80.6,250.9 " fill="none" stroke="#3593f3" stroke-width="4.2" stroke-linecap="butt"/>
<polygon points="83.5,244 84.1,257.9 79.5,253.4 73.1,253.2" fill="#3593f3"/>
<path d="M176.8,602.6 C173.1,596.5 161.9,578.3 154.4,566 C146.9,553.7 138.3,540.2 131.6,528.8 C124.9,517.3 118.7,506.4 114.4,497.3 C110.1,488.2 108.1,483.1 105.8,474.4 C103.5,465.7 101.7,454.1 100.5,445 C99.3,435.9 98.7,427.5 98.8,420 C98.9,412.5 99.7,407.3 101.2,400 C102.7,392.7 104.9,384.5 107.7,376.2 C110.5,367.9 113.3,358.9 118.1,350.2 C122.9,341.5 128.9,332.8 136.3,324.1 C143.7,315.4 152.4,306.8 162.4,298.1 C172.4,289.4 185.3,280.4 196.2,272.1 C207,263.9 215.2,257 227.5,248.6 C239.8,240.2 257.7,229.6 270,221.9 C282.3,214.2 290.4,209.8 301.3,202.4 C312.2,195 323,185.9 335.1,177.7 C347.2,169.4 362.1,160.9 374.2,152.9 C386.3,144.9 396.5,136.5 408,129.5 C419.5,122.5 437.2,113.9 443.1,110.8 " fill="none" stroke="#3593f3" stroke-width="4.2" stroke-linecap="butt"/>
<polygon points="449.7,107.3 441.5,118.5 440.7,112.1 435.8,107.9" fill="#3593f3"/>
<path d="M353.9,274 C352.5,268.6 348.3,253 345.5,241.5 C342.7,230 338.9,215.4 337.2,205 C335.5,194.6 334.8,186.8 335.1,179 C335.4,171.2 336.4,164.2 339,158.1 C341.6,152 344.8,147.7 350.7,142.5 C356.6,137.3 365.1,131.9 374.2,126.9 C383.3,121.9 394.4,117 405.4,112.6 C416.4,108.2 434.3,102.3 440,100.2 " fill="none" stroke="#3593f3" stroke-width="4.2" stroke-linecap="butt"/>
<polygon points="447.1,97.7 437.3,107.6 437.4,101.1 433.3,96.3" fill="#3593f3"/>
<path d="M690.5,117.2 C688.5,114.3 682.8,105.7 678.8,100 C674.7,94.3 670.9,88.5 666.2,82.8 C661.6,77.1 655.8,70.4 650.6,65.6 C645.4,60.8 641,57.3 635,53.9 C629,50.5 622,47.4 614.7,45.3 C607.4,43.2 600.4,42.4 591.2,41.4 C582.1,40.4 571.4,39.8 560,39.1 C548.6,38.4 537.1,37.6 522.7,37.4 C508.3,37.2 486.2,37.1 473.8,37.8 C461.4,38.5 454.4,39.8 448.4,41.7 C442.4,43.7 439.6,46.6 437.7,49.5 C435.8,52.4 436.2,55.7 436.7,59.3 C437.2,62.9 439.6,67.8 440.6,71 C441.6,74.2 442.2,77.1 442.6,78.4 " fill="none" stroke="#3593f3" stroke-width="4.2" stroke-linecap="butt"/>
<polygon points="444.5,85.6 435.5,75.1 441.9,75.7 447.1,72" fill="#3593f3"/>
<path d="M757,352.9 C756.7,343.1 756.5,310.6 755.4,294.3 C754.3,278 753.1,268.2 750.3,255.2 C747.5,242.2 744.1,229.2 738.6,216.2 C733.1,203.2 725.3,189 717.1,177.1 C708.9,165.2 697.4,154.2 689.4,145 C681.4,135.8 676.4,129.7 669.4,121.9 C662.4,114.1 654.8,105.4 647.5,98.4 C640.2,91.4 632.9,85.2 625.6,79.7 C618.3,74.2 610.8,69.2 603.8,65.6 C596.7,61.9 590.7,59.9 583.4,57.8 C576.1,55.7 570.1,54.5 560,53.1 C549.9,51.7 535.4,49.7 522.7,49.1 C510,48.5 493.7,49.1 483.6,49.5 C473.5,49.9 467,50.3 462.1,51.4 C457.2,52.5 455.5,54.4 454.3,56.3 C453.1,58.2 454.7,61.5 454.8,62.5 " fill="none" stroke="#3593f3" stroke-width="4.2" stroke-linecap="butt"/>
<polygon points="455.3,70 448.4,58 454.6,59.8 460.4,57.1" fill="#3593f3"/>
<path d="M570.2,109.4 C571.8,110.6 577.4,113.8 579.6,116.7 C581.8,119.7 583.3,123.6 583.3,127.1 C583.3,130.6 582,133.8 579.6,137.5 C577.2,141.2 573.7,145.2 569.2,149 C564.7,152.8 558.8,156.2 552.5,160.4 C546.2,164.6 538.1,169.8 531.7,174 C525.3,178.2 516.9,183.6 514,185.5 " fill="none" stroke="#3593f3" stroke-width="4.2" stroke-linecap="butt"/>
<polygon points="507.7,189.6 514.9,177.8 516.3,184 521.5,187.8" fill="#3593f3"/>
<path d="M516,201 C518.6,203.1 525.6,208.8 531.7,213.5 C537.8,218.2 545.6,224.7 552.5,229.2 C559.4,233.7 567,238.3 573.3,240.6 C579.5,242.8 584.4,243.6 590,242.7 C595.6,241.8 601.8,238.7 606.7,235.4 C611.6,232.1 616.1,227 619.2,222.9 C622.3,218.8 624.2,212.9 625.2,210.9 " fill="none" stroke="#3593f3" stroke-width="4.2" stroke-linecap="butt"/>
<polygon points="628.5,204.2 628.3,218.1 623.9,213.4 617.6,212.7" fill="#3593f3"/>
<path d="M145.4,213.2 C150.3,211.5 165.2,205.6 175,203 C184.8,200.4 196.2,197.4 204,197.4 C211.8,197.4 217.4,199.7 222,203 C226.6,206.3 229.8,215 231.4,217.4 " fill="none" stroke="#333399" stroke-width="4" stroke-linecap="butt"/>
<polygon points="235.5,223.7 223.6,216.5 229.9,215.1 233.7,210" fill="#333399"/>
<path d="M98.6,420.6 C103.8,420.1 119.7,418.3 130,417.5 C140.3,416.7 148,416 160.2,415.7 C172.4,415.4 192.1,414.9 203.1,415.7 C214.1,416.5 221,419.1 226,420.5 C231,421.9 232.1,423.5 233.3,424.1 " fill="none" stroke="#333399" stroke-width="3.8" stroke-linecap="butt"/>
<polygon points="240,427.5 226.1,427.3 230.8,422.9 231.5,416.5" fill="#333399"/>
<path d="M656.7,202.1 C656.4,206.6 655.7,218.2 654.6,229.2 C653.5,240.2 652.2,257.8 650.3,268.2 C648.4,278.6 646.6,284 643,291.9 C639.4,299.8 634.5,308.3 628.4,315.6 C622.3,322.9 614.4,329.1 606.5,335.6 C598.6,342.1 589.3,348.4 581,354.5 C572.7,360.6 560.7,369.1 556.6,372 " fill="none" stroke="#333399" stroke-width="4" stroke-linecap="butt"/>
<polygon points="550.5,376.4 557.2,364.2 558.8,370.4 564.2,374" fill="#333399"/>
<path d="M27.9,385.4 Q48.8,383.4 69.6,385.4 Q71.6,401.3 70.1,418.2 Q72.1,435.2 70.6,449.1 Q53.1,453.1 29.9,450.1 Q25.9,435.2 27.4,418.2 Q25.9,401.3 27.9,385.4 Z" fill="#ffffff" stroke="#111" stroke-width="1.4"/>
<path d="M30.9,387.4 Q29.4,404.7 30.9,418.2 Q32.4,435.2 30.9,450.1" fill="none" stroke="#111" stroke-width="1"/>
<path d="M27.9,385.4 Q48.8,383.4 69.6,385.4" fill="none" stroke="#111" stroke-width="2.4"/>
<text x="34.5" y="414.5" font-family="'Liberation Serif', serif" font-size="13.5" fill="#444">NPK</text>
<circle cx="49.2" cy="428.4" r="8.4" fill="#c6e3ec" stroke="#111" stroke-width="1.3"/>
<circle cx="49.2" cy="428.4" r="5.6" fill="#c6e3ec" stroke="#111" stroke-width="1"/>
<path d="M44.9,402.3 Q65.9,400.3 86.9,402.3 Q88.9,418 87.4,434.8 Q89.4,451.5 87.9,465.2 Q70.3,469.2 46.9,466.2 Q42.9,451.5 44.4,434.8 Q42.9,418 44.9,402.3 Z" fill="#ffffff" stroke="#111" stroke-width="1.4"/>
<path d="M47.9,404.3 Q46.4,421.4 47.9,434.8 Q49.4,451.5 47.9,466.2" fill="none" stroke="#111" stroke-width="1"/>
<path d="M44.9,402.3 Q65.9,400.3 86.9,402.3" fill="none" stroke="#111" stroke-width="2.4"/>
<text x="51.5" y="431.4" font-family="'Liberation Serif', serif" font-size="13.5" fill="#444">NPK</text>
<circle cx="66.2" cy="445.3" r="8.4" fill="#c6e3ec" stroke="#111" stroke-width="1.3"/>
<circle cx="66.2" cy="445.3" r="5.6" fill="#c6e3ec" stroke="#111" stroke-width="1"/>
<path d="M61.8,420.1 Q82.8,418.1 103.8,420.1 Q105.8,436 104.3,453 Q106.3,469.9 104.8,483.8 Q87.2,487.8 63.8,484.8 Q59.8,469.9 61.3,453 Q59.8,436 61.8,420.1 Z" fill="#ffffff" stroke="#111" stroke-width="1.4"/>
<path d="M64.8,422.1 Q63.3,439.4 64.8,453 Q66.3,469.9 64.8,484.8" fill="none" stroke="#111" stroke-width="1"/>
<path d="M61.8,420.1 Q82.8,418.1 103.8,420.1" fill="none" stroke="#111" stroke-width="2.4"/>
<text x="68.4" y="449.2" font-family="'Liberation Serif', serif" font-size="13.5" fill="#444">NPK</text>
<circle cx="83.1" cy="463.1" r="8.4" fill="#c6e3ec" stroke="#111" stroke-width="1.3"/>
<circle cx="83.1" cy="463.1" r="5.6" fill="#c6e3ec" stroke="#111" stroke-width="1"/>
<g transform="translate(797.7,466.1) rotate(-9.8)">
<rect x="0" y="0" width="42.2" height="187" fill="#99cc00"/>
<text transform="translate(21.1,12.6) rotate(90)" dominant-baseline="central" font-family="'Liberation Sans', sans-serif" font-size="17" fill="#000">Green manures</text>
</g>
<g transform="translate(841.2,466.6) rotate(-5.5)">
<rect x="0" y="0" width="42.4" height="186" fill="#99cc00"/>
<text transform="translate(21.2,8.7) rotate(90)" dominant-baseline="central" font-family="'Liberation Sans', sans-serif" font-size="17" fill="#000">Agroforestry</text>
</g>
<g transform="translate(898.6,461.1) rotate(7.5)">
<rect x="0" y="0" width="42" height="190" fill="#99cc00"/>
<text transform="translate(21,12.6) rotate(-90)" text-anchor="end" dominant-baseline="central" font-family="'Liberation Sans', sans-serif" font-size="17" fill="#000">Fodder legumes</text>
</g>
<g transform="translate(934.1,522.7) rotate(13.8)">
<rect x="0" y="0" width="41.4" height="132" fill="#99cc00"/>
<text transform="translate(20.7,25.4) rotate(-90)" text-anchor="end" dominant-baseline="central" font-family="'Liberation Sans', sans-serif" font-size="17" fill="#000">Manure</text>
</g>
<g transform="translate(981.3,538.2) rotate(21.5)">
<rect x="0" y="0" width="43" height="118" fill="#99cc00"/>
<text transform="translate(21.5,11.2) rotate(-90)" text-anchor="end" dominant-baseline="central" font-family="'Liberation Sans', sans-serif" font-size="17" fill="#000">Fertilizers</text>
</g>
<polygon points="818.6,617.8 831.6,614 831.6,620 843.6,618 848,652 821,652" fill="#ffffff"/>
<polygon points="853.8,615 856,622 871.5,621 873.3,626 876,652 859,652" fill="#ffffff"/>
<polygon points="894.6,631.7 913.2,630.8 916,625.3 921.6,625.3 919,636 915,652 895.5,652" fill="#ffffff"/>
<polygon points="931.7,629 943,630 957.7,639 954,652 931.7,652 935.5,641" fill="#ffffff"/>
<polygon points="800,641 807,639 808,652 800,652" fill="#ffffff"/>
<g transform="translate(744.2,491) rotate(-18.3)">
<rect x="0" y="0" width="42.3" height="156" fill="#99cc00"/>
<text transform="translate(21.1,9.3) rotate(90)" dominant-baseline="central" font-family="'Liberation Sans', sans-serif" font-size="17" fill="#000">Grain legumes</text>
</g>
<polygon points="805,639.5 818.5,635 825,652.5 811.5,652.5" fill="#99cc00"/>
<path d="M794.4,651 C797.7,644.5 805.9,625.5 814,611.8 C822.1,598.1 831.8,579.8 843.2,568.9 C854.6,558 870.6,547.5 882.3,546.2 C894,544.9 902.4,551.4 913.5,561 C924.6,570.6 938.6,589.5 948.7,604 C958.8,618.5 969.8,640.7 974,648 " fill="none" stroke="url(#weave2)" stroke-width="6.5"/>
<polygon points="789.5,652.2 982,652.2 939.2,724.8 836,724.8" fill="url(#weave)"/>
<text x="889.5" y="694" text-anchor="middle" font-family="'Liberation Sans', sans-serif" font-size="28" fill="#000">Options</text>
<rect x="941.1" y="715.9" width="70.5" height="39.8" fill="#000"/>
<path d="M943.5,735 A19.5,19.5 0 0 1 982.5,738" fill="none" stroke="#1d7a40" stroke-width="2.6"/>
<path d="M956,754 Q955,742 949,731 M959,754 Q959,741 955,729 M962.5,754 Q963,740 961,728 M966,754 Q967,741 967,729 M969.5,753 Q971,742 973,731 M972.5,751 Q975,743 978,735" fill="none" stroke="#3f9a50" stroke-width="1.7"/>
<path d="M953,733 L957,723 M958,731 L961,721.5 M963,730 L966,722 M968,731 L972,724" stroke="#cfe3cf" stroke-width="1.3"/>
</svg>
</body></html>
